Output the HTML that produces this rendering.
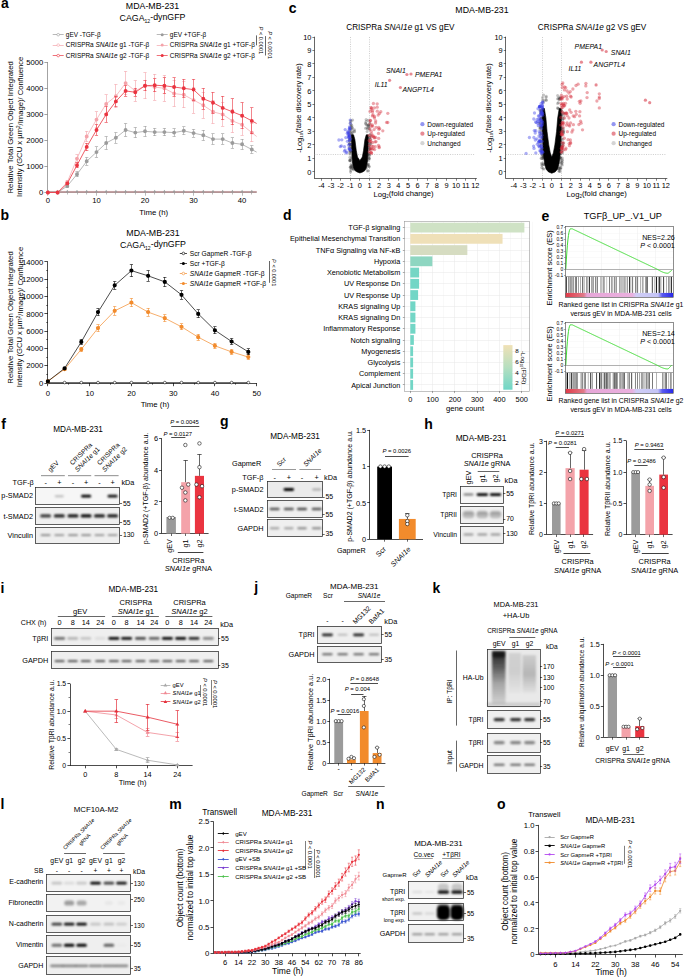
<!DOCTYPE html>
<html><head><meta charset="utf-8"><style>
html,body{margin:0;padding:0;background:#fff;}
svg{display:block;font-family:"Liberation Sans",sans-serif;}
</style></head><body>
<svg width="685" height="978" viewBox="0 0 685 978">
<defs>
<filter id="b1" x="-50%" y="-100%" width="200%" height="300%"><feGaussianBlur stdDeviation="0.8"/></filter>
<filter id="b2" x="-50%" y="-100%" width="200%" height="300%"><feGaussianBlur stdDeviation="1.1"/></filter>
<filter id="b3" x="-50%" y="-50%" width="200%" height="200%"><feGaussianBlur stdDeviation="2"/></filter>
</defs>
<rect width="685" height="978" fill="#fff"/>
<text x="0.90" y="8.40" font-size="14.00" font-weight="bold">a</text>
<text x="152.50" y="9.07" font-size="8.80" text-anchor="middle">MDA-MB-231</text>
<text x="152.50" y="21.37" font-size="8.80" text-anchor="middle">CAGA<tspan font-size="58%" dy="0.3em">12</tspan><tspan dy="-0.3em">​</tspan>-dynGFP</text>
<line x1="47.50" y1="62.00" x2="47.50" y2="192.50" stroke="#8c8c8c" stroke-width="0.80" />
<line x1="47.90" y1="192.50" x2="256.67" y2="192.50" stroke="#8c8c8c" stroke-width="0.80" />
<line x1="44.40" y1="192.50" x2="47.90" y2="192.50" stroke="#8c8c8c" stroke-width="0.80" />
<text x="43.30" y="195.27" font-size="7.70" text-anchor="end">0</text>
<line x1="44.40" y1="166.50" x2="47.90" y2="166.50" stroke="#8c8c8c" stroke-width="0.80" />
<text x="43.30" y="169.23" font-size="7.70" text-anchor="end">1000</text>
<line x1="44.40" y1="140.50" x2="47.90" y2="140.50" stroke="#8c8c8c" stroke-width="0.80" />
<text x="43.30" y="143.19" font-size="7.70" text-anchor="end">2000</text>
<line x1="44.40" y1="114.50" x2="47.90" y2="114.50" stroke="#8c8c8c" stroke-width="0.80" />
<text x="43.30" y="117.15" font-size="7.70" text-anchor="end">3000</text>
<line x1="44.40" y1="88.50" x2="47.90" y2="88.50" stroke="#8c8c8c" stroke-width="0.80" />
<text x="43.30" y="91.11" font-size="7.70" text-anchor="end">4000</text>
<line x1="44.40" y1="62.50" x2="47.90" y2="62.50" stroke="#8c8c8c" stroke-width="0.80" />
<text x="43.30" y="65.07" font-size="7.70" text-anchor="end">5000</text>
<line x1="47.50" y1="192.50" x2="47.50" y2="195.70" stroke="#8c8c8c" stroke-width="0.60" />
<line x1="57.50" y1="192.50" x2="57.50" y2="194.50" stroke="#8c8c8c" stroke-width="0.60" />
<line x1="67.50" y1="192.50" x2="67.50" y2="194.50" stroke="#8c8c8c" stroke-width="0.60" />
<line x1="77.50" y1="192.50" x2="77.50" y2="194.50" stroke="#8c8c8c" stroke-width="0.60" />
<line x1="86.50" y1="192.50" x2="86.50" y2="194.50" stroke="#8c8c8c" stroke-width="0.60" />
<line x1="96.50" y1="192.50" x2="96.50" y2="195.70" stroke="#8c8c8c" stroke-width="0.60" />
<line x1="106.50" y1="192.50" x2="106.50" y2="194.50" stroke="#8c8c8c" stroke-width="0.60" />
<line x1="115.50" y1="192.50" x2="115.50" y2="194.50" stroke="#8c8c8c" stroke-width="0.60" />
<line x1="125.50" y1="192.50" x2="125.50" y2="194.50" stroke="#8c8c8c" stroke-width="0.60" />
<line x1="135.50" y1="192.50" x2="135.50" y2="194.50" stroke="#8c8c8c" stroke-width="0.60" />
<line x1="145.50" y1="192.50" x2="145.50" y2="195.70" stroke="#8c8c8c" stroke-width="0.60" />
<line x1="154.50" y1="192.50" x2="154.50" y2="194.50" stroke="#8c8c8c" stroke-width="0.60" />
<line x1="164.50" y1="192.50" x2="164.50" y2="194.50" stroke="#8c8c8c" stroke-width="0.60" />
<line x1="174.50" y1="192.50" x2="174.50" y2="194.50" stroke="#8c8c8c" stroke-width="0.60" />
<line x1="183.50" y1="192.50" x2="183.50" y2="194.50" stroke="#8c8c8c" stroke-width="0.60" />
<line x1="193.50" y1="192.50" x2="193.50" y2="195.70" stroke="#8c8c8c" stroke-width="0.60" />
<line x1="203.50" y1="192.50" x2="203.50" y2="194.50" stroke="#8c8c8c" stroke-width="0.60" />
<line x1="212.50" y1="192.50" x2="212.50" y2="194.50" stroke="#8c8c8c" stroke-width="0.60" />
<line x1="222.50" y1="192.50" x2="222.50" y2="194.50" stroke="#8c8c8c" stroke-width="0.60" />
<line x1="232.50" y1="192.50" x2="232.50" y2="194.50" stroke="#8c8c8c" stroke-width="0.60" />
<line x1="242.50" y1="192.50" x2="242.50" y2="195.70" stroke="#8c8c8c" stroke-width="0.60" />
<line x1="251.50" y1="192.50" x2="251.50" y2="194.50" stroke="#8c8c8c" stroke-width="0.60" />
<text x="47.90" y="202.57" font-size="7.70" text-anchor="middle">0</text>
<text x="96.45" y="202.57" font-size="7.70" text-anchor="middle">10</text>
<text x="145.00" y="202.57" font-size="7.70" text-anchor="middle">20</text>
<text x="193.55" y="202.57" font-size="7.70" text-anchor="middle">30</text>
<text x="242.10" y="202.57" font-size="7.70" text-anchor="middle">40</text>
<text x="153.70" y="215.31" font-size="7.80" text-anchor="middle">Time (h)</text>
<text x="0" y="2.81" font-size="7.80" text-anchor="middle" transform="translate(9.80 127.30) rotate(-90)">Relative Total Green Object Integrated</text>
<text x="0" y="2.75" font-size="7.65" text-anchor="middle" transform="translate(18.80 126.80) rotate(-90)">Intensity (GCU x µm<tspan font-size="60%" dy="-0.4em">2</tspan><tspan dy="0.4em">​</tspan>/Image)/ Confluence</text>
<polyline points="47.90,191.46 256.67,191.46" fill="none" stroke="#f3b0b5" stroke-width="0.70" stroke-linejoin="round" />
<polyline points="47.90,191.98 256.67,191.98" fill="none" stroke="#ef6b72" stroke-width="0.60" stroke-linejoin="round" />
<polyline points="47.90,191.72 256.67,191.72" fill="none" stroke="#9b9b9b" stroke-width="0.70" stroke-linejoin="round" />
<path d="M47.9 189.8l1.6 2.7h-3.2zM57.6 189.8l1.6 2.7h-3.2zM67.3 189.8l1.6 2.7h-3.2zM77.0 189.8l1.6 2.7h-3.2zM86.7 189.8l1.6 2.7h-3.2zM96.5 189.8l1.6 2.7h-3.2zM106.2 189.8l1.6 2.7h-3.2zM115.9 189.8l1.6 2.7h-3.2zM125.6 189.8l1.6 2.7h-3.2zM135.3 189.8l1.6 2.7h-3.2zM145.0 189.8l1.6 2.7h-3.2zM154.7 189.8l1.6 2.7h-3.2zM164.4 189.8l1.6 2.7h-3.2zM174.1 189.8l1.6 2.7h-3.2zM183.8 189.8l1.6 2.7h-3.2zM193.6 189.8l1.6 2.7h-3.2zM203.3 189.8l1.6 2.7h-3.2zM213.0 189.8l1.6 2.7h-3.2zM222.7 189.8l1.6 2.7h-3.2zM232.4 189.8l1.6 2.7h-3.2zM242.1 189.8l1.6 2.7h-3.2zM251.8 189.8l1.6 2.7h-3.2z" fill="#9b9b9b"/>
<polyline points="47.90,192.50 57.61,192.50 67.32,185.99 77.03,174.27 86.74,161.25 96.45,152.14 106.16,143.02 115.87,137.82 125.58,130.00 135.29,132.61 145.00,131.31 154.71,132.09 164.42,132.09 174.13,132.61 183.84,130.79 193.55,133.13 203.26,135.21 212.97,139.12 222.68,139.12 232.39,143.02 242.10,144.33 251.81,149.53 256.67,152.14" fill="none" stroke="#9b9b9b" stroke-width="0.70" stroke-linejoin="round" />
<line x1="67.50" y1="184.69" x2="67.50" y2="187.29" stroke="#9b9b9b" stroke-width="0.60" />
<line x1="65.72" y1="184.50" x2="68.92" y2="184.50" stroke="#9b9b9b" stroke-width="0.60" />
<line x1="65.72" y1="187.50" x2="68.92" y2="187.50" stroke="#9b9b9b" stroke-width="0.60" />
<line x1="77.50" y1="171.67" x2="77.50" y2="176.88" stroke="#9b9b9b" stroke-width="0.60" />
<line x1="75.43" y1="171.50" x2="78.63" y2="171.50" stroke="#9b9b9b" stroke-width="0.60" />
<line x1="75.43" y1="176.50" x2="78.63" y2="176.50" stroke="#9b9b9b" stroke-width="0.60" />
<line x1="86.50" y1="157.35" x2="86.50" y2="165.16" stroke="#9b9b9b" stroke-width="0.60" />
<line x1="85.14" y1="157.50" x2="88.34" y2="157.50" stroke="#9b9b9b" stroke-width="0.60" />
<line x1="85.14" y1="165.50" x2="88.34" y2="165.50" stroke="#9b9b9b" stroke-width="0.60" />
<line x1="96.50" y1="146.93" x2="96.50" y2="157.35" stroke="#9b9b9b" stroke-width="0.60" />
<line x1="94.85" y1="146.50" x2="98.05" y2="146.50" stroke="#9b9b9b" stroke-width="0.60" />
<line x1="94.85" y1="157.50" x2="98.05" y2="157.50" stroke="#9b9b9b" stroke-width="0.60" />
<line x1="106.50" y1="136.51" x2="106.50" y2="149.53" stroke="#9b9b9b" stroke-width="0.60" />
<line x1="104.56" y1="136.50" x2="107.76" y2="136.50" stroke="#9b9b9b" stroke-width="0.60" />
<line x1="104.56" y1="149.50" x2="107.76" y2="149.50" stroke="#9b9b9b" stroke-width="0.60" />
<line x1="115.50" y1="132.61" x2="115.50" y2="143.02" stroke="#9b9b9b" stroke-width="0.60" />
<line x1="114.27" y1="132.50" x2="117.47" y2="132.50" stroke="#9b9b9b" stroke-width="0.60" />
<line x1="114.27" y1="143.50" x2="117.47" y2="143.50" stroke="#9b9b9b" stroke-width="0.60" />
<line x1="125.50" y1="123.49" x2="125.50" y2="136.51" stroke="#9b9b9b" stroke-width="0.60" />
<line x1="123.98" y1="123.50" x2="127.18" y2="123.50" stroke="#9b9b9b" stroke-width="0.60" />
<line x1="123.98" y1="136.50" x2="127.18" y2="136.50" stroke="#9b9b9b" stroke-width="0.60" />
<line x1="135.50" y1="127.40" x2="135.50" y2="137.82" stroke="#9b9b9b" stroke-width="0.60" />
<line x1="133.69" y1="127.50" x2="136.89" y2="127.50" stroke="#9b9b9b" stroke-width="0.60" />
<line x1="133.69" y1="137.50" x2="136.89" y2="137.50" stroke="#9b9b9b" stroke-width="0.60" />
<line x1="145.50" y1="126.10" x2="145.50" y2="136.51" stroke="#9b9b9b" stroke-width="0.60" />
<line x1="143.40" y1="126.50" x2="146.60" y2="126.50" stroke="#9b9b9b" stroke-width="0.60" />
<line x1="143.40" y1="136.50" x2="146.60" y2="136.50" stroke="#9b9b9b" stroke-width="0.60" />
<line x1="154.50" y1="128.18" x2="154.50" y2="135.99" stroke="#9b9b9b" stroke-width="0.60" />
<line x1="153.11" y1="128.50" x2="156.31" y2="128.50" stroke="#9b9b9b" stroke-width="0.60" />
<line x1="153.11" y1="135.50" x2="156.31" y2="135.50" stroke="#9b9b9b" stroke-width="0.60" />
<line x1="164.50" y1="128.18" x2="164.50" y2="135.99" stroke="#9b9b9b" stroke-width="0.60" />
<line x1="162.82" y1="128.50" x2="166.02" y2="128.50" stroke="#9b9b9b" stroke-width="0.60" />
<line x1="162.82" y1="135.50" x2="166.02" y2="135.50" stroke="#9b9b9b" stroke-width="0.60" />
<line x1="174.50" y1="128.70" x2="174.50" y2="136.51" stroke="#9b9b9b" stroke-width="0.60" />
<line x1="172.53" y1="128.50" x2="175.73" y2="128.50" stroke="#9b9b9b" stroke-width="0.60" />
<line x1="172.53" y1="136.50" x2="175.73" y2="136.50" stroke="#9b9b9b" stroke-width="0.60" />
<line x1="183.50" y1="126.88" x2="183.50" y2="134.69" stroke="#9b9b9b" stroke-width="0.60" />
<line x1="182.24" y1="126.50" x2="185.44" y2="126.50" stroke="#9b9b9b" stroke-width="0.60" />
<line x1="182.24" y1="134.50" x2="185.44" y2="134.50" stroke="#9b9b9b" stroke-width="0.60" />
<line x1="193.50" y1="129.22" x2="193.50" y2="137.03" stroke="#9b9b9b" stroke-width="0.60" />
<line x1="191.95" y1="129.50" x2="195.15" y2="129.50" stroke="#9b9b9b" stroke-width="0.60" />
<line x1="191.95" y1="137.50" x2="195.15" y2="137.50" stroke="#9b9b9b" stroke-width="0.60" />
<line x1="203.50" y1="130.00" x2="203.50" y2="140.42" stroke="#9b9b9b" stroke-width="0.60" />
<line x1="201.66" y1="130.50" x2="204.86" y2="130.50" stroke="#9b9b9b" stroke-width="0.60" />
<line x1="201.66" y1="140.50" x2="204.86" y2="140.50" stroke="#9b9b9b" stroke-width="0.60" />
<line x1="212.50" y1="133.91" x2="212.50" y2="144.33" stroke="#9b9b9b" stroke-width="0.60" />
<line x1="211.37" y1="133.50" x2="214.57" y2="133.50" stroke="#9b9b9b" stroke-width="0.60" />
<line x1="211.37" y1="144.50" x2="214.57" y2="144.50" stroke="#9b9b9b" stroke-width="0.60" />
<line x1="222.50" y1="133.91" x2="222.50" y2="144.33" stroke="#9b9b9b" stroke-width="0.60" />
<line x1="221.08" y1="133.50" x2="224.28" y2="133.50" stroke="#9b9b9b" stroke-width="0.60" />
<line x1="221.08" y1="144.50" x2="224.28" y2="144.50" stroke="#9b9b9b" stroke-width="0.60" />
<line x1="232.50" y1="137.82" x2="232.50" y2="148.23" stroke="#9b9b9b" stroke-width="0.60" />
<line x1="230.79" y1="137.50" x2="233.99" y2="137.50" stroke="#9b9b9b" stroke-width="0.60" />
<line x1="230.79" y1="148.50" x2="233.99" y2="148.50" stroke="#9b9b9b" stroke-width="0.60" />
<line x1="242.50" y1="139.12" x2="242.50" y2="149.53" stroke="#9b9b9b" stroke-width="0.60" />
<line x1="240.50" y1="139.50" x2="243.70" y2="139.50" stroke="#9b9b9b" stroke-width="0.60" />
<line x1="240.50" y1="149.50" x2="243.70" y2="149.50" stroke="#9b9b9b" stroke-width="0.60" />
<line x1="251.50" y1="145.63" x2="251.50" y2="153.44" stroke="#9b9b9b" stroke-width="0.60" />
<line x1="250.21" y1="145.50" x2="253.41" y2="145.50" stroke="#9b9b9b" stroke-width="0.60" />
<line x1="250.21" y1="153.50" x2="253.41" y2="153.50" stroke="#9b9b9b" stroke-width="0.60" />
<path d="M47.9 192.5h0M57.6 192.5h0M67.3 186.0h0M77.0 174.3h0M86.7 161.3h0M96.5 152.1h0M106.2 143.0h0M115.9 137.8h0M125.6 130.0h0M135.3 132.6h0M145.0 131.3h0M154.7 132.1h0M164.4 132.1h0M174.1 132.6h0M183.8 130.8h0M193.6 133.1h0M203.3 135.2h0M213.0 139.1h0M222.7 139.1h0M232.4 143.0h0M242.1 144.3h0M251.8 149.5h0" stroke="#9b9b9b" stroke-width="3.90" stroke-linecap="round" stroke-opacity="1.00" fill="none"/>
<polyline points="47.90,192.50 57.61,192.50 67.32,182.08 77.03,158.65 86.74,136.51 96.45,119.59 106.16,103.96 115.87,96.15 125.58,83.13 135.29,90.94 145.00,85.74 154.71,87.04 164.42,88.34 174.13,93.55 183.84,94.85 193.55,100.06 203.26,105.27 212.97,111.78 222.68,114.38 232.39,120.89 242.10,124.80 251.81,132.61 256.67,136.51" fill="none" stroke="#f4a3aa" stroke-width="0.70" stroke-linejoin="round" />
<line x1="67.50" y1="180.00" x2="67.50" y2="184.17" stroke="#f4a3aa" stroke-width="0.60" />
<line x1="65.72" y1="180.50" x2="68.92" y2="180.50" stroke="#f4a3aa" stroke-width="0.60" />
<line x1="65.72" y1="184.50" x2="68.92" y2="184.50" stroke="#f4a3aa" stroke-width="0.60" />
<line x1="77.50" y1="154.74" x2="77.50" y2="162.55" stroke="#f4a3aa" stroke-width="0.60" />
<line x1="75.43" y1="154.50" x2="78.63" y2="154.50" stroke="#f4a3aa" stroke-width="0.60" />
<line x1="75.43" y1="162.50" x2="78.63" y2="162.50" stroke="#f4a3aa" stroke-width="0.60" />
<line x1="86.50" y1="131.31" x2="86.50" y2="141.72" stroke="#f4a3aa" stroke-width="0.60" />
<line x1="85.14" y1="131.50" x2="88.34" y2="131.50" stroke="#f4a3aa" stroke-width="0.60" />
<line x1="85.14" y1="141.50" x2="88.34" y2="141.50" stroke="#f4a3aa" stroke-width="0.60" />
<line x1="96.50" y1="111.78" x2="96.50" y2="127.40" stroke="#f4a3aa" stroke-width="0.60" />
<line x1="94.85" y1="111.50" x2="98.05" y2="111.50" stroke="#f4a3aa" stroke-width="0.60" />
<line x1="94.85" y1="127.50" x2="98.05" y2="127.50" stroke="#f4a3aa" stroke-width="0.60" />
<line x1="106.50" y1="94.85" x2="106.50" y2="113.08" stroke="#f4a3aa" stroke-width="0.60" />
<line x1="104.56" y1="94.50" x2="107.76" y2="94.50" stroke="#f4a3aa" stroke-width="0.60" />
<line x1="104.56" y1="113.50" x2="107.76" y2="113.50" stroke="#f4a3aa" stroke-width="0.60" />
<line x1="115.50" y1="84.43" x2="115.50" y2="107.87" stroke="#f4a3aa" stroke-width="0.60" />
<line x1="114.27" y1="84.50" x2="117.47" y2="84.50" stroke="#f4a3aa" stroke-width="0.60" />
<line x1="114.27" y1="107.50" x2="117.47" y2="107.50" stroke="#f4a3aa" stroke-width="0.60" />
<line x1="125.50" y1="71.41" x2="125.50" y2="94.85" stroke="#f4a3aa" stroke-width="0.60" />
<line x1="123.98" y1="71.50" x2="127.18" y2="71.50" stroke="#f4a3aa" stroke-width="0.60" />
<line x1="123.98" y1="94.50" x2="127.18" y2="94.50" stroke="#f4a3aa" stroke-width="0.60" />
<line x1="135.50" y1="80.53" x2="135.50" y2="101.36" stroke="#f4a3aa" stroke-width="0.60" />
<line x1="133.69" y1="80.50" x2="136.89" y2="80.50" stroke="#f4a3aa" stroke-width="0.60" />
<line x1="133.69" y1="101.50" x2="136.89" y2="101.50" stroke="#f4a3aa" stroke-width="0.60" />
<line x1="145.50" y1="72.72" x2="145.50" y2="98.76" stroke="#f4a3aa" stroke-width="0.60" />
<line x1="143.40" y1="72.50" x2="146.60" y2="72.50" stroke="#f4a3aa" stroke-width="0.60" />
<line x1="143.40" y1="98.50" x2="146.60" y2="98.50" stroke="#f4a3aa" stroke-width="0.60" />
<line x1="154.50" y1="74.02" x2="154.50" y2="100.06" stroke="#f4a3aa" stroke-width="0.60" />
<line x1="153.11" y1="74.50" x2="156.31" y2="74.50" stroke="#f4a3aa" stroke-width="0.60" />
<line x1="153.11" y1="100.50" x2="156.31" y2="100.50" stroke="#f4a3aa" stroke-width="0.60" />
<line x1="164.50" y1="75.32" x2="164.50" y2="101.36" stroke="#f4a3aa" stroke-width="0.60" />
<line x1="162.82" y1="75.50" x2="166.02" y2="75.50" stroke="#f4a3aa" stroke-width="0.60" />
<line x1="162.82" y1="101.50" x2="166.02" y2="101.50" stroke="#f4a3aa" stroke-width="0.60" />
<line x1="174.50" y1="80.53" x2="174.50" y2="106.57" stroke="#f4a3aa" stroke-width="0.60" />
<line x1="172.53" y1="80.50" x2="175.73" y2="80.50" stroke="#f4a3aa" stroke-width="0.60" />
<line x1="172.53" y1="106.50" x2="175.73" y2="106.50" stroke="#f4a3aa" stroke-width="0.60" />
<line x1="183.50" y1="81.83" x2="183.50" y2="107.87" stroke="#f4a3aa" stroke-width="0.60" />
<line x1="182.24" y1="81.50" x2="185.44" y2="81.50" stroke="#f4a3aa" stroke-width="0.60" />
<line x1="182.24" y1="107.50" x2="185.44" y2="107.50" stroke="#f4a3aa" stroke-width="0.60" />
<line x1="193.50" y1="87.04" x2="193.50" y2="113.08" stroke="#f4a3aa" stroke-width="0.60" />
<line x1="191.95" y1="87.50" x2="195.15" y2="87.50" stroke="#f4a3aa" stroke-width="0.60" />
<line x1="191.95" y1="113.50" x2="195.15" y2="113.50" stroke="#f4a3aa" stroke-width="0.60" />
<line x1="203.50" y1="92.25" x2="203.50" y2="118.29" stroke="#f4a3aa" stroke-width="0.60" />
<line x1="201.66" y1="92.50" x2="204.86" y2="92.50" stroke="#f4a3aa" stroke-width="0.60" />
<line x1="201.66" y1="118.50" x2="204.86" y2="118.50" stroke="#f4a3aa" stroke-width="0.60" />
<line x1="212.50" y1="100.06" x2="212.50" y2="123.49" stroke="#f4a3aa" stroke-width="0.60" />
<line x1="211.37" y1="100.50" x2="214.57" y2="100.50" stroke="#f4a3aa" stroke-width="0.60" />
<line x1="211.37" y1="123.50" x2="214.57" y2="123.50" stroke="#f4a3aa" stroke-width="0.60" />
<line x1="222.50" y1="102.66" x2="222.50" y2="126.10" stroke="#f4a3aa" stroke-width="0.60" />
<line x1="221.08" y1="102.50" x2="224.28" y2="102.50" stroke="#f4a3aa" stroke-width="0.60" />
<line x1="221.08" y1="126.50" x2="224.28" y2="126.50" stroke="#f4a3aa" stroke-width="0.60" />
<line x1="232.50" y1="109.17" x2="232.50" y2="132.61" stroke="#f4a3aa" stroke-width="0.60" />
<line x1="230.79" y1="109.50" x2="233.99" y2="109.50" stroke="#f4a3aa" stroke-width="0.60" />
<line x1="230.79" y1="132.50" x2="233.99" y2="132.50" stroke="#f4a3aa" stroke-width="0.60" />
<line x1="242.50" y1="114.38" x2="242.50" y2="135.21" stroke="#f4a3aa" stroke-width="0.60" />
<line x1="240.50" y1="114.50" x2="243.70" y2="114.50" stroke="#f4a3aa" stroke-width="0.60" />
<line x1="240.50" y1="135.50" x2="243.70" y2="135.50" stroke="#f4a3aa" stroke-width="0.60" />
<line x1="251.50" y1="123.49" x2="251.50" y2="141.72" stroke="#f4a3aa" stroke-width="0.60" />
<line x1="250.21" y1="123.50" x2="253.41" y2="123.50" stroke="#f4a3aa" stroke-width="0.60" />
<line x1="250.21" y1="141.50" x2="253.41" y2="141.50" stroke="#f4a3aa" stroke-width="0.60" />
<path d="M47.9 192.5h0M57.6 192.5h0M67.3 182.1h0M77.0 158.6h0M86.7 136.5h0M96.5 119.6h0M106.2 104.0h0M115.9 96.2h0M125.6 83.1h0M135.3 90.9h0M145.0 85.7h0M154.7 87.0h0M164.4 88.3h0M174.1 93.5h0M183.8 94.8h0M193.6 100.1h0M203.3 105.3h0M213.0 111.8h0M222.7 114.4h0M232.4 120.9h0M242.1 124.8h0M251.8 132.6h0" stroke="#f4a3aa" stroke-width="3.90" stroke-linecap="round" stroke-opacity="1.00" fill="none"/>
<polyline points="47.90,192.50 57.61,192.50 67.32,183.39 77.03,165.16 86.74,146.93 96.45,130.00 106.16,114.38 115.87,101.36 125.58,90.94 135.29,92.25 145.00,85.74 154.71,85.22 164.42,85.74 174.13,87.04 183.84,88.34 193.55,89.64 203.26,98.76 212.97,102.66 222.68,107.87 232.39,111.78 242.10,115.68 251.81,120.89 256.67,123.49" fill="none" stroke="#ea3440" stroke-width="0.80" stroke-linejoin="round" />
<line x1="67.50" y1="182.08" x2="67.50" y2="184.69" stroke="#ea3440" stroke-width="0.60" />
<line x1="65.72" y1="182.50" x2="68.92" y2="182.50" stroke="#ea3440" stroke-width="0.60" />
<line x1="65.72" y1="184.50" x2="68.92" y2="184.50" stroke="#ea3440" stroke-width="0.60" />
<line x1="77.50" y1="162.55" x2="77.50" y2="167.76" stroke="#ea3440" stroke-width="0.60" />
<line x1="75.43" y1="162.50" x2="78.63" y2="162.50" stroke="#ea3440" stroke-width="0.60" />
<line x1="75.43" y1="167.50" x2="78.63" y2="167.50" stroke="#ea3440" stroke-width="0.60" />
<line x1="86.50" y1="143.02" x2="86.50" y2="150.84" stroke="#ea3440" stroke-width="0.60" />
<line x1="85.14" y1="143.50" x2="88.34" y2="143.50" stroke="#ea3440" stroke-width="0.60" />
<line x1="85.14" y1="150.50" x2="88.34" y2="150.50" stroke="#ea3440" stroke-width="0.60" />
<line x1="96.50" y1="124.80" x2="96.50" y2="135.21" stroke="#ea3440" stroke-width="0.60" />
<line x1="94.85" y1="124.50" x2="98.05" y2="124.50" stroke="#ea3440" stroke-width="0.60" />
<line x1="94.85" y1="135.50" x2="98.05" y2="135.50" stroke="#ea3440" stroke-width="0.60" />
<line x1="106.50" y1="106.57" x2="106.50" y2="122.19" stroke="#ea3440" stroke-width="0.60" />
<line x1="104.56" y1="106.50" x2="107.76" y2="106.50" stroke="#ea3440" stroke-width="0.60" />
<line x1="104.56" y1="122.50" x2="107.76" y2="122.50" stroke="#ea3440" stroke-width="0.60" />
<line x1="115.50" y1="96.15" x2="115.50" y2="106.57" stroke="#ea3440" stroke-width="0.60" />
<line x1="114.27" y1="96.50" x2="117.47" y2="96.50" stroke="#ea3440" stroke-width="0.60" />
<line x1="114.27" y1="106.50" x2="117.47" y2="106.50" stroke="#ea3440" stroke-width="0.60" />
<line x1="125.50" y1="85.74" x2="125.50" y2="96.15" stroke="#ea3440" stroke-width="0.60" />
<line x1="123.98" y1="85.50" x2="127.18" y2="85.50" stroke="#ea3440" stroke-width="0.60" />
<line x1="123.98" y1="96.50" x2="127.18" y2="96.50" stroke="#ea3440" stroke-width="0.60" />
<line x1="135.50" y1="88.34" x2="135.50" y2="96.15" stroke="#ea3440" stroke-width="0.60" />
<line x1="133.69" y1="88.50" x2="136.89" y2="88.50" stroke="#ea3440" stroke-width="0.60" />
<line x1="133.69" y1="96.50" x2="136.89" y2="96.50" stroke="#ea3440" stroke-width="0.60" />
<line x1="145.50" y1="80.53" x2="145.50" y2="90.94" stroke="#ea3440" stroke-width="0.60" />
<line x1="143.40" y1="80.50" x2="146.60" y2="80.50" stroke="#ea3440" stroke-width="0.60" />
<line x1="143.40" y1="90.50" x2="146.60" y2="90.50" stroke="#ea3440" stroke-width="0.60" />
<line x1="154.50" y1="78.71" x2="154.50" y2="91.73" stroke="#ea3440" stroke-width="0.60" />
<line x1="153.11" y1="78.50" x2="156.31" y2="78.50" stroke="#ea3440" stroke-width="0.60" />
<line x1="153.11" y1="91.50" x2="156.31" y2="91.50" stroke="#ea3440" stroke-width="0.60" />
<line x1="164.50" y1="77.92" x2="164.50" y2="93.55" stroke="#ea3440" stroke-width="0.60" />
<line x1="162.82" y1="77.50" x2="166.02" y2="77.50" stroke="#ea3440" stroke-width="0.60" />
<line x1="162.82" y1="93.50" x2="166.02" y2="93.50" stroke="#ea3440" stroke-width="0.60" />
<line x1="174.50" y1="77.92" x2="174.50" y2="96.15" stroke="#ea3440" stroke-width="0.60" />
<line x1="172.53" y1="77.50" x2="175.73" y2="77.50" stroke="#ea3440" stroke-width="0.60" />
<line x1="172.53" y1="96.50" x2="175.73" y2="96.50" stroke="#ea3440" stroke-width="0.60" />
<line x1="183.50" y1="79.23" x2="183.50" y2="97.45" stroke="#ea3440" stroke-width="0.60" />
<line x1="182.24" y1="79.50" x2="185.44" y2="79.50" stroke="#ea3440" stroke-width="0.60" />
<line x1="182.24" y1="97.50" x2="185.44" y2="97.50" stroke="#ea3440" stroke-width="0.60" />
<line x1="193.50" y1="79.23" x2="193.50" y2="100.06" stroke="#ea3440" stroke-width="0.60" />
<line x1="191.95" y1="79.50" x2="195.15" y2="79.50" stroke="#ea3440" stroke-width="0.60" />
<line x1="191.95" y1="100.50" x2="195.15" y2="100.50" stroke="#ea3440" stroke-width="0.60" />
<line x1="203.50" y1="88.34" x2="203.50" y2="109.17" stroke="#ea3440" stroke-width="0.60" />
<line x1="201.66" y1="88.50" x2="204.86" y2="88.50" stroke="#ea3440" stroke-width="0.60" />
<line x1="201.66" y1="109.50" x2="204.86" y2="109.50" stroke="#ea3440" stroke-width="0.60" />
<line x1="212.50" y1="92.25" x2="212.50" y2="113.08" stroke="#ea3440" stroke-width="0.60" />
<line x1="211.37" y1="92.50" x2="214.57" y2="92.50" stroke="#ea3440" stroke-width="0.60" />
<line x1="211.37" y1="113.50" x2="214.57" y2="113.50" stroke="#ea3440" stroke-width="0.60" />
<line x1="222.50" y1="96.15" x2="222.50" y2="119.59" stroke="#ea3440" stroke-width="0.60" />
<line x1="221.08" y1="96.50" x2="224.28" y2="96.50" stroke="#ea3440" stroke-width="0.60" />
<line x1="221.08" y1="119.50" x2="224.28" y2="119.50" stroke="#ea3440" stroke-width="0.60" />
<line x1="232.50" y1="98.76" x2="232.50" y2="124.80" stroke="#ea3440" stroke-width="0.60" />
<line x1="230.79" y1="98.50" x2="233.99" y2="98.50" stroke="#ea3440" stroke-width="0.60" />
<line x1="230.79" y1="124.50" x2="233.99" y2="124.50" stroke="#ea3440" stroke-width="0.60" />
<line x1="242.50" y1="102.66" x2="242.50" y2="128.70" stroke="#ea3440" stroke-width="0.60" />
<line x1="240.50" y1="102.50" x2="243.70" y2="102.50" stroke="#ea3440" stroke-width="0.60" />
<line x1="240.50" y1="128.50" x2="243.70" y2="128.50" stroke="#ea3440" stroke-width="0.60" />
<line x1="251.50" y1="107.87" x2="251.50" y2="133.91" stroke="#ea3440" stroke-width="0.60" />
<line x1="250.21" y1="107.50" x2="253.41" y2="107.50" stroke="#ea3440" stroke-width="0.60" />
<line x1="250.21" y1="133.50" x2="253.41" y2="133.50" stroke="#ea3440" stroke-width="0.60" />
<path d="M47.9 192.5h0M57.6 192.5h0M67.3 183.4h0M77.0 165.2h0M86.7 146.9h0M96.5 130.0h0M106.2 114.4h0M115.9 101.4h0M125.6 90.9h0M135.3 92.2h0M145.0 85.7h0M154.7 85.2h0M164.4 85.7h0M174.1 87.0h0M183.8 88.3h0M193.6 89.6h0M203.3 98.8h0M213.0 102.7h0M222.7 107.9h0M232.4 111.8h0M242.1 115.7h0M251.8 120.9h0" stroke="#ea3440" stroke-width="3.90" stroke-linecap="round" stroke-opacity="1.00" fill="none"/>
<line x1="52.70" y1="34.50" x2="63.70" y2="34.50" stroke="#9b9b9b" stroke-width="0.70" />
<circle cx="58.20" cy="34.70" r="1.30" fill="#fff" stroke="#9b9b9b" stroke-width="0.60" />
<text x="65.80" y="37.02" font-size="6.45">gEV -TGF-β</text>
<line x1="52.70" y1="45.50" x2="63.70" y2="45.50" stroke="#f4a3aa" stroke-width="0.70" />
<circle cx="58.20" cy="45.10" r="1.30" fill="#fff" stroke="#f4a3aa" stroke-width="0.60" />
<text x="65.80" y="47.42" font-size="6.45">CRISPRa <tspan font-style="italic">SNAI1e</tspan> g1 -TGF-β</text>
<line x1="52.70" y1="55.50" x2="63.70" y2="55.50" stroke="#ea3440" stroke-width="0.70" />
<circle cx="58.20" cy="55.60" r="1.30" fill="#fff" stroke="#ea3440" stroke-width="0.60" />
<text x="65.80" y="57.92" font-size="6.45">CRISPRa <tspan font-style="italic">SNAI1e</tspan> g2 -TGF-β</text>
<line x1="156.70" y1="34.50" x2="167.70" y2="34.50" stroke="#9b9b9b" stroke-width="0.70" />
<circle cx="162.20" cy="34.70" r="1.50" fill="#9b9b9b" />
<text x="169.80" y="37.02" font-size="6.45">gEV +TGF-β</text>
<line x1="156.70" y1="45.50" x2="167.70" y2="45.50" stroke="#f4a3aa" stroke-width="0.70" />
<circle cx="162.20" cy="45.10" r="1.50" fill="#f4a3aa" />
<text x="169.80" y="47.42" font-size="6.45">CRISPRa <tspan font-style="italic">SNAI1e</tspan> g1 +TGF-β</text>
<line x1="156.70" y1="55.50" x2="167.70" y2="55.50" stroke="#ea3440" stroke-width="0.70" />
<circle cx="162.20" cy="55.60" r="1.50" fill="#ea3440" />
<text x="169.80" y="57.92" font-size="6.45">CRISPRa <tspan font-style="italic">SNAI1e</tspan> g2 +TGF-β</text>
<line x1="256.50" y1="35.40" x2="256.50" y2="45.30" stroke="#000" stroke-width="0.60" />
<text x="0" y="2.05" font-size="5.70" text-anchor="middle" transform="translate(260.70 40.40) rotate(90)"><tspan font-style="italic">P</tspan> &lt; 0.0001</text>
<line x1="265.50" y1="36.10" x2="265.50" y2="55.50" stroke="#000" stroke-width="0.60" />
<text x="0" y="2.05" font-size="5.70" text-anchor="middle" transform="translate(269.90 45.00) rotate(90)"><tspan font-style="italic">P</tspan> &lt; 0.0001</text>
<text x="0.60" y="220.40" font-size="14.00" font-weight="bold">b</text>
<text x="153.00" y="235.67" font-size="8.80" text-anchor="middle">MDA-MB-231</text>
<text x="153.00" y="247.97" font-size="8.80" text-anchor="middle">CAGA<tspan font-size="58%" dy="0.3em">12</tspan><tspan dy="-0.3em">​</tspan>-dynGFP</text>
<line x1="47.50" y1="261.70" x2="47.50" y2="383.00" stroke="#000" stroke-width="0.70" />
<line x1="47.90" y1="383.50" x2="256.70" y2="383.50" stroke="#000" stroke-width="0.70" />
<line x1="44.40" y1="383.50" x2="47.90" y2="383.50" stroke="#000" stroke-width="0.70" />
<text x="43.30" y="385.77" font-size="7.70" text-anchor="end">0</text>
<line x1="44.40" y1="365.50" x2="47.90" y2="365.50" stroke="#000" stroke-width="0.70" />
<text x="43.30" y="368.49" font-size="7.70" text-anchor="end">2000</text>
<line x1="44.40" y1="348.50" x2="47.90" y2="348.50" stroke="#000" stroke-width="0.70" />
<text x="43.30" y="351.20" font-size="7.70" text-anchor="end">4000</text>
<line x1="44.40" y1="331.50" x2="47.90" y2="331.50" stroke="#000" stroke-width="0.70" />
<text x="43.30" y="333.91" font-size="7.70" text-anchor="end">6000</text>
<line x1="44.40" y1="313.50" x2="47.90" y2="313.50" stroke="#000" stroke-width="0.70" />
<text x="43.30" y="316.63" font-size="7.70" text-anchor="end">8000</text>
<line x1="44.40" y1="296.50" x2="47.90" y2="296.50" stroke="#000" stroke-width="0.70" />
<text x="43.30" y="299.34" font-size="7.70" text-anchor="end">10000</text>
<line x1="44.40" y1="279.50" x2="47.90" y2="279.50" stroke="#000" stroke-width="0.70" />
<text x="43.30" y="282.06" font-size="7.70" text-anchor="end">12000</text>
<line x1="44.40" y1="261.50" x2="47.90" y2="261.50" stroke="#000" stroke-width="0.70" />
<text x="43.30" y="264.77" font-size="7.70" text-anchor="end">14000</text>
<line x1="46.10" y1="374.50" x2="47.90" y2="374.50" stroke="#000" stroke-width="0.50" />
<line x1="46.10" y1="357.50" x2="47.90" y2="357.50" stroke="#000" stroke-width="0.50" />
<line x1="46.10" y1="339.50" x2="47.90" y2="339.50" stroke="#000" stroke-width="0.50" />
<line x1="46.10" y1="322.50" x2="47.90" y2="322.50" stroke="#000" stroke-width="0.50" />
<line x1="46.10" y1="305.50" x2="47.90" y2="305.50" stroke="#000" stroke-width="0.50" />
<line x1="46.10" y1="287.50" x2="47.90" y2="287.50" stroke="#000" stroke-width="0.50" />
<line x1="46.10" y1="270.50" x2="47.90" y2="270.50" stroke="#000" stroke-width="0.50" />
<line x1="47.50" y1="383.00" x2="47.50" y2="386.20" stroke="#000" stroke-width="0.70" />
<text x="47.90" y="396.27" font-size="7.70" text-anchor="middle">0</text>
<line x1="89.50" y1="383.00" x2="89.50" y2="386.20" stroke="#000" stroke-width="0.70" />
<text x="89.66" y="396.27" font-size="7.70" text-anchor="middle">10</text>
<line x1="131.50" y1="383.00" x2="131.50" y2="386.20" stroke="#000" stroke-width="0.70" />
<text x="131.42" y="396.27" font-size="7.70" text-anchor="middle">20</text>
<line x1="173.50" y1="383.00" x2="173.50" y2="386.20" stroke="#000" stroke-width="0.70" />
<text x="173.18" y="396.27" font-size="7.70" text-anchor="middle">30</text>
<line x1="214.50" y1="383.00" x2="214.50" y2="386.20" stroke="#000" stroke-width="0.70" />
<text x="214.94" y="396.27" font-size="7.70" text-anchor="middle">40</text>
<line x1="256.50" y1="383.00" x2="256.50" y2="386.20" stroke="#000" stroke-width="0.70" />
<text x="256.70" y="396.27" font-size="7.70" text-anchor="middle">50</text>
<line x1="68.50" y1="383.00" x2="68.50" y2="384.80" stroke="#000" stroke-width="0.50" />
<line x1="110.50" y1="383.00" x2="110.50" y2="384.80" stroke="#000" stroke-width="0.50" />
<line x1="152.50" y1="383.00" x2="152.50" y2="384.80" stroke="#000" stroke-width="0.50" />
<line x1="194.50" y1="383.00" x2="194.50" y2="384.80" stroke="#000" stroke-width="0.50" />
<line x1="235.50" y1="383.00" x2="235.50" y2="384.80" stroke="#000" stroke-width="0.50" />
<text x="155.00" y="406.61" font-size="7.80" text-anchor="middle">Time (h)</text>
<text x="0" y="2.81" font-size="7.80" text-anchor="middle" transform="translate(9.80 317.50) rotate(-90)">Relative Total Green Object Integrated</text>
<text x="0" y="2.75" font-size="7.65" text-anchor="middle" transform="translate(18.80 317.00) rotate(-90)">Intensity (GCU x µm<tspan font-size="60%" dy="-0.4em">2</tspan><tspan dy="0.4em">​</tspan>/Image)/ Confluence</text>
<polyline points="47.90,382.57 248.35,382.57" fill="none" stroke="#000" stroke-width="0.60" stroke-linejoin="round" />
<circle cx="47.90" cy="382.57" r="1.35" fill="#fff" stroke="#000" stroke-width="0.55" />
<circle cx="64.60" cy="382.57" r="1.35" fill="#fff" stroke="#000" stroke-width="0.55" />
<circle cx="81.31" cy="382.57" r="1.35" fill="#fff" stroke="#000" stroke-width="0.55" />
<circle cx="98.01" cy="382.57" r="1.35" fill="#fff" stroke="#000" stroke-width="0.55" />
<circle cx="114.72" cy="382.57" r="1.35" fill="#fff" stroke="#000" stroke-width="0.55" />
<circle cx="131.42" cy="382.57" r="1.35" fill="#fff" stroke="#000" stroke-width="0.55" />
<circle cx="148.12" cy="382.57" r="1.35" fill="#fff" stroke="#000" stroke-width="0.55" />
<circle cx="164.83" cy="382.57" r="1.35" fill="#fff" stroke="#000" stroke-width="0.55" />
<circle cx="181.53" cy="382.57" r="1.35" fill="#fff" stroke="#000" stroke-width="0.55" />
<circle cx="198.24" cy="382.57" r="1.35" fill="#fff" stroke="#000" stroke-width="0.55" />
<circle cx="214.94" cy="382.57" r="1.35" fill="#fff" stroke="#000" stroke-width="0.55" />
<circle cx="231.64" cy="382.57" r="1.35" fill="#fff" stroke="#000" stroke-width="0.55" />
<circle cx="248.35" cy="382.57" r="1.35" fill="#fff" stroke="#000" stroke-width="0.55" />
<polyline points="47.90,381.27 64.60,369.17 81.31,349.29 98.01,328.12 114.72,310.83 131.42,302.62 148.12,312.13 164.83,318.18 181.53,326.82 198.24,337.19 214.94,345.84 231.64,351.89 248.35,357.07" fill="none" stroke="#f28b2c" stroke-width="0.70" stroke-linejoin="round" />
<line x1="47.50" y1="380.41" x2="47.50" y2="382.14" stroke="#f28b2c" stroke-width="0.60" />
<line x1="46.30" y1="380.50" x2="49.50" y2="380.50" stroke="#f28b2c" stroke-width="0.60" />
<line x1="46.30" y1="382.50" x2="49.50" y2="382.50" stroke="#f28b2c" stroke-width="0.60" />
<line x1="64.50" y1="368.31" x2="64.50" y2="370.04" stroke="#f28b2c" stroke-width="0.60" />
<line x1="63.00" y1="368.50" x2="66.20" y2="368.50" stroke="#f28b2c" stroke-width="0.60" />
<line x1="63.00" y1="370.50" x2="66.20" y2="370.50" stroke="#f28b2c" stroke-width="0.60" />
<line x1="81.50" y1="347.13" x2="81.50" y2="351.45" stroke="#f28b2c" stroke-width="0.60" />
<line x1="79.71" y1="347.50" x2="82.91" y2="347.50" stroke="#f28b2c" stroke-width="0.60" />
<line x1="79.71" y1="351.50" x2="82.91" y2="351.50" stroke="#f28b2c" stroke-width="0.60" />
<line x1="98.50" y1="324.66" x2="98.50" y2="331.57" stroke="#f28b2c" stroke-width="0.60" />
<line x1="96.41" y1="324.50" x2="99.61" y2="324.50" stroke="#f28b2c" stroke-width="0.60" />
<line x1="96.41" y1="331.50" x2="99.61" y2="331.50" stroke="#f28b2c" stroke-width="0.60" />
<line x1="114.50" y1="306.51" x2="114.50" y2="315.15" stroke="#f28b2c" stroke-width="0.60" />
<line x1="113.12" y1="306.50" x2="116.32" y2="306.50" stroke="#f28b2c" stroke-width="0.60" />
<line x1="113.12" y1="315.50" x2="116.32" y2="315.50" stroke="#f28b2c" stroke-width="0.60" />
<line x1="131.50" y1="298.30" x2="131.50" y2="306.94" stroke="#f28b2c" stroke-width="0.60" />
<line x1="129.82" y1="298.50" x2="133.02" y2="298.50" stroke="#f28b2c" stroke-width="0.60" />
<line x1="129.82" y1="306.50" x2="133.02" y2="306.50" stroke="#f28b2c" stroke-width="0.60" />
<line x1="148.50" y1="308.24" x2="148.50" y2="316.02" stroke="#f28b2c" stroke-width="0.60" />
<line x1="146.52" y1="308.50" x2="149.72" y2="308.50" stroke="#f28b2c" stroke-width="0.60" />
<line x1="146.52" y1="316.50" x2="149.72" y2="316.50" stroke="#f28b2c" stroke-width="0.60" />
<line x1="164.50" y1="314.72" x2="164.50" y2="321.63" stroke="#f28b2c" stroke-width="0.60" />
<line x1="163.23" y1="314.50" x2="166.43" y2="314.50" stroke="#f28b2c" stroke-width="0.60" />
<line x1="163.23" y1="321.50" x2="166.43" y2="321.50" stroke="#f28b2c" stroke-width="0.60" />
<line x1="181.50" y1="323.80" x2="181.50" y2="329.85" stroke="#f28b2c" stroke-width="0.60" />
<line x1="179.93" y1="323.50" x2="183.13" y2="323.50" stroke="#f28b2c" stroke-width="0.60" />
<line x1="179.93" y1="329.50" x2="183.13" y2="329.50" stroke="#f28b2c" stroke-width="0.60" />
<line x1="198.50" y1="334.17" x2="198.50" y2="340.22" stroke="#f28b2c" stroke-width="0.60" />
<line x1="196.64" y1="334.50" x2="199.84" y2="334.50" stroke="#f28b2c" stroke-width="0.60" />
<line x1="196.64" y1="340.50" x2="199.84" y2="340.50" stroke="#f28b2c" stroke-width="0.60" />
<line x1="214.50" y1="343.24" x2="214.50" y2="348.43" stroke="#f28b2c" stroke-width="0.60" />
<line x1="213.34" y1="343.50" x2="216.54" y2="343.50" stroke="#f28b2c" stroke-width="0.60" />
<line x1="213.34" y1="348.50" x2="216.54" y2="348.50" stroke="#f28b2c" stroke-width="0.60" />
<line x1="231.50" y1="349.29" x2="231.50" y2="354.48" stroke="#f28b2c" stroke-width="0.60" />
<line x1="230.04" y1="349.50" x2="233.24" y2="349.50" stroke="#f28b2c" stroke-width="0.60" />
<line x1="230.04" y1="354.50" x2="233.24" y2="354.50" stroke="#f28b2c" stroke-width="0.60" />
<line x1="248.50" y1="354.91" x2="248.50" y2="359.23" stroke="#f28b2c" stroke-width="0.60" />
<line x1="246.75" y1="354.50" x2="249.95" y2="354.50" stroke="#f28b2c" stroke-width="0.60" />
<line x1="246.75" y1="359.50" x2="249.95" y2="359.50" stroke="#f28b2c" stroke-width="0.60" />
<path d="M47.9 381.3h0M64.6 369.2h0M81.3 349.3h0M98.0 328.1h0M114.7 310.8h0M131.4 302.6h0M148.1 312.1h0M164.8 318.2h0M181.5 326.8h0M198.2 337.2h0M214.9 345.8h0M231.6 351.9h0M248.3 357.1h0" stroke="#f28b2c" stroke-width="4.20" stroke-linecap="round" stroke-opacity="1.00" fill="none"/>
<polyline points="47.90,381.27 64.60,368.31 81.31,341.95 98.01,312.13 114.72,285.33 131.42,270.64 148.12,275.83 164.83,281.88 181.53,294.84 198.24,313.86 214.94,330.28 231.64,341.51 248.35,351.89" fill="none" stroke="#000" stroke-width="0.70" stroke-linejoin="round" />
<line x1="47.50" y1="380.41" x2="47.50" y2="382.14" stroke="#000" stroke-width="0.60" />
<line x1="46.30" y1="380.50" x2="49.50" y2="380.50" stroke="#000" stroke-width="0.60" />
<line x1="46.30" y1="382.50" x2="49.50" y2="382.50" stroke="#000" stroke-width="0.60" />
<line x1="64.50" y1="367.44" x2="64.50" y2="369.17" stroke="#000" stroke-width="0.60" />
<line x1="63.00" y1="367.50" x2="66.20" y2="367.50" stroke="#000" stroke-width="0.60" />
<line x1="63.00" y1="369.50" x2="66.20" y2="369.50" stroke="#000" stroke-width="0.60" />
<line x1="81.50" y1="339.35" x2="81.50" y2="344.54" stroke="#000" stroke-width="0.60" />
<line x1="79.71" y1="339.50" x2="82.91" y2="339.50" stroke="#000" stroke-width="0.60" />
<line x1="79.71" y1="344.50" x2="82.91" y2="344.50" stroke="#000" stroke-width="0.60" />
<line x1="98.50" y1="308.67" x2="98.50" y2="315.58" stroke="#000" stroke-width="0.60" />
<line x1="96.41" y1="308.50" x2="99.61" y2="308.50" stroke="#000" stroke-width="0.60" />
<line x1="96.41" y1="315.50" x2="99.61" y2="315.50" stroke="#000" stroke-width="0.60" />
<line x1="114.50" y1="281.44" x2="114.50" y2="289.22" stroke="#000" stroke-width="0.60" />
<line x1="113.12" y1="281.50" x2="116.32" y2="281.50" stroke="#000" stroke-width="0.60" />
<line x1="113.12" y1="289.50" x2="116.32" y2="289.50" stroke="#000" stroke-width="0.60" />
<line x1="131.50" y1="264.59" x2="131.50" y2="276.69" stroke="#000" stroke-width="0.60" />
<line x1="129.82" y1="264.50" x2="133.02" y2="264.50" stroke="#000" stroke-width="0.60" />
<line x1="129.82" y1="276.50" x2="133.02" y2="276.50" stroke="#000" stroke-width="0.60" />
<line x1="148.50" y1="270.64" x2="148.50" y2="281.01" stroke="#000" stroke-width="0.60" />
<line x1="146.52" y1="270.50" x2="149.72" y2="270.50" stroke="#000" stroke-width="0.60" />
<line x1="146.52" y1="281.50" x2="149.72" y2="281.50" stroke="#000" stroke-width="0.60" />
<line x1="164.50" y1="277.12" x2="164.50" y2="286.63" stroke="#000" stroke-width="0.60" />
<line x1="163.23" y1="277.50" x2="166.43" y2="277.50" stroke="#000" stroke-width="0.60" />
<line x1="163.23" y1="286.50" x2="166.43" y2="286.50" stroke="#000" stroke-width="0.60" />
<line x1="181.50" y1="290.52" x2="181.50" y2="299.16" stroke="#000" stroke-width="0.60" />
<line x1="179.93" y1="290.50" x2="183.13" y2="290.50" stroke="#000" stroke-width="0.60" />
<line x1="179.93" y1="299.50" x2="183.13" y2="299.50" stroke="#000" stroke-width="0.60" />
<line x1="198.50" y1="309.97" x2="198.50" y2="317.75" stroke="#000" stroke-width="0.60" />
<line x1="196.64" y1="309.50" x2="199.84" y2="309.50" stroke="#000" stroke-width="0.60" />
<line x1="196.64" y1="317.50" x2="199.84" y2="317.50" stroke="#000" stroke-width="0.60" />
<line x1="214.50" y1="326.82" x2="214.50" y2="333.73" stroke="#000" stroke-width="0.60" />
<line x1="213.34" y1="326.50" x2="216.54" y2="326.50" stroke="#000" stroke-width="0.60" />
<line x1="213.34" y1="333.50" x2="216.54" y2="333.50" stroke="#000" stroke-width="0.60" />
<line x1="231.50" y1="338.49" x2="231.50" y2="344.54" stroke="#000" stroke-width="0.60" />
<line x1="230.04" y1="338.50" x2="233.24" y2="338.50" stroke="#000" stroke-width="0.60" />
<line x1="230.04" y1="344.50" x2="233.24" y2="344.50" stroke="#000" stroke-width="0.60" />
<line x1="248.50" y1="348.86" x2="248.50" y2="354.91" stroke="#000" stroke-width="0.60" />
<line x1="246.75" y1="348.50" x2="249.95" y2="348.50" stroke="#000" stroke-width="0.60" />
<line x1="246.75" y1="354.50" x2="249.95" y2="354.50" stroke="#000" stroke-width="0.60" />
<path d="M47.9 381.3h0M64.6 368.3h0M81.3 341.9h0M98.0 312.1h0M114.7 285.3h0M131.4 270.6h0M148.1 275.8h0M164.8 281.9h0M181.5 294.8h0M198.2 313.9h0M214.9 330.3h0M231.6 341.5h0M248.3 351.9h0" stroke="#000" stroke-width="4.20" stroke-linecap="round" stroke-opacity="1.00" fill="none"/>
<line x1="179.80" y1="253.50" x2="187.00" y2="253.50" stroke="#000" stroke-width="0.70" />
<circle cx="183.40" cy="253.40" r="1.30" fill="#fff" stroke="#000" stroke-width="0.60" />
<text x="189.80" y="255.79" font-size="6.65">Scr GapmeR -TGF-β</text>
<line x1="179.80" y1="263.50" x2="187.00" y2="263.50" stroke="#000" stroke-width="0.70" />
<circle cx="183.40" cy="263.50" r="1.50" fill="#000" />
<text x="189.80" y="265.89" font-size="6.65">Scr +TGF-β</text>
<line x1="179.80" y1="273.50" x2="187.00" y2="273.50" stroke="#f28b2c" stroke-width="0.70" />
<circle cx="183.40" cy="273.50" r="1.30" fill="#fff" stroke="#f28b2c" stroke-width="0.60" />
<text x="189.80" y="275.89" font-size="6.65"><tspan font-style="italic">SNAI1e</tspan> GapmeR -TGF-β</text>
<line x1="179.80" y1="283.50" x2="187.00" y2="283.50" stroke="#f28b2c" stroke-width="0.70" />
<circle cx="183.40" cy="283.60" r="1.50" fill="#f28b2c" />
<text x="189.80" y="285.99" font-size="6.65"><tspan font-style="italic">SNAI1e</tspan> GapmeR +TGF-β</text>
<line x1="269.50" y1="261.00" x2="269.50" y2="282.80" stroke="#000" stroke-width="0.60" />
<text x="0" y="2.02" font-size="5.60" text-anchor="middle" transform="translate(273.60 272.70) rotate(90)"><tspan font-style="italic">P</tspan> &lt; 0.0001</text>
<text x="288.80" y="13.30" font-size="14.00" font-weight="bold">c</text>
<text x="482.00" y="13.17" font-size="8.80" text-anchor="middle">MDA-MB-231</text>
<text x="400.40" y="29.95" font-size="8.20" text-anchor="middle">CRISPRa <tspan font-style="italic">SNAI1e</tspan> g1 VS gEV</text>
<line x1="314.50" y1="36.70" x2="314.50" y2="178.70" stroke="#000" stroke-width="0.60" />
<line x1="314.40" y1="178.50" x2="476.84" y2="178.50" stroke="#000" stroke-width="0.60" />
<line x1="312.40" y1="171.50" x2="314.40" y2="171.50" stroke="#000" stroke-width="0.50" />
<text x="311.40" y="174.56" font-size="7.40" text-anchor="end">0</text>
<line x1="312.40" y1="158.50" x2="314.40" y2="158.50" stroke="#000" stroke-width="0.50" />
<text x="311.40" y="161.07" font-size="7.40" text-anchor="end">1</text>
<line x1="312.40" y1="144.50" x2="314.40" y2="144.50" stroke="#000" stroke-width="0.50" />
<text x="311.40" y="147.58" font-size="7.40" text-anchor="end">2</text>
<line x1="312.40" y1="131.50" x2="314.40" y2="131.50" stroke="#000" stroke-width="0.50" />
<text x="311.40" y="134.09" font-size="7.40" text-anchor="end">3</text>
<line x1="312.40" y1="117.50" x2="314.40" y2="117.50" stroke="#000" stroke-width="0.50" />
<text x="311.40" y="120.60" font-size="7.40" text-anchor="end">4</text>
<line x1="312.40" y1="104.50" x2="314.40" y2="104.50" stroke="#000" stroke-width="0.50" />
<text x="311.40" y="107.11" font-size="7.40" text-anchor="end">5</text>
<line x1="312.40" y1="90.50" x2="314.40" y2="90.50" stroke="#000" stroke-width="0.50" />
<text x="311.40" y="93.62" font-size="7.40" text-anchor="end">6</text>
<line x1="312.40" y1="77.50" x2="314.40" y2="77.50" stroke="#000" stroke-width="0.50" />
<text x="311.40" y="80.13" font-size="7.40" text-anchor="end">7</text>
<line x1="312.40" y1="63.50" x2="314.40" y2="63.50" stroke="#000" stroke-width="0.50" />
<text x="311.40" y="66.64" font-size="7.40" text-anchor="end">8</text>
<line x1="312.40" y1="50.50" x2="314.40" y2="50.50" stroke="#000" stroke-width="0.50" />
<text x="311.40" y="53.15" font-size="7.40" text-anchor="end">9</text>
<line x1="312.40" y1="37.50" x2="314.40" y2="37.50" stroke="#000" stroke-width="0.50" />
<text x="311.40" y="39.66" font-size="7.40" text-anchor="end">10</text>
<line x1="321.50" y1="178.70" x2="321.50" y2="180.70" stroke="#000" stroke-width="0.50" />
<text x="321.42" y="188.16" font-size="7.40" text-anchor="middle">-4</text>
<line x1="331.50" y1="178.70" x2="331.50" y2="180.70" stroke="#000" stroke-width="0.50" />
<text x="331.04" y="188.16" font-size="7.40" text-anchor="middle">-3</text>
<line x1="340.50" y1="178.70" x2="340.50" y2="180.70" stroke="#000" stroke-width="0.50" />
<text x="340.66" y="188.16" font-size="7.40" text-anchor="middle">-2</text>
<line x1="350.50" y1="178.70" x2="350.50" y2="180.70" stroke="#000" stroke-width="0.50" />
<text x="350.28" y="188.16" font-size="7.40" text-anchor="middle">-1</text>
<line x1="359.50" y1="178.70" x2="359.50" y2="180.70" stroke="#000" stroke-width="0.50" />
<text x="359.90" y="188.16" font-size="7.40" text-anchor="middle">0</text>
<line x1="369.50" y1="178.70" x2="369.50" y2="180.70" stroke="#000" stroke-width="0.50" />
<text x="369.52" y="188.16" font-size="7.40" text-anchor="middle">1</text>
<line x1="379.50" y1="178.70" x2="379.50" y2="180.70" stroke="#000" stroke-width="0.50" />
<text x="379.14" y="188.16" font-size="7.40" text-anchor="middle">2</text>
<line x1="388.50" y1="178.70" x2="388.50" y2="180.70" stroke="#000" stroke-width="0.50" />
<text x="388.76" y="188.16" font-size="7.40" text-anchor="middle">3</text>
<line x1="398.50" y1="178.70" x2="398.50" y2="180.70" stroke="#000" stroke-width="0.50" />
<text x="398.38" y="188.16" font-size="7.40" text-anchor="middle">4</text>
<line x1="408.50" y1="178.70" x2="408.50" y2="180.70" stroke="#000" stroke-width="0.50" />
<text x="408.00" y="188.16" font-size="7.40" text-anchor="middle">5</text>
<line x1="417.50" y1="178.70" x2="417.50" y2="180.70" stroke="#000" stroke-width="0.50" />
<text x="417.62" y="188.16" font-size="7.40" text-anchor="middle">6</text>
<line x1="427.50" y1="178.70" x2="427.50" y2="180.70" stroke="#000" stroke-width="0.50" />
<text x="427.24" y="188.16" font-size="7.40" text-anchor="middle">7</text>
<line x1="436.50" y1="178.70" x2="436.50" y2="180.70" stroke="#000" stroke-width="0.50" />
<text x="436.86" y="188.16" font-size="7.40" text-anchor="middle">8</text>
<line x1="446.50" y1="178.70" x2="446.50" y2="180.70" stroke="#000" stroke-width="0.50" />
<text x="446.48" y="188.16" font-size="7.40" text-anchor="middle">9</text>
<line x1="456.50" y1="178.70" x2="456.50" y2="180.70" stroke="#000" stroke-width="0.50" />
<text x="456.10" y="188.16" font-size="7.40" text-anchor="middle">10</text>
<line x1="465.50" y1="178.70" x2="465.50" y2="180.70" stroke="#000" stroke-width="0.50" />
<text x="465.72" y="188.16" font-size="7.40" text-anchor="middle">11</text>
<line x1="475.50" y1="178.70" x2="475.50" y2="180.70" stroke="#000" stroke-width="0.50" />
<text x="475.34" y="188.16" font-size="7.40" text-anchor="middle">12</text>
<line x1="350.50" y1="37.00" x2="350.50" y2="178.70" stroke="#9a9a9a" stroke-width="0.50" stroke-dasharray="1,1.3"/>
<line x1="369.50" y1="37.00" x2="369.50" y2="178.70" stroke="#9a9a9a" stroke-width="0.50" stroke-dasharray="1,1.3"/>
<line x1="314.40" y1="154.50" x2="475.34" y2="154.50" stroke="#9a9a9a" stroke-width="0.50" stroke-dasharray="1,1.3"/>
<circle cx="368.9" cy="126.4" r="1.50" fill="#3a3a3a" fill-opacity="0.30"/>
<circle cx="369.0" cy="145.2" r="1.50" fill="#3a3a3a" fill-opacity="0.30"/>
<circle cx="351.7" cy="129.6" r="1.50" fill="#3a3a3a" fill-opacity="0.30"/>
<circle cx="352.7" cy="166.9" r="1.50" fill="#3a3a3a" fill-opacity="0.30"/>
<circle cx="349.5" cy="143.6" r="1.50" fill="#3a3a3a" fill-opacity="0.30"/>
<circle cx="351.4" cy="140.6" r="1.50" fill="#3a3a3a" fill-opacity="0.30"/>
<circle cx="369.4" cy="137.5" r="1.50" fill="#3a3a3a" fill-opacity="0.30"/>
<circle cx="349.6" cy="139.1" r="1.50" fill="#3a3a3a" fill-opacity="0.30"/>
<circle cx="353.2" cy="168.8" r="1.50" fill="#3a3a3a" fill-opacity="0.30"/>
<circle cx="349.9" cy="140.4" r="1.50" fill="#3a3a3a" fill-opacity="0.30"/>
<circle cx="369.9" cy="148.7" r="1.50" fill="#3a3a3a" fill-opacity="0.30"/>
<circle cx="350.9" cy="138.2" r="1.50" fill="#3a3a3a" fill-opacity="0.30"/>
<circle cx="352.1" cy="147.8" r="1.50" fill="#3a3a3a" fill-opacity="0.30"/>
<circle cx="351.7" cy="134.7" r="1.50" fill="#3a3a3a" fill-opacity="0.30"/>
<circle cx="353.0" cy="144.9" r="1.50" fill="#3a3a3a" fill-opacity="0.30"/>
<circle cx="350.0" cy="150.8" r="1.50" fill="#3a3a3a" fill-opacity="0.30"/>
<circle cx="365.9" cy="168.4" r="1.50" fill="#3a3a3a" fill-opacity="0.30"/>
<circle cx="350.0" cy="160.7" r="1.50" fill="#3a3a3a" fill-opacity="0.30"/>
<circle cx="349.3" cy="147.2" r="1.50" fill="#3a3a3a" fill-opacity="0.30"/>
<circle cx="368.7" cy="149.8" r="1.50" fill="#3a3a3a" fill-opacity="0.30"/>
<circle cx="354.2" cy="130.9" r="1.50" fill="#3a3a3a" fill-opacity="0.30"/>
<circle cx="367.4" cy="171.1" r="1.50" fill="#3a3a3a" fill-opacity="0.30"/>
<circle cx="351.0" cy="164.8" r="1.50" fill="#3a3a3a" fill-opacity="0.30"/>
<circle cx="350.8" cy="168.7" r="1.50" fill="#3a3a3a" fill-opacity="0.30"/>
<circle cx="352.2" cy="136.0" r="1.50" fill="#3a3a3a" fill-opacity="0.30"/>
<circle cx="352.6" cy="120.1" r="1.50" fill="#3a3a3a" fill-opacity="0.30"/>
<circle cx="367.6" cy="165.8" r="1.50" fill="#3a3a3a" fill-opacity="0.30"/>
<circle cx="350.6" cy="171.9" r="1.50" fill="#3a3a3a" fill-opacity="0.30"/>
<circle cx="366.1" cy="119.4" r="1.50" fill="#3a3a3a" fill-opacity="0.30"/>
<circle cx="353.5" cy="169.7" r="1.50" fill="#3a3a3a" fill-opacity="0.30"/>
<circle cx="369.3" cy="158.3" r="1.50" fill="#3a3a3a" fill-opacity="0.30"/>
<circle cx="365.5" cy="128.2" r="1.50" fill="#3a3a3a" fill-opacity="0.30"/>
<circle cx="352.1" cy="141.2" r="1.50" fill="#3a3a3a" fill-opacity="0.30"/>
<circle cx="368.2" cy="152.3" r="1.50" fill="#3a3a3a" fill-opacity="0.30"/>
<circle cx="367.0" cy="128.1" r="1.50" fill="#3a3a3a" fill-opacity="0.30"/>
<circle cx="352.6" cy="155.5" r="1.50" fill="#3a3a3a" fill-opacity="0.30"/>
<circle cx="351.6" cy="133.7" r="1.50" fill="#3a3a3a" fill-opacity="0.30"/>
<circle cx="351.4" cy="135.8" r="1.50" fill="#3a3a3a" fill-opacity="0.30"/>
<circle cx="368.5" cy="140.1" r="1.50" fill="#3a3a3a" fill-opacity="0.30"/>
<circle cx="351.9" cy="166.2" r="1.50" fill="#3a3a3a" fill-opacity="0.30"/>
<circle cx="369.0" cy="159.4" r="1.50" fill="#3a3a3a" fill-opacity="0.30"/>
<circle cx="370.1" cy="149.8" r="1.50" fill="#3a3a3a" fill-opacity="0.30"/>
<circle cx="366.9" cy="156.5" r="1.50" fill="#3a3a3a" fill-opacity="0.30"/>
<circle cx="352.0" cy="165.2" r="1.50" fill="#3a3a3a" fill-opacity="0.30"/>
<circle cx="349.9" cy="157.2" r="1.50" fill="#3a3a3a" fill-opacity="0.30"/>
<circle cx="352.6" cy="132.5" r="1.50" fill="#3a3a3a" fill-opacity="0.30"/>
<circle cx="353.3" cy="168.7" r="1.50" fill="#3a3a3a" fill-opacity="0.30"/>
<circle cx="370.6" cy="144.0" r="1.50" fill="#3a3a3a" fill-opacity="0.30"/>
<circle cx="349.8" cy="152.8" r="1.50" fill="#3a3a3a" fill-opacity="0.30"/>
<circle cx="369.7" cy="137.3" r="1.50" fill="#3a3a3a" fill-opacity="0.30"/>
<circle cx="349.3" cy="140.9" r="1.50" fill="#3a3a3a" fill-opacity="0.30"/>
<circle cx="369.8" cy="124.0" r="1.50" fill="#3a3a3a" fill-opacity="0.30"/>
<circle cx="352.7" cy="140.4" r="1.50" fill="#3a3a3a" fill-opacity="0.30"/>
<circle cx="349.8" cy="133.5" r="1.50" fill="#3a3a3a" fill-opacity="0.30"/>
<circle cx="351.8" cy="148.1" r="1.50" fill="#3a3a3a" fill-opacity="0.30"/>
<circle cx="351.2" cy="124.5" r="1.50" fill="#3a3a3a" fill-opacity="0.30"/>
<circle cx="369.1" cy="153.4" r="1.50" fill="#3a3a3a" fill-opacity="0.30"/>
<circle cx="350.8" cy="126.1" r="1.50" fill="#3a3a3a" fill-opacity="0.30"/>
<circle cx="369.3" cy="141.8" r="1.50" fill="#3a3a3a" fill-opacity="0.30"/>
<circle cx="366.4" cy="152.0" r="1.50" fill="#3a3a3a" fill-opacity="0.30"/>
<circle cx="351.4" cy="167.7" r="1.50" fill="#3a3a3a" fill-opacity="0.30"/>
<circle cx="367.1" cy="125.6" r="1.50" fill="#3a3a3a" fill-opacity="0.30"/>
<circle cx="369.9" cy="148.7" r="1.50" fill="#3a3a3a" fill-opacity="0.30"/>
<circle cx="351.1" cy="144.6" r="1.50" fill="#3a3a3a" fill-opacity="0.30"/>
<circle cx="368.7" cy="140.3" r="1.50" fill="#3a3a3a" fill-opacity="0.30"/>
<circle cx="350.9" cy="121.5" r="1.50" fill="#3a3a3a" fill-opacity="0.30"/>
<circle cx="366.2" cy="158.4" r="1.50" fill="#3a3a3a" fill-opacity="0.30"/>
<circle cx="368.4" cy="164.4" r="1.50" fill="#3a3a3a" fill-opacity="0.30"/>
<circle cx="350.1" cy="132.2" r="1.50" fill="#3a3a3a" fill-opacity="0.30"/>
<circle cx="368.4" cy="125.0" r="1.50" fill="#3a3a3a" fill-opacity="0.30"/>
<circle cx="349.7" cy="138.5" r="1.50" fill="#3a3a3a" fill-opacity="0.30"/>
<circle cx="351.8" cy="125.6" r="1.50" fill="#3a3a3a" fill-opacity="0.30"/>
<circle cx="366.6" cy="160.9" r="1.50" fill="#3a3a3a" fill-opacity="0.30"/>
<circle cx="368.6" cy="127.9" r="1.50" fill="#3a3a3a" fill-opacity="0.30"/>
<circle cx="367.5" cy="128.7" r="1.50" fill="#3a3a3a" fill-opacity="0.30"/>
<circle cx="352.1" cy="128.2" r="1.50" fill="#3a3a3a" fill-opacity="0.30"/>
<circle cx="370.3" cy="134.2" r="1.50" fill="#3a3a3a" fill-opacity="0.30"/>
<circle cx="369.6" cy="155.0" r="1.50" fill="#3a3a3a" fill-opacity="0.30"/>
<circle cx="368.6" cy="126.0" r="1.50" fill="#3a3a3a" fill-opacity="0.30"/>
<circle cx="369.4" cy="155.6" r="1.50" fill="#3a3a3a" fill-opacity="0.30"/>
<circle cx="351.3" cy="138.2" r="1.50" fill="#3a3a3a" fill-opacity="0.30"/>
<circle cx="350.7" cy="170.6" r="1.50" fill="#3a3a3a" fill-opacity="0.30"/>
<circle cx="349.9" cy="130.9" r="1.50" fill="#3a3a3a" fill-opacity="0.30"/>
<circle cx="350.7" cy="148.4" r="1.50" fill="#3a3a3a" fill-opacity="0.30"/>
<circle cx="366.1" cy="121.5" r="1.50" fill="#3a3a3a" fill-opacity="0.30"/>
<circle cx="369.0" cy="158.4" r="1.50" fill="#3a3a3a" fill-opacity="0.30"/>
<circle cx="366.8" cy="143.8" r="1.50" fill="#3a3a3a" fill-opacity="0.30"/>
<circle cx="352.2" cy="157.6" r="1.50" fill="#3a3a3a" fill-opacity="0.30"/>
<circle cx="350.2" cy="151.2" r="1.50" fill="#3a3a3a" fill-opacity="0.30"/>
<circle cx="350.2" cy="167.3" r="1.50" fill="#3a3a3a" fill-opacity="0.30"/>
<circle cx="367.7" cy="165.1" r="1.50" fill="#3a3a3a" fill-opacity="0.30"/>
<circle cx="351.1" cy="152.1" r="1.50" fill="#3a3a3a" fill-opacity="0.30"/>
<circle cx="369.2" cy="147.5" r="1.50" fill="#3a3a3a" fill-opacity="0.30"/>
<circle cx="350.4" cy="166.7" r="1.50" fill="#3a3a3a" fill-opacity="0.30"/>
<circle cx="350.1" cy="160.7" r="1.50" fill="#3a3a3a" fill-opacity="0.30"/>
<circle cx="350.8" cy="120.5" r="1.50" fill="#3a3a3a" fill-opacity="0.30"/>
<circle cx="369.1" cy="158.1" r="1.50" fill="#3a3a3a" fill-opacity="0.30"/>
<circle cx="353.1" cy="153.6" r="1.50" fill="#3a3a3a" fill-opacity="0.30"/>
<circle cx="368.0" cy="153.9" r="1.50" fill="#3a3a3a" fill-opacity="0.30"/>
<circle cx="366.7" cy="146.3" r="1.50" fill="#3a3a3a" fill-opacity="0.30"/>
<circle cx="353.2" cy="149.3" r="1.50" fill="#3a3a3a" fill-opacity="0.30"/>
<circle cx="370.6" cy="135.8" r="1.50" fill="#3a3a3a" fill-opacity="0.30"/>
<circle cx="368.0" cy="164.1" r="1.50" fill="#3a3a3a" fill-opacity="0.30"/>
<circle cx="369.8" cy="122.1" r="1.50" fill="#3a3a3a" fill-opacity="0.30"/>
<circle cx="351.9" cy="132.0" r="1.50" fill="#3a3a3a" fill-opacity="0.30"/>
<circle cx="349.7" cy="144.4" r="1.50" fill="#3a3a3a" fill-opacity="0.30"/>
<circle cx="367.8" cy="155.5" r="1.50" fill="#3a3a3a" fill-opacity="0.30"/>
<circle cx="353.0" cy="155.9" r="1.50" fill="#3a3a3a" fill-opacity="0.30"/>
<circle cx="367.6" cy="141.8" r="1.50" fill="#3a3a3a" fill-opacity="0.30"/>
<circle cx="350.7" cy="145.4" r="1.50" fill="#3a3a3a" fill-opacity="0.30"/>
<circle cx="352.9" cy="143.6" r="1.50" fill="#3a3a3a" fill-opacity="0.30"/>
<circle cx="370.7" cy="143.3" r="1.50" fill="#3a3a3a" fill-opacity="0.30"/>
<circle cx="350.4" cy="146.1" r="1.50" fill="#3a3a3a" fill-opacity="0.30"/>
<circle cx="350.2" cy="122.9" r="1.50" fill="#3a3a3a" fill-opacity="0.30"/>
<circle cx="368.1" cy="157.7" r="1.50" fill="#3a3a3a" fill-opacity="0.30"/>
<circle cx="349.9" cy="154.0" r="1.50" fill="#3a3a3a" fill-opacity="0.30"/>
<circle cx="367.1" cy="144.3" r="1.50" fill="#3a3a3a" fill-opacity="0.30"/>
<circle cx="370.6" cy="139.4" r="1.50" fill="#3a3a3a" fill-opacity="0.30"/>
<circle cx="349.0" cy="135.0" r="1.50" fill="#3a3a3a" fill-opacity="0.30"/>
<circle cx="352.8" cy="161.7" r="1.50" fill="#3a3a3a" fill-opacity="0.30"/>
<circle cx="367.7" cy="155.0" r="1.50" fill="#3a3a3a" fill-opacity="0.30"/>
<circle cx="368.8" cy="166.4" r="1.50" fill="#3a3a3a" fill-opacity="0.30"/>
<circle cx="351.2" cy="127.1" r="1.50" fill="#3a3a3a" fill-opacity="0.30"/>
<circle cx="368.3" cy="170.7" r="1.50" fill="#3a3a3a" fill-opacity="0.30"/>
<circle cx="349.6" cy="143.6" r="1.50" fill="#3a3a3a" fill-opacity="0.30"/>
<circle cx="349.7" cy="144.0" r="1.50" fill="#3a3a3a" fill-opacity="0.30"/>
<circle cx="350.7" cy="159.7" r="1.50" fill="#3a3a3a" fill-opacity="0.30"/>
<circle cx="366.7" cy="124.4" r="1.50" fill="#3a3a3a" fill-opacity="0.30"/>
<circle cx="349.7" cy="160.4" r="1.50" fill="#3a3a3a" fill-opacity="0.30"/>
<circle cx="352.9" cy="164.9" r="1.50" fill="#3a3a3a" fill-opacity="0.30"/>
<circle cx="353.2" cy="158.2" r="1.50" fill="#3a3a3a" fill-opacity="0.30"/>
<circle cx="369.5" cy="143.3" r="1.50" fill="#3a3a3a" fill-opacity="0.30"/>
<circle cx="350.6" cy="150.7" r="1.50" fill="#3a3a3a" fill-opacity="0.30"/>
<circle cx="351.6" cy="166.8" r="1.50" fill="#3a3a3a" fill-opacity="0.30"/>
<circle cx="365.7" cy="124.0" r="1.50" fill="#3a3a3a" fill-opacity="0.30"/>
<circle cx="369.4" cy="145.4" r="1.50" fill="#3a3a3a" fill-opacity="0.30"/>
<circle cx="354.5" cy="129.7" r="1.50" fill="#3a3a3a" fill-opacity="0.30"/>
<circle cx="366.7" cy="164.2" r="1.50" fill="#3a3a3a" fill-opacity="0.30"/>
<circle cx="353.2" cy="162.8" r="1.50" fill="#3a3a3a" fill-opacity="0.30"/>
<circle cx="365.5" cy="123.1" r="1.50" fill="#3a3a3a" fill-opacity="0.30"/>
<circle cx="366.2" cy="167.8" r="1.50" fill="#3a3a3a" fill-opacity="0.30"/>
<circle cx="368.6" cy="147.3" r="1.50" fill="#3a3a3a" fill-opacity="0.30"/>
<circle cx="367.6" cy="160.8" r="1.50" fill="#3a3a3a" fill-opacity="0.30"/>
<circle cx="352.4" cy="127.5" r="1.50" fill="#3a3a3a" fill-opacity="0.30"/>
<circle cx="367.2" cy="150.6" r="1.50" fill="#3a3a3a" fill-opacity="0.30"/>
<circle cx="350.7" cy="166.9" r="1.50" fill="#3a3a3a" fill-opacity="0.30"/>
<circle cx="368.6" cy="124.9" r="1.50" fill="#3a3a3a" fill-opacity="0.30"/>
<circle cx="367.5" cy="141.9" r="1.50" fill="#3a3a3a" fill-opacity="0.30"/>
<circle cx="369.6" cy="129.6" r="1.50" fill="#3a3a3a" fill-opacity="0.30"/>
<circle cx="350.3" cy="129.0" r="1.50" fill="#3a3a3a" fill-opacity="0.30"/>
<circle cx="367.1" cy="131.5" r="1.50" fill="#3a3a3a" fill-opacity="0.30"/>
<circle cx="352.6" cy="168.2" r="1.50" fill="#3a3a3a" fill-opacity="0.30"/>
<circle cx="369.4" cy="166.6" r="1.50" fill="#3a3a3a" fill-opacity="0.30"/>
<circle cx="349.9" cy="159.7" r="1.50" fill="#3a3a3a" fill-opacity="0.30"/>
<circle cx="369.0" cy="154.1" r="1.50" fill="#3a3a3a" fill-opacity="0.30"/>
<circle cx="351.6" cy="143.9" r="1.50" fill="#3a3a3a" fill-opacity="0.30"/>
<circle cx="369.7" cy="138.1" r="1.50" fill="#3a3a3a" fill-opacity="0.30"/>
<circle cx="368.2" cy="120.3" r="1.50" fill="#3a3a3a" fill-opacity="0.30"/>
<circle cx="352.0" cy="158.4" r="1.50" fill="#3a3a3a" fill-opacity="0.30"/>
<circle cx="354.6" cy="131.8" r="1.50" fill="#3a3a3a" fill-opacity="0.30"/>
<path d="M359.90 160.43 L357.50 157.06 L356.24 150.32 L354.90 139.52 L353.55 134.80 L351.53 134.80 L351.63 142.22 L351.82 151.67 L352.40 161.11 L353.36 167.18 L354.90 170.55 L357.01 171.90 L359.90 172.98 L359.90 172.98 L362.79 171.90 L364.90 170.55 L366.44 167.18 L367.40 161.11 L367.98 151.67 L368.17 142.22 L368.27 134.80 L366.25 134.80 L364.90 139.52 L363.56 150.32 L362.30 157.06 L359.90 160.43Z" fill="#000" stroke="#000" stroke-width="0.6" stroke-linejoin="round"/>
<circle cx="349.8" cy="144.3" r="1.65" fill="#3a3ee6" fill-opacity="0.42"/>
<circle cx="349.4" cy="135.6" r="1.65" fill="#3a3ee6" fill-opacity="0.42"/>
<circle cx="349.0" cy="136.6" r="1.65" fill="#3a3ee6" fill-opacity="0.42"/>
<circle cx="344.5" cy="151.2" r="1.65" fill="#3a3ee6" fill-opacity="0.42"/>
<circle cx="348.8" cy="132.7" r="1.65" fill="#3a3ee6" fill-opacity="0.42"/>
<circle cx="348.1" cy="132.7" r="1.65" fill="#3a3ee6" fill-opacity="0.42"/>
<circle cx="340.3" cy="146.6" r="1.65" fill="#3a3ee6" fill-opacity="0.42"/>
<circle cx="341.4" cy="145.9" r="1.65" fill="#3a3ee6" fill-opacity="0.42"/>
<circle cx="338.9" cy="140.0" r="1.65" fill="#3a3ee6" fill-opacity="0.42"/>
<circle cx="348.1" cy="134.9" r="1.65" fill="#3a3ee6" fill-opacity="0.42"/>
<circle cx="348.9" cy="137.5" r="1.65" fill="#3a3ee6" fill-opacity="0.42"/>
<circle cx="349.6" cy="140.1" r="1.65" fill="#3a3ee6" fill-opacity="0.42"/>
<circle cx="349.5" cy="135.8" r="1.65" fill="#3a3ee6" fill-opacity="0.42"/>
<circle cx="348.5" cy="145.0" r="1.65" fill="#3a3ee6" fill-opacity="0.42"/>
<circle cx="341.8" cy="139.8" r="1.65" fill="#3a3ee6" fill-opacity="0.42"/>
<circle cx="346.1" cy="152.9" r="1.65" fill="#3a3ee6" fill-opacity="0.42"/>
<circle cx="345.8" cy="137.6" r="1.65" fill="#3a3ee6" fill-opacity="0.42"/>
<circle cx="347.4" cy="141.3" r="1.65" fill="#3a3ee6" fill-opacity="0.42"/>
<circle cx="346.9" cy="152.1" r="1.65" fill="#3a3ee6" fill-opacity="0.42"/>
<circle cx="349.5" cy="140.3" r="1.65" fill="#3a3ee6" fill-opacity="0.42"/>
<circle cx="347.8" cy="131.3" r="1.65" fill="#3a3ee6" fill-opacity="0.42"/>
<circle cx="349.5" cy="126.8" r="1.65" fill="#3a3ee6" fill-opacity="0.42"/>
<circle cx="349.9" cy="128.9" r="1.65" fill="#3a3ee6" fill-opacity="0.42"/>
<circle cx="349.8" cy="127.8" r="1.65" fill="#3a3ee6" fill-opacity="0.42"/>
<circle cx="350.6" cy="150.2" r="1.65" fill="#3a3ee6" fill-opacity="0.42"/>
<circle cx="345.2" cy="129.6" r="1.65" fill="#3a3ee6" fill-opacity="0.42"/>
<circle cx="350.2" cy="120.1" r="1.65" fill="#3a3ee6" fill-opacity="0.42"/>
<circle cx="349.8" cy="129.5" r="1.65" fill="#3a3ee6" fill-opacity="0.42"/>
<circle cx="350.6" cy="138.8" r="1.65" fill="#3a3ee6" fill-opacity="0.42"/>
<circle cx="350.3" cy="123.4" r="1.65" fill="#3a3ee6" fill-opacity="0.42"/>
<circle cx="349.3" cy="148.5" r="1.65" fill="#3a3ee6" fill-opacity="0.42"/>
<circle cx="349.2" cy="149.0" r="1.65" fill="#3a3ee6" fill-opacity="0.42"/>
<circle cx="348.9" cy="134.0" r="1.65" fill="#3a3ee6" fill-opacity="0.42"/>
<circle cx="347.3" cy="133.2" r="1.65" fill="#3a3ee6" fill-opacity="0.42"/>
<circle cx="349.2" cy="128.9" r="1.65" fill="#3a3ee6" fill-opacity="0.42"/>
<circle cx="345.1" cy="150.1" r="1.65" fill="#3a3ee6" fill-opacity="0.42"/>
<circle cx="349.6" cy="149.3" r="1.65" fill="#3a3ee6" fill-opacity="0.42"/>
<circle cx="348.6" cy="137.5" r="1.65" fill="#3a3ee6" fill-opacity="0.42"/>
<circle cx="349.5" cy="136.5" r="1.65" fill="#3a3ee6" fill-opacity="0.42"/>
<circle cx="344.4" cy="146.7" r="1.65" fill="#3a3ee6" fill-opacity="0.42"/>
<circle cx="374.5" cy="116.5" r="1.65" fill="#d42a3a" fill-opacity="0.42"/>
<circle cx="376.0" cy="141.6" r="1.65" fill="#d42a3a" fill-opacity="0.42"/>
<circle cx="370.9" cy="141.6" r="1.65" fill="#d42a3a" fill-opacity="0.42"/>
<circle cx="386.6" cy="122.4" r="1.65" fill="#d42a3a" fill-opacity="0.42"/>
<circle cx="375.1" cy="141.9" r="1.65" fill="#d42a3a" fill-opacity="0.42"/>
<circle cx="375.7" cy="120.9" r="1.65" fill="#d42a3a" fill-opacity="0.42"/>
<circle cx="369.1" cy="140.6" r="1.65" fill="#d42a3a" fill-opacity="0.42"/>
<circle cx="369.2" cy="151.8" r="1.65" fill="#d42a3a" fill-opacity="0.42"/>
<circle cx="370.5" cy="139.6" r="1.65" fill="#d42a3a" fill-opacity="0.42"/>
<circle cx="377.2" cy="107.2" r="1.65" fill="#d42a3a" fill-opacity="0.42"/>
<circle cx="370.1" cy="141.8" r="1.65" fill="#d42a3a" fill-opacity="0.42"/>
<circle cx="387.8" cy="122.5" r="1.65" fill="#d42a3a" fill-opacity="0.42"/>
<circle cx="371.6" cy="136.6" r="1.65" fill="#d42a3a" fill-opacity="0.42"/>
<circle cx="373.0" cy="146.5" r="1.65" fill="#d42a3a" fill-opacity="0.42"/>
<circle cx="380.8" cy="111.7" r="1.65" fill="#d42a3a" fill-opacity="0.42"/>
<circle cx="372.5" cy="112.1" r="1.65" fill="#d42a3a" fill-opacity="0.42"/>
<circle cx="379.5" cy="113.4" r="1.65" fill="#d42a3a" fill-opacity="0.42"/>
<circle cx="372.4" cy="115.9" r="1.65" fill="#d42a3a" fill-opacity="0.42"/>
<circle cx="371.9" cy="146.1" r="1.65" fill="#d42a3a" fill-opacity="0.42"/>
<circle cx="370.0" cy="111.4" r="1.65" fill="#d42a3a" fill-opacity="0.42"/>
<circle cx="374.3" cy="137.9" r="1.65" fill="#d42a3a" fill-opacity="0.42"/>
<circle cx="377.3" cy="111.2" r="1.65" fill="#d42a3a" fill-opacity="0.42"/>
<circle cx="370.2" cy="120.6" r="1.65" fill="#d42a3a" fill-opacity="0.42"/>
<circle cx="374.1" cy="129.6" r="1.65" fill="#d42a3a" fill-opacity="0.42"/>
<circle cx="371.3" cy="126.2" r="1.65" fill="#d42a3a" fill-opacity="0.42"/>
<circle cx="372.3" cy="125.0" r="1.65" fill="#d42a3a" fill-opacity="0.42"/>
<circle cx="378.8" cy="127.4" r="1.65" fill="#d42a3a" fill-opacity="0.42"/>
<circle cx="379.1" cy="147.7" r="1.65" fill="#d42a3a" fill-opacity="0.42"/>
<circle cx="371.2" cy="107.6" r="1.65" fill="#d42a3a" fill-opacity="0.42"/>
<circle cx="374.4" cy="118.0" r="1.65" fill="#d42a3a" fill-opacity="0.42"/>
<circle cx="373.0" cy="114.9" r="1.65" fill="#d42a3a" fill-opacity="0.42"/>
<circle cx="371.3" cy="109.1" r="1.65" fill="#d42a3a" fill-opacity="0.42"/>
<circle cx="370.5" cy="120.4" r="1.65" fill="#d42a3a" fill-opacity="0.42"/>
<circle cx="371.3" cy="107.8" r="1.65" fill="#d42a3a" fill-opacity="0.42"/>
<circle cx="371.3" cy="131.4" r="1.65" fill="#d42a3a" fill-opacity="0.42"/>
<circle cx="374.3" cy="107.9" r="1.65" fill="#d42a3a" fill-opacity="0.42"/>
<circle cx="375.7" cy="137.5" r="1.65" fill="#d42a3a" fill-opacity="0.42"/>
<circle cx="373.4" cy="103.5" r="1.65" fill="#d42a3a" fill-opacity="0.42"/>
<circle cx="372.6" cy="142.4" r="1.65" fill="#d42a3a" fill-opacity="0.42"/>
<circle cx="387.8" cy="113.3" r="1.65" fill="#d42a3a" fill-opacity="0.42"/>
<circle cx="373.2" cy="148.8" r="1.65" fill="#d42a3a" fill-opacity="0.42"/>
<circle cx="379.2" cy="146.9" r="1.65" fill="#d42a3a" fill-opacity="0.42"/>
<circle cx="375.6" cy="123.0" r="1.65" fill="#d42a3a" fill-opacity="0.42"/>
<circle cx="378.2" cy="115.0" r="1.65" fill="#d42a3a" fill-opacity="0.42"/>
<circle cx="371.7" cy="133.9" r="1.65" fill="#d42a3a" fill-opacity="0.42"/>
<circle cx="370.0" cy="123.8" r="1.65" fill="#d42a3a" fill-opacity="0.42"/>
<circle cx="370.2" cy="149.1" r="1.65" fill="#d42a3a" fill-opacity="0.42"/>
<circle cx="372.5" cy="110.4" r="1.65" fill="#d42a3a" fill-opacity="0.42"/>
<circle cx="378.7" cy="138.4" r="1.65" fill="#d42a3a" fill-opacity="0.42"/>
<circle cx="369.4" cy="145.7" r="1.65" fill="#d42a3a" fill-opacity="0.42"/>
<circle cx="371.1" cy="152.6" r="1.65" fill="#d42a3a" fill-opacity="0.42"/>
<circle cx="379.7" cy="128.8" r="1.65" fill="#d42a3a" fill-opacity="0.42"/>
<circle cx="374.1" cy="137.3" r="1.65" fill="#d42a3a" fill-opacity="0.42"/>
<circle cx="373.6" cy="136.1" r="1.65" fill="#d42a3a" fill-opacity="0.42"/>
<circle cx="370.9" cy="148.4" r="1.65" fill="#d42a3a" fill-opacity="0.42"/>
<circle cx="371.2" cy="152.4" r="1.65" fill="#d42a3a" fill-opacity="0.42"/>
<circle cx="375.2" cy="146.7" r="1.65" fill="#d42a3a" fill-opacity="0.42"/>
<circle cx="378.8" cy="129.2" r="1.65" fill="#d42a3a" fill-opacity="0.42"/>
<circle cx="376.2" cy="127.3" r="1.65" fill="#d42a3a" fill-opacity="0.42"/>
<circle cx="382.8" cy="130.8" r="1.65" fill="#d42a3a" fill-opacity="0.42"/>
<circle cx="372.6" cy="135.9" r="1.65" fill="#d42a3a" fill-opacity="0.42"/>
<circle cx="378.5" cy="133.4" r="1.65" fill="#d42a3a" fill-opacity="0.42"/>
<circle cx="369.9" cy="129.0" r="1.65" fill="#d42a3a" fill-opacity="0.42"/>
<circle cx="378.5" cy="145.3" r="1.65" fill="#d42a3a" fill-opacity="0.42"/>
<circle cx="374.6" cy="149.6" r="1.65" fill="#d42a3a" fill-opacity="0.42"/>
<circle cx="377.2" cy="103.8" r="1.65" fill="#d42a3a" fill-opacity="0.42"/>
<circle cx="371.5" cy="153.5" r="1.65" fill="#d42a3a" fill-opacity="0.42"/>
<circle cx="371.8" cy="149.2" r="1.65" fill="#d42a3a" fill-opacity="0.42"/>
<circle cx="372.6" cy="126.2" r="1.65" fill="#d42a3a" fill-opacity="0.42"/>
<circle cx="369.2" cy="135.4" r="1.65" fill="#d42a3a" fill-opacity="0.42"/>
<text x="0" y="2.70" font-size="7.50" text-anchor="middle" transform="translate(299.10 108.00) rotate(-90)">-Log<tspan font-size="58%" dy="0.3em">10</tspan><tspan dy="-0.3em">​</tspan>(false discovery rate)</text>
<text x="403.50" y="196.57" font-size="7.70" text-anchor="middle">Log<tspan font-size="58%" dy="0.3em">2</tspan><tspan dy="-0.3em">​</tspan>(fold change)</text>
<circle cx="389.6" cy="80.3" r="1.60" fill="#d42a3a" fill-opacity="0.55"/>
<circle cx="406.9" cy="74.5" r="1.60" fill="#d42a3a" fill-opacity="0.55"/>
<circle cx="411.0" cy="74.0" r="1.60" fill="#d42a3a" fill-opacity="0.55"/>
<circle cx="400.4" cy="87.5" r="1.60" fill="#d42a3a" fill-opacity="0.55"/>
<text x="385.90" y="72.98" font-size="6.90"><tspan font-style="italic">SNAI1</tspan></text>
<text x="415.00" y="76.98" font-size="6.90"><tspan font-style="italic">PMEPA1</tspan></text>
<text x="374.80" y="86.78" font-size="6.90"><tspan font-style="italic">IL11</tspan></text>
<text x="402.40" y="92.28" font-size="6.90"><tspan font-style="italic">ANGPTL4</tspan></text>
<circle cx="422.40" cy="124.20" r="2.10" fill="#3a3ee6" fill-opacity="0.55"/>
<text x="427.30" y="126.54" font-size="6.50">Down-regulated</text>
<circle cx="422.40" cy="133.70" r="2.10" fill="#d42a3a" fill-opacity="0.55"/>
<text x="427.30" y="136.04" font-size="6.50">Up-regulated</text>
<circle cx="422.40" cy="143.20" r="2.10" fill="#b0b0b0" fill-opacity="0.55"/>
<text x="427.30" y="145.54" font-size="6.50">Unchanged</text>
<text x="592.00" y="29.95" font-size="8.20" text-anchor="middle">CRISPRa <tspan font-style="italic">SNAI1e</tspan> g2 VS gEV</text>
<line x1="505.50" y1="36.70" x2="505.50" y2="178.70" stroke="#000" stroke-width="0.60" />
<line x1="505.70" y1="178.50" x2="667.30" y2="178.50" stroke="#000" stroke-width="0.60" />
<line x1="503.70" y1="171.50" x2="505.70" y2="171.50" stroke="#000" stroke-width="0.50" />
<text x="502.70" y="174.56" font-size="7.40" text-anchor="end">0</text>
<line x1="503.70" y1="158.50" x2="505.70" y2="158.50" stroke="#000" stroke-width="0.50" />
<text x="502.70" y="161.07" font-size="7.40" text-anchor="end">1</text>
<line x1="503.70" y1="144.50" x2="505.70" y2="144.50" stroke="#000" stroke-width="0.50" />
<text x="502.70" y="147.58" font-size="7.40" text-anchor="end">2</text>
<line x1="503.70" y1="131.50" x2="505.70" y2="131.50" stroke="#000" stroke-width="0.50" />
<text x="502.70" y="134.09" font-size="7.40" text-anchor="end">3</text>
<line x1="503.70" y1="117.50" x2="505.70" y2="117.50" stroke="#000" stroke-width="0.50" />
<text x="502.70" y="120.60" font-size="7.40" text-anchor="end">4</text>
<line x1="503.70" y1="104.50" x2="505.70" y2="104.50" stroke="#000" stroke-width="0.50" />
<text x="502.70" y="107.11" font-size="7.40" text-anchor="end">5</text>
<line x1="503.70" y1="90.50" x2="505.70" y2="90.50" stroke="#000" stroke-width="0.50" />
<text x="502.70" y="93.62" font-size="7.40" text-anchor="end">6</text>
<line x1="503.70" y1="77.50" x2="505.70" y2="77.50" stroke="#000" stroke-width="0.50" />
<text x="502.70" y="80.13" font-size="7.40" text-anchor="end">7</text>
<line x1="503.70" y1="63.50" x2="505.70" y2="63.50" stroke="#000" stroke-width="0.50" />
<text x="502.70" y="66.64" font-size="7.40" text-anchor="end">8</text>
<line x1="503.70" y1="50.50" x2="505.70" y2="50.50" stroke="#000" stroke-width="0.50" />
<text x="502.70" y="53.15" font-size="7.40" text-anchor="end">9</text>
<line x1="503.70" y1="37.50" x2="505.70" y2="37.50" stroke="#000" stroke-width="0.50" />
<text x="502.70" y="39.66" font-size="7.40" text-anchor="end">10</text>
<line x1="513.50" y1="178.70" x2="513.50" y2="180.70" stroke="#000" stroke-width="0.50" />
<text x="513.80" y="188.16" font-size="7.40" text-anchor="middle">-4</text>
<line x1="523.50" y1="178.70" x2="523.50" y2="180.70" stroke="#000" stroke-width="0.50" />
<text x="523.30" y="188.16" font-size="7.40" text-anchor="middle">-3</text>
<line x1="532.50" y1="178.70" x2="532.50" y2="180.70" stroke="#000" stroke-width="0.50" />
<text x="532.80" y="188.16" font-size="7.40" text-anchor="middle">-2</text>
<line x1="542.50" y1="178.70" x2="542.50" y2="180.70" stroke="#000" stroke-width="0.50" />
<text x="542.30" y="188.16" font-size="7.40" text-anchor="middle">-1</text>
<line x1="551.50" y1="178.70" x2="551.50" y2="180.70" stroke="#000" stroke-width="0.50" />
<text x="551.80" y="188.16" font-size="7.40" text-anchor="middle">0</text>
<line x1="561.50" y1="178.70" x2="561.50" y2="180.70" stroke="#000" stroke-width="0.50" />
<text x="561.30" y="188.16" font-size="7.40" text-anchor="middle">1</text>
<line x1="570.50" y1="178.70" x2="570.50" y2="180.70" stroke="#000" stroke-width="0.50" />
<text x="570.80" y="188.16" font-size="7.40" text-anchor="middle">2</text>
<line x1="580.50" y1="178.70" x2="580.50" y2="180.70" stroke="#000" stroke-width="0.50" />
<text x="580.30" y="188.16" font-size="7.40" text-anchor="middle">3</text>
<line x1="589.50" y1="178.70" x2="589.50" y2="180.70" stroke="#000" stroke-width="0.50" />
<text x="589.80" y="188.16" font-size="7.40" text-anchor="middle">4</text>
<line x1="599.50" y1="178.70" x2="599.50" y2="180.70" stroke="#000" stroke-width="0.50" />
<text x="599.30" y="188.16" font-size="7.40" text-anchor="middle">5</text>
<line x1="608.50" y1="178.70" x2="608.50" y2="180.70" stroke="#000" stroke-width="0.50" />
<text x="608.80" y="188.16" font-size="7.40" text-anchor="middle">6</text>
<line x1="618.50" y1="178.70" x2="618.50" y2="180.70" stroke="#000" stroke-width="0.50" />
<text x="618.30" y="188.16" font-size="7.40" text-anchor="middle">7</text>
<line x1="627.50" y1="178.70" x2="627.50" y2="180.70" stroke="#000" stroke-width="0.50" />
<text x="627.80" y="188.16" font-size="7.40" text-anchor="middle">8</text>
<line x1="637.50" y1="178.70" x2="637.50" y2="180.70" stroke="#000" stroke-width="0.50" />
<text x="637.30" y="188.16" font-size="7.40" text-anchor="middle">9</text>
<line x1="646.50" y1="178.70" x2="646.50" y2="180.70" stroke="#000" stroke-width="0.50" />
<text x="646.80" y="188.16" font-size="7.40" text-anchor="middle">10</text>
<line x1="656.50" y1="178.70" x2="656.50" y2="180.70" stroke="#000" stroke-width="0.50" />
<text x="656.30" y="188.16" font-size="7.40" text-anchor="middle">11</text>
<line x1="665.50" y1="178.70" x2="665.50" y2="180.70" stroke="#000" stroke-width="0.50" />
<text x="665.80" y="188.16" font-size="7.40" text-anchor="middle">12</text>
<line x1="542.50" y1="37.00" x2="542.50" y2="178.70" stroke="#9a9a9a" stroke-width="0.50" stroke-dasharray="1,1.3"/>
<line x1="561.50" y1="37.00" x2="561.50" y2="178.70" stroke="#9a9a9a" stroke-width="0.50" stroke-dasharray="1,1.3"/>
<line x1="505.70" y1="154.50" x2="665.80" y2="154.50" stroke="#9a9a9a" stroke-width="0.50" stroke-dasharray="1,1.3"/>
<circle cx="542.2" cy="153.2" r="1.50" fill="#3a3a3a" fill-opacity="0.30"/>
<circle cx="559.3" cy="157.7" r="1.50" fill="#3a3a3a" fill-opacity="0.30"/>
<circle cx="560.3" cy="111.0" r="1.50" fill="#3a3a3a" fill-opacity="0.30"/>
<circle cx="559.9" cy="98.1" r="1.50" fill="#3a3a3a" fill-opacity="0.30"/>
<circle cx="560.2" cy="117.5" r="1.50" fill="#3a3a3a" fill-opacity="0.30"/>
<circle cx="542.4" cy="126.6" r="1.50" fill="#3a3a3a" fill-opacity="0.30"/>
<circle cx="544.3" cy="158.0" r="1.50" fill="#3a3a3a" fill-opacity="0.30"/>
<circle cx="541.3" cy="118.2" r="1.50" fill="#3a3a3a" fill-opacity="0.30"/>
<circle cx="560.4" cy="157.7" r="1.50" fill="#3a3a3a" fill-opacity="0.30"/>
<circle cx="543.4" cy="150.4" r="1.50" fill="#3a3a3a" fill-opacity="0.30"/>
<circle cx="542.6" cy="138.7" r="1.50" fill="#3a3a3a" fill-opacity="0.30"/>
<circle cx="543.0" cy="139.7" r="1.50" fill="#3a3a3a" fill-opacity="0.30"/>
<circle cx="561.5" cy="132.1" r="1.50" fill="#3a3a3a" fill-opacity="0.30"/>
<circle cx="542.9" cy="148.3" r="1.50" fill="#3a3a3a" fill-opacity="0.30"/>
<circle cx="542.1" cy="149.0" r="1.50" fill="#3a3a3a" fill-opacity="0.30"/>
<circle cx="563.4" cy="113.6" r="1.50" fill="#3a3a3a" fill-opacity="0.30"/>
<circle cx="562.3" cy="165.1" r="1.50" fill="#3a3a3a" fill-opacity="0.30"/>
<circle cx="561.5" cy="164.3" r="1.50" fill="#3a3a3a" fill-opacity="0.30"/>
<circle cx="544.1" cy="100.4" r="1.50" fill="#3a3a3a" fill-opacity="0.30"/>
<circle cx="560.0" cy="171.4" r="1.50" fill="#3a3a3a" fill-opacity="0.30"/>
<circle cx="542.7" cy="158.7" r="1.50" fill="#3a3a3a" fill-opacity="0.30"/>
<circle cx="562.3" cy="158.1" r="1.50" fill="#3a3a3a" fill-opacity="0.30"/>
<circle cx="543.7" cy="137.8" r="1.50" fill="#3a3a3a" fill-opacity="0.30"/>
<circle cx="541.2" cy="110.7" r="1.50" fill="#3a3a3a" fill-opacity="0.30"/>
<circle cx="543.2" cy="121.5" r="1.50" fill="#3a3a3a" fill-opacity="0.30"/>
<circle cx="540.9" cy="140.3" r="1.50" fill="#3a3a3a" fill-opacity="0.30"/>
<circle cx="558.9" cy="168.6" r="1.50" fill="#3a3a3a" fill-opacity="0.30"/>
<circle cx="539.9" cy="127.0" r="1.50" fill="#3a3a3a" fill-opacity="0.30"/>
<circle cx="560.1" cy="135.3" r="1.50" fill="#3a3a3a" fill-opacity="0.30"/>
<circle cx="560.9" cy="98.5" r="1.50" fill="#3a3a3a" fill-opacity="0.30"/>
<circle cx="559.4" cy="99.4" r="1.50" fill="#3a3a3a" fill-opacity="0.30"/>
<circle cx="543.6" cy="145.7" r="1.50" fill="#3a3a3a" fill-opacity="0.30"/>
<circle cx="560.6" cy="118.1" r="1.50" fill="#3a3a3a" fill-opacity="0.30"/>
<circle cx="546.0" cy="97.5" r="1.50" fill="#3a3a3a" fill-opacity="0.30"/>
<circle cx="541.8" cy="130.8" r="1.50" fill="#3a3a3a" fill-opacity="0.30"/>
<circle cx="543.7" cy="158.0" r="1.50" fill="#3a3a3a" fill-opacity="0.30"/>
<circle cx="541.3" cy="127.2" r="1.50" fill="#3a3a3a" fill-opacity="0.30"/>
<circle cx="562.2" cy="145.4" r="1.50" fill="#3a3a3a" fill-opacity="0.30"/>
<circle cx="543.8" cy="169.0" r="1.50" fill="#3a3a3a" fill-opacity="0.30"/>
<circle cx="541.8" cy="156.1" r="1.50" fill="#3a3a3a" fill-opacity="0.30"/>
<circle cx="561.0" cy="168.1" r="1.50" fill="#3a3a3a" fill-opacity="0.30"/>
<circle cx="560.7" cy="136.2" r="1.50" fill="#3a3a3a" fill-opacity="0.30"/>
<circle cx="541.5" cy="163.2" r="1.50" fill="#3a3a3a" fill-opacity="0.30"/>
<circle cx="541.1" cy="158.2" r="1.50" fill="#3a3a3a" fill-opacity="0.30"/>
<circle cx="560.3" cy="167.5" r="1.50" fill="#3a3a3a" fill-opacity="0.30"/>
<circle cx="560.2" cy="168.7" r="1.50" fill="#3a3a3a" fill-opacity="0.30"/>
<circle cx="541.5" cy="150.6" r="1.50" fill="#3a3a3a" fill-opacity="0.30"/>
<circle cx="539.9" cy="123.3" r="1.50" fill="#3a3a3a" fill-opacity="0.30"/>
<circle cx="542.3" cy="137.8" r="1.50" fill="#3a3a3a" fill-opacity="0.30"/>
<circle cx="562.7" cy="145.6" r="1.50" fill="#3a3a3a" fill-opacity="0.30"/>
<circle cx="541.3" cy="117.9" r="1.50" fill="#3a3a3a" fill-opacity="0.30"/>
<circle cx="541.7" cy="158.4" r="1.50" fill="#3a3a3a" fill-opacity="0.30"/>
<circle cx="562.4" cy="150.5" r="1.50" fill="#3a3a3a" fill-opacity="0.30"/>
<circle cx="559.9" cy="157.4" r="1.50" fill="#3a3a3a" fill-opacity="0.30"/>
<circle cx="541.2" cy="145.1" r="1.50" fill="#3a3a3a" fill-opacity="0.30"/>
<circle cx="563.1" cy="118.3" r="1.50" fill="#3a3a3a" fill-opacity="0.30"/>
<circle cx="542.4" cy="133.5" r="1.50" fill="#3a3a3a" fill-opacity="0.30"/>
<circle cx="541.6" cy="142.2" r="1.50" fill="#3a3a3a" fill-opacity="0.30"/>
<circle cx="543.3" cy="117.5" r="1.50" fill="#3a3a3a" fill-opacity="0.30"/>
<circle cx="559.6" cy="145.9" r="1.50" fill="#3a3a3a" fill-opacity="0.30"/>
<circle cx="543.3" cy="156.8" r="1.50" fill="#3a3a3a" fill-opacity="0.30"/>
<circle cx="540.7" cy="131.4" r="1.50" fill="#3a3a3a" fill-opacity="0.30"/>
<circle cx="543.0" cy="163.2" r="1.50" fill="#3a3a3a" fill-opacity="0.30"/>
<circle cx="540.5" cy="109.9" r="1.50" fill="#3a3a3a" fill-opacity="0.30"/>
<circle cx="540.1" cy="128.0" r="1.50" fill="#3a3a3a" fill-opacity="0.30"/>
<circle cx="563.5" cy="133.1" r="1.50" fill="#3a3a3a" fill-opacity="0.30"/>
<circle cx="562.0" cy="127.7" r="1.50" fill="#3a3a3a" fill-opacity="0.30"/>
<circle cx="561.9" cy="147.1" r="1.50" fill="#3a3a3a" fill-opacity="0.30"/>
<circle cx="543.5" cy="102.6" r="1.50" fill="#3a3a3a" fill-opacity="0.30"/>
<circle cx="560.0" cy="119.7" r="1.50" fill="#3a3a3a" fill-opacity="0.30"/>
<circle cx="541.6" cy="167.5" r="1.50" fill="#3a3a3a" fill-opacity="0.30"/>
<circle cx="557.6" cy="103.5" r="1.50" fill="#3a3a3a" fill-opacity="0.30"/>
<circle cx="557.8" cy="108.5" r="1.50" fill="#3a3a3a" fill-opacity="0.30"/>
<circle cx="561.0" cy="140.0" r="1.50" fill="#3a3a3a" fill-opacity="0.30"/>
<circle cx="561.3" cy="148.3" r="1.50" fill="#3a3a3a" fill-opacity="0.30"/>
<circle cx="558.4" cy="102.4" r="1.50" fill="#3a3a3a" fill-opacity="0.30"/>
<circle cx="541.9" cy="164.8" r="1.50" fill="#3a3a3a" fill-opacity="0.30"/>
<circle cx="561.7" cy="129.1" r="1.50" fill="#3a3a3a" fill-opacity="0.30"/>
<circle cx="557.6" cy="95.4" r="1.50" fill="#3a3a3a" fill-opacity="0.30"/>
<circle cx="560.0" cy="146.8" r="1.50" fill="#3a3a3a" fill-opacity="0.30"/>
<circle cx="559.8" cy="166.6" r="1.50" fill="#3a3a3a" fill-opacity="0.30"/>
<circle cx="561.2" cy="161.7" r="1.50" fill="#3a3a3a" fill-opacity="0.30"/>
<circle cx="561.7" cy="138.5" r="1.50" fill="#3a3a3a" fill-opacity="0.30"/>
<circle cx="563.0" cy="119.1" r="1.50" fill="#3a3a3a" fill-opacity="0.30"/>
<circle cx="560.5" cy="144.2" r="1.50" fill="#3a3a3a" fill-opacity="0.30"/>
<circle cx="542.6" cy="99.9" r="1.50" fill="#3a3a3a" fill-opacity="0.30"/>
<circle cx="542.8" cy="155.2" r="1.50" fill="#3a3a3a" fill-opacity="0.30"/>
<circle cx="560.0" cy="123.5" r="1.50" fill="#3a3a3a" fill-opacity="0.30"/>
<circle cx="542.5" cy="126.9" r="1.50" fill="#3a3a3a" fill-opacity="0.30"/>
<circle cx="542.9" cy="126.8" r="1.50" fill="#3a3a3a" fill-opacity="0.30"/>
<circle cx="561.7" cy="115.1" r="1.50" fill="#3a3a3a" fill-opacity="0.30"/>
<circle cx="541.1" cy="112.2" r="1.50" fill="#3a3a3a" fill-opacity="0.30"/>
<circle cx="563.1" cy="129.1" r="1.50" fill="#3a3a3a" fill-opacity="0.30"/>
<circle cx="560.8" cy="112.1" r="1.50" fill="#3a3a3a" fill-opacity="0.30"/>
<circle cx="542.6" cy="154.6" r="1.50" fill="#3a3a3a" fill-opacity="0.30"/>
<circle cx="562.3" cy="127.9" r="1.50" fill="#3a3a3a" fill-opacity="0.30"/>
<circle cx="542.7" cy="124.9" r="1.50" fill="#3a3a3a" fill-opacity="0.30"/>
<circle cx="561.4" cy="110.5" r="1.50" fill="#3a3a3a" fill-opacity="0.30"/>
<circle cx="542.8" cy="127.3" r="1.50" fill="#3a3a3a" fill-opacity="0.30"/>
<circle cx="563.1" cy="143.1" r="1.50" fill="#3a3a3a" fill-opacity="0.30"/>
<circle cx="542.9" cy="168.4" r="1.50" fill="#3a3a3a" fill-opacity="0.30"/>
<circle cx="560.4" cy="121.8" r="1.50" fill="#3a3a3a" fill-opacity="0.30"/>
<circle cx="543.7" cy="141.4" r="1.50" fill="#3a3a3a" fill-opacity="0.30"/>
<circle cx="558.9" cy="170.9" r="1.50" fill="#3a3a3a" fill-opacity="0.30"/>
<circle cx="562.3" cy="159.8" r="1.50" fill="#3a3a3a" fill-opacity="0.30"/>
<circle cx="542.6" cy="117.6" r="1.50" fill="#3a3a3a" fill-opacity="0.30"/>
<circle cx="543.1" cy="135.3" r="1.50" fill="#3a3a3a" fill-opacity="0.30"/>
<circle cx="541.1" cy="118.5" r="1.50" fill="#3a3a3a" fill-opacity="0.30"/>
<circle cx="561.2" cy="130.5" r="1.50" fill="#3a3a3a" fill-opacity="0.30"/>
<circle cx="559.7" cy="154.3" r="1.50" fill="#3a3a3a" fill-opacity="0.30"/>
<circle cx="542.2" cy="124.7" r="1.50" fill="#3a3a3a" fill-opacity="0.30"/>
<circle cx="542.2" cy="108.4" r="1.50" fill="#3a3a3a" fill-opacity="0.30"/>
<circle cx="557.5" cy="98.7" r="1.50" fill="#3a3a3a" fill-opacity="0.30"/>
<circle cx="561.3" cy="151.6" r="1.50" fill="#3a3a3a" fill-opacity="0.30"/>
<circle cx="562.2" cy="160.6" r="1.50" fill="#3a3a3a" fill-opacity="0.30"/>
<circle cx="563.4" cy="132.6" r="1.50" fill="#3a3a3a" fill-opacity="0.30"/>
<circle cx="560.6" cy="130.5" r="1.50" fill="#3a3a3a" fill-opacity="0.30"/>
<circle cx="542.4" cy="137.1" r="1.50" fill="#3a3a3a" fill-opacity="0.30"/>
<circle cx="544.1" cy="144.2" r="1.50" fill="#3a3a3a" fill-opacity="0.30"/>
<circle cx="560.6" cy="142.0" r="1.50" fill="#3a3a3a" fill-opacity="0.30"/>
<circle cx="546.1" cy="100.1" r="1.50" fill="#3a3a3a" fill-opacity="0.30"/>
<circle cx="561.0" cy="109.1" r="1.50" fill="#3a3a3a" fill-opacity="0.30"/>
<circle cx="559.3" cy="153.7" r="1.50" fill="#3a3a3a" fill-opacity="0.30"/>
<circle cx="543.1" cy="157.1" r="1.50" fill="#3a3a3a" fill-opacity="0.30"/>
<circle cx="561.1" cy="123.4" r="1.50" fill="#3a3a3a" fill-opacity="0.30"/>
<circle cx="561.4" cy="115.6" r="1.50" fill="#3a3a3a" fill-opacity="0.30"/>
<circle cx="539.9" cy="129.0" r="1.50" fill="#3a3a3a" fill-opacity="0.30"/>
<circle cx="543.2" cy="157.4" r="1.50" fill="#3a3a3a" fill-opacity="0.30"/>
<circle cx="543.0" cy="109.6" r="1.50" fill="#3a3a3a" fill-opacity="0.30"/>
<circle cx="560.0" cy="115.2" r="1.50" fill="#3a3a3a" fill-opacity="0.30"/>
<circle cx="563.3" cy="131.5" r="1.50" fill="#3a3a3a" fill-opacity="0.30"/>
<circle cx="559.7" cy="157.3" r="1.50" fill="#3a3a3a" fill-opacity="0.30"/>
<circle cx="558.5" cy="168.5" r="1.50" fill="#3a3a3a" fill-opacity="0.30"/>
<circle cx="560.0" cy="162.8" r="1.50" fill="#3a3a3a" fill-opacity="0.30"/>
<circle cx="540.0" cy="122.8" r="1.50" fill="#3a3a3a" fill-opacity="0.30"/>
<circle cx="559.8" cy="158.8" r="1.50" fill="#3a3a3a" fill-opacity="0.30"/>
<circle cx="541.3" cy="111.8" r="1.50" fill="#3a3a3a" fill-opacity="0.30"/>
<circle cx="561.9" cy="163.1" r="1.50" fill="#3a3a3a" fill-opacity="0.30"/>
<circle cx="544.0" cy="152.2" r="1.50" fill="#3a3a3a" fill-opacity="0.30"/>
<circle cx="560.3" cy="97.3" r="1.50" fill="#3a3a3a" fill-opacity="0.30"/>
<circle cx="561.0" cy="117.5" r="1.50" fill="#3a3a3a" fill-opacity="0.30"/>
<circle cx="541.1" cy="120.5" r="1.50" fill="#3a3a3a" fill-opacity="0.30"/>
<circle cx="543.9" cy="156.6" r="1.50" fill="#3a3a3a" fill-opacity="0.30"/>
<circle cx="543.8" cy="147.3" r="1.50" fill="#3a3a3a" fill-opacity="0.30"/>
<circle cx="546.3" cy="100.2" r="1.50" fill="#3a3a3a" fill-opacity="0.30"/>
<circle cx="557.6" cy="107.7" r="1.50" fill="#3a3a3a" fill-opacity="0.30"/>
<circle cx="543.6" cy="112.8" r="1.50" fill="#3a3a3a" fill-opacity="0.30"/>
<circle cx="540.6" cy="119.2" r="1.50" fill="#3a3a3a" fill-opacity="0.30"/>
<circle cx="561.5" cy="114.2" r="1.50" fill="#3a3a3a" fill-opacity="0.30"/>
<circle cx="540.7" cy="113.6" r="1.50" fill="#3a3a3a" fill-opacity="0.30"/>
<circle cx="544.1" cy="147.2" r="1.50" fill="#3a3a3a" fill-opacity="0.30"/>
<circle cx="542.2" cy="165.3" r="1.50" fill="#3a3a3a" fill-opacity="0.30"/>
<circle cx="561.1" cy="153.7" r="1.50" fill="#3a3a3a" fill-opacity="0.30"/>
<circle cx="559.5" cy="154.0" r="1.50" fill="#3a3a3a" fill-opacity="0.30"/>
<circle cx="562.6" cy="119.9" r="1.50" fill="#3a3a3a" fill-opacity="0.30"/>
<circle cx="543.5" cy="127.3" r="1.50" fill="#3a3a3a" fill-opacity="0.30"/>
<circle cx="558.9" cy="99.2" r="1.50" fill="#3a3a3a" fill-opacity="0.30"/>
<circle cx="562.8" cy="139.5" r="1.50" fill="#3a3a3a" fill-opacity="0.30"/>
<circle cx="540.5" cy="143.7" r="1.50" fill="#3a3a3a" fill-opacity="0.30"/>
<circle cx="560.5" cy="141.9" r="1.50" fill="#3a3a3a" fill-opacity="0.30"/>
<circle cx="543.9" cy="164.6" r="1.50" fill="#3a3a3a" fill-opacity="0.30"/>
<circle cx="560.3" cy="146.9" r="1.50" fill="#3a3a3a" fill-opacity="0.30"/>
<circle cx="563.6" cy="116.3" r="1.50" fill="#3a3a3a" fill-opacity="0.30"/>
<circle cx="563.7" cy="113.0" r="1.50" fill="#3a3a3a" fill-opacity="0.30"/>
<circle cx="558.7" cy="108.5" r="1.50" fill="#3a3a3a" fill-opacity="0.30"/>
<circle cx="561.5" cy="110.8" r="1.50" fill="#3a3a3a" fill-opacity="0.30"/>
<circle cx="540.8" cy="113.4" r="1.50" fill="#3a3a3a" fill-opacity="0.30"/>
<circle cx="559.7" cy="159.8" r="1.50" fill="#3a3a3a" fill-opacity="0.30"/>
<circle cx="542.9" cy="153.8" r="1.50" fill="#3a3a3a" fill-opacity="0.30"/>
<circle cx="543.5" cy="109.1" r="1.50" fill="#3a3a3a" fill-opacity="0.30"/>
<circle cx="562.9" cy="131.6" r="1.50" fill="#3a3a3a" fill-opacity="0.30"/>
<circle cx="540.0" cy="110.4" r="1.50" fill="#3a3a3a" fill-opacity="0.30"/>
<circle cx="541.1" cy="133.9" r="1.50" fill="#3a3a3a" fill-opacity="0.30"/>
<circle cx="541.6" cy="110.3" r="1.50" fill="#3a3a3a" fill-opacity="0.30"/>
<circle cx="563.7" cy="130.5" r="1.50" fill="#3a3a3a" fill-opacity="0.30"/>
<circle cx="560.5" cy="140.7" r="1.50" fill="#3a3a3a" fill-opacity="0.30"/>
<circle cx="562.9" cy="143.2" r="1.50" fill="#3a3a3a" fill-opacity="0.30"/>
<circle cx="559.7" cy="98.5" r="1.50" fill="#3a3a3a" fill-opacity="0.30"/>
<circle cx="558.7" cy="97.7" r="1.50" fill="#3a3a3a" fill-opacity="0.30"/>
<circle cx="540.2" cy="134.7" r="1.50" fill="#3a3a3a" fill-opacity="0.30"/>
<circle cx="559.2" cy="171.1" r="1.50" fill="#3a3a3a" fill-opacity="0.30"/>
<circle cx="560.0" cy="136.0" r="1.50" fill="#3a3a3a" fill-opacity="0.30"/>
<circle cx="546.3" cy="96.2" r="1.50" fill="#3a3a3a" fill-opacity="0.30"/>
<circle cx="558.8" cy="168.2" r="1.50" fill="#3a3a3a" fill-opacity="0.30"/>
<circle cx="542.0" cy="113.8" r="1.50" fill="#3a3a3a" fill-opacity="0.30"/>
<circle cx="540.6" cy="128.1" r="1.50" fill="#3a3a3a" fill-opacity="0.30"/>
<circle cx="543.2" cy="127.0" r="1.50" fill="#3a3a3a" fill-opacity="0.30"/>
<circle cx="559.9" cy="169.0" r="1.50" fill="#3a3a3a" fill-opacity="0.30"/>
<circle cx="542.5" cy="97.6" r="1.50" fill="#3a3a3a" fill-opacity="0.30"/>
<circle cx="543.0" cy="130.7" r="1.50" fill="#3a3a3a" fill-opacity="0.30"/>
<circle cx="544.4" cy="164.5" r="1.50" fill="#3a3a3a" fill-opacity="0.30"/>
<circle cx="560.6" cy="157.7" r="1.50" fill="#3a3a3a" fill-opacity="0.30"/>
<circle cx="542.3" cy="129.3" r="1.50" fill="#3a3a3a" fill-opacity="0.30"/>
<circle cx="542.0" cy="149.2" r="1.50" fill="#3a3a3a" fill-opacity="0.30"/>
<circle cx="562.6" cy="152.7" r="1.50" fill="#3a3a3a" fill-opacity="0.30"/>
<circle cx="541.8" cy="149.3" r="1.50" fill="#3a3a3a" fill-opacity="0.30"/>
<circle cx="540.1" cy="123.7" r="1.50" fill="#3a3a3a" fill-opacity="0.30"/>
<circle cx="543.6" cy="95.0" r="1.50" fill="#3a3a3a" fill-opacity="0.30"/>
<circle cx="560.3" cy="131.1" r="1.50" fill="#3a3a3a" fill-opacity="0.30"/>
<circle cx="562.3" cy="162.2" r="1.50" fill="#3a3a3a" fill-opacity="0.30"/>
<path d="M551.80 157.06 L550.28 153.01 L548.76 144.92 L547.05 131.43 L545.91 117.94 L544.39 108.50 L542.58 108.50 L542.30 115.24 L542.39 128.73 L542.77 142.22 L543.44 154.36 L544.58 163.81 L546.10 169.20 L548.47 171.90 L551.80 173.25 L551.80 173.25 L555.12 171.90 L557.50 169.20 L559.02 163.81 L560.16 154.36 L560.82 142.22 L561.20 128.73 L561.30 115.24 L561.01 108.50 L559.21 108.50 L557.69 117.94 L556.55 131.43 L554.84 144.92 L553.32 153.01 L551.80 157.06Z" fill="#000" stroke="#000" stroke-width="0.6" stroke-linejoin="round"/>
<circle cx="540.3" cy="106.1" r="1.65" fill="#3a3ee6" fill-opacity="0.42"/>
<circle cx="541.6" cy="145.2" r="1.65" fill="#3a3ee6" fill-opacity="0.42"/>
<circle cx="535.8" cy="152.9" r="1.65" fill="#3a3ee6" fill-opacity="0.42"/>
<circle cx="539.9" cy="106.5" r="1.65" fill="#3a3ee6" fill-opacity="0.42"/>
<circle cx="538.3" cy="125.7" r="1.65" fill="#3a3ee6" fill-opacity="0.42"/>
<circle cx="541.8" cy="113.1" r="1.65" fill="#3a3ee6" fill-opacity="0.42"/>
<circle cx="541.1" cy="103.7" r="1.65" fill="#3a3ee6" fill-opacity="0.42"/>
<circle cx="541.7" cy="147.8" r="1.65" fill="#3a3ee6" fill-opacity="0.42"/>
<circle cx="542.2" cy="112.7" r="1.65" fill="#3a3ee6" fill-opacity="0.42"/>
<circle cx="541.7" cy="137.7" r="1.65" fill="#3a3ee6" fill-opacity="0.42"/>
<circle cx="540.0" cy="150.4" r="1.65" fill="#3a3ee6" fill-opacity="0.42"/>
<circle cx="538.4" cy="115.9" r="1.65" fill="#3a3ee6" fill-opacity="0.42"/>
<circle cx="541.8" cy="151.5" r="1.65" fill="#3a3ee6" fill-opacity="0.42"/>
<circle cx="541.6" cy="151.3" r="1.65" fill="#3a3ee6" fill-opacity="0.42"/>
<circle cx="535.8" cy="130.7" r="1.65" fill="#3a3ee6" fill-opacity="0.42"/>
<circle cx="535.6" cy="122.0" r="1.65" fill="#3a3ee6" fill-opacity="0.42"/>
<circle cx="542.5" cy="109.4" r="1.65" fill="#3a3ee6" fill-opacity="0.42"/>
<circle cx="538.0" cy="123.5" r="1.65" fill="#3a3ee6" fill-opacity="0.42"/>
<circle cx="541.6" cy="125.9" r="1.65" fill="#3a3ee6" fill-opacity="0.42"/>
<circle cx="539.5" cy="147.0" r="1.65" fill="#3a3ee6" fill-opacity="0.42"/>
<circle cx="542.0" cy="121.0" r="1.65" fill="#3a3ee6" fill-opacity="0.42"/>
<circle cx="539.2" cy="115.8" r="1.65" fill="#3a3ee6" fill-opacity="0.42"/>
<circle cx="539.7" cy="106.9" r="1.65" fill="#3a3ee6" fill-opacity="0.42"/>
<circle cx="535.2" cy="133.0" r="1.65" fill="#3a3ee6" fill-opacity="0.42"/>
<circle cx="541.0" cy="122.6" r="1.65" fill="#3a3ee6" fill-opacity="0.42"/>
<circle cx="536.4" cy="122.6" r="1.65" fill="#3a3ee6" fill-opacity="0.42"/>
<circle cx="535.3" cy="140.0" r="1.65" fill="#3a3ee6" fill-opacity="0.42"/>
<circle cx="542.3" cy="105.0" r="1.65" fill="#3a3ee6" fill-opacity="0.42"/>
<circle cx="533.9" cy="137.5" r="1.65" fill="#3a3ee6" fill-opacity="0.42"/>
<circle cx="540.2" cy="140.9" r="1.65" fill="#3a3ee6" fill-opacity="0.42"/>
<circle cx="541.6" cy="125.4" r="1.65" fill="#3a3ee6" fill-opacity="0.42"/>
<circle cx="538.5" cy="142.5" r="1.65" fill="#3a3ee6" fill-opacity="0.42"/>
<circle cx="541.0" cy="115.9" r="1.65" fill="#3a3ee6" fill-opacity="0.42"/>
<circle cx="537.8" cy="121.2" r="1.65" fill="#3a3ee6" fill-opacity="0.42"/>
<circle cx="540.9" cy="141.5" r="1.65" fill="#3a3ee6" fill-opacity="0.42"/>
<circle cx="540.5" cy="112.8" r="1.65" fill="#3a3ee6" fill-opacity="0.42"/>
<circle cx="539.7" cy="107.0" r="1.65" fill="#3a3ee6" fill-opacity="0.42"/>
<circle cx="541.8" cy="121.8" r="1.65" fill="#3a3ee6" fill-opacity="0.42"/>
<circle cx="540.2" cy="141.5" r="1.65" fill="#3a3ee6" fill-opacity="0.42"/>
<circle cx="539.3" cy="141.4" r="1.65" fill="#3a3ee6" fill-opacity="0.42"/>
<circle cx="540.3" cy="110.6" r="1.65" fill="#3a3ee6" fill-opacity="0.42"/>
<circle cx="542.2" cy="107.3" r="1.65" fill="#3a3ee6" fill-opacity="0.42"/>
<circle cx="540.9" cy="125.7" r="1.65" fill="#3a3ee6" fill-opacity="0.42"/>
<circle cx="542.0" cy="135.3" r="1.65" fill="#3a3ee6" fill-opacity="0.42"/>
<circle cx="542.6" cy="115.3" r="1.65" fill="#3a3ee6" fill-opacity="0.42"/>
<circle cx="538.9" cy="141.6" r="1.65" fill="#3a3ee6" fill-opacity="0.42"/>
<circle cx="533.6" cy="146.1" r="1.65" fill="#3a3ee6" fill-opacity="0.42"/>
<circle cx="536.9" cy="138.8" r="1.65" fill="#3a3ee6" fill-opacity="0.42"/>
<circle cx="542.2" cy="114.3" r="1.65" fill="#3a3ee6" fill-opacity="0.42"/>
<circle cx="542.2" cy="141.3" r="1.65" fill="#3a3ee6" fill-opacity="0.42"/>
<circle cx="540.4" cy="125.5" r="1.65" fill="#3a3ee6" fill-opacity="0.42"/>
<circle cx="542.5" cy="102.3" r="1.65" fill="#3a3ee6" fill-opacity="0.42"/>
<circle cx="541.2" cy="152.7" r="1.65" fill="#3a3ee6" fill-opacity="0.42"/>
<circle cx="540.9" cy="114.6" r="1.65" fill="#3a3ee6" fill-opacity="0.42"/>
<circle cx="541.3" cy="132.9" r="1.65" fill="#3a3ee6" fill-opacity="0.42"/>
<circle cx="542.6" cy="106.0" r="1.65" fill="#3a3ee6" fill-opacity="0.42"/>
<circle cx="538.6" cy="146.0" r="1.65" fill="#3a3ee6" fill-opacity="0.42"/>
<circle cx="539.4" cy="106.4" r="1.65" fill="#3a3ee6" fill-opacity="0.42"/>
<circle cx="541.8" cy="112.4" r="1.65" fill="#3a3ee6" fill-opacity="0.42"/>
<circle cx="540.4" cy="137.2" r="1.65" fill="#3a3ee6" fill-opacity="0.42"/>
<circle cx="541.3" cy="146.6" r="1.65" fill="#3a3ee6" fill-opacity="0.42"/>
<circle cx="539.3" cy="131.7" r="1.65" fill="#3a3ee6" fill-opacity="0.42"/>
<circle cx="526.1" cy="153.4" r="1.65" fill="#3a3ee6" fill-opacity="0.42"/>
<circle cx="540.8" cy="120.1" r="1.65" fill="#3a3ee6" fill-opacity="0.42"/>
<circle cx="529.4" cy="137.5" r="1.65" fill="#3a3ee6" fill-opacity="0.42"/>
<circle cx="542.1" cy="107.0" r="1.65" fill="#3a3ee6" fill-opacity="0.42"/>
<circle cx="538.0" cy="108.7" r="1.65" fill="#3a3ee6" fill-opacity="0.42"/>
<circle cx="540.4" cy="151.2" r="1.65" fill="#3a3ee6" fill-opacity="0.42"/>
<circle cx="534.0" cy="148.4" r="1.65" fill="#3a3ee6" fill-opacity="0.42"/>
<circle cx="540.0" cy="145.8" r="1.65" fill="#3a3ee6" fill-opacity="0.42"/>
<circle cx="542.7" cy="102.0" r="1.65" fill="#3a3ee6" fill-opacity="0.42"/>
<circle cx="542.7" cy="152.2" r="1.65" fill="#3a3ee6" fill-opacity="0.42"/>
<circle cx="539.0" cy="118.7" r="1.65" fill="#3a3ee6" fill-opacity="0.42"/>
<circle cx="542.6" cy="113.6" r="1.65" fill="#3a3ee6" fill-opacity="0.42"/>
<circle cx="537.3" cy="144.2" r="1.65" fill="#3a3ee6" fill-opacity="0.42"/>
<circle cx="539.8" cy="133.4" r="1.65" fill="#3a3ee6" fill-opacity="0.42"/>
<circle cx="542.6" cy="108.5" r="1.65" fill="#3a3ee6" fill-opacity="0.42"/>
<circle cx="541.8" cy="148.2" r="1.65" fill="#3a3ee6" fill-opacity="0.42"/>
<circle cx="540.3" cy="118.7" r="1.65" fill="#3a3ee6" fill-opacity="0.42"/>
<circle cx="533.8" cy="119.0" r="1.65" fill="#3a3ee6" fill-opacity="0.42"/>
<circle cx="540.3" cy="141.5" r="1.65" fill="#3a3ee6" fill-opacity="0.42"/>
<circle cx="534.3" cy="130.6" r="1.65" fill="#3a3ee6" fill-opacity="0.42"/>
<circle cx="539.1" cy="121.5" r="1.65" fill="#3a3ee6" fill-opacity="0.42"/>
<circle cx="534.5" cy="113.0" r="1.65" fill="#3a3ee6" fill-opacity="0.42"/>
<circle cx="539.6" cy="106.8" r="1.65" fill="#3a3ee6" fill-opacity="0.42"/>
<circle cx="537.2" cy="119.3" r="1.65" fill="#3a3ee6" fill-opacity="0.42"/>
<circle cx="541.5" cy="128.4" r="1.65" fill="#3a3ee6" fill-opacity="0.42"/>
<circle cx="542.4" cy="124.4" r="1.65" fill="#3a3ee6" fill-opacity="0.42"/>
<circle cx="542.5" cy="122.4" r="1.65" fill="#3a3ee6" fill-opacity="0.42"/>
<circle cx="542.7" cy="152.0" r="1.65" fill="#3a3ee6" fill-opacity="0.42"/>
<circle cx="541.5" cy="153.5" r="1.65" fill="#3a3ee6" fill-opacity="0.42"/>
<circle cx="541.7" cy="111.2" r="1.65" fill="#3a3ee6" fill-opacity="0.42"/>
<circle cx="539.0" cy="136.1" r="1.65" fill="#3a3ee6" fill-opacity="0.42"/>
<circle cx="539.5" cy="140.4" r="1.65" fill="#3a3ee6" fill-opacity="0.42"/>
<circle cx="540.8" cy="120.7" r="1.65" fill="#3a3ee6" fill-opacity="0.42"/>
<circle cx="599.3" cy="93.8" r="1.65" fill="#d42a3a" fill-opacity="0.42"/>
<circle cx="599.3" cy="107.9" r="1.65" fill="#d42a3a" fill-opacity="0.42"/>
<circle cx="561.0" cy="103.6" r="1.65" fill="#d42a3a" fill-opacity="0.42"/>
<circle cx="568.9" cy="125.0" r="1.65" fill="#d42a3a" fill-opacity="0.42"/>
<circle cx="580.9" cy="101.0" r="1.65" fill="#d42a3a" fill-opacity="0.42"/>
<circle cx="570.6" cy="96.2" r="1.65" fill="#d42a3a" fill-opacity="0.42"/>
<circle cx="572.9" cy="89.0" r="1.65" fill="#d42a3a" fill-opacity="0.42"/>
<circle cx="561.4" cy="95.2" r="1.65" fill="#d42a3a" fill-opacity="0.42"/>
<circle cx="564.5" cy="86.8" r="1.65" fill="#d42a3a" fill-opacity="0.42"/>
<circle cx="578.1" cy="84.2" r="1.65" fill="#d42a3a" fill-opacity="0.42"/>
<circle cx="579.4" cy="101.3" r="1.65" fill="#d42a3a" fill-opacity="0.42"/>
<circle cx="567.2" cy="115.7" r="1.65" fill="#d42a3a" fill-opacity="0.42"/>
<circle cx="564.3" cy="138.2" r="1.65" fill="#d42a3a" fill-opacity="0.42"/>
<circle cx="562.3" cy="87.6" r="1.65" fill="#d42a3a" fill-opacity="0.42"/>
<circle cx="561.2" cy="134.6" r="1.65" fill="#d42a3a" fill-opacity="0.42"/>
<circle cx="563.1" cy="150.2" r="1.65" fill="#d42a3a" fill-opacity="0.42"/>
<circle cx="560.9" cy="117.5" r="1.65" fill="#d42a3a" fill-opacity="0.42"/>
<circle cx="568.9" cy="93.1" r="1.65" fill="#d42a3a" fill-opacity="0.42"/>
<circle cx="566.5" cy="125.2" r="1.65" fill="#d42a3a" fill-opacity="0.42"/>
<circle cx="562.0" cy="142.6" r="1.65" fill="#d42a3a" fill-opacity="0.42"/>
<circle cx="570.3" cy="91.6" r="1.65" fill="#d42a3a" fill-opacity="0.42"/>
<circle cx="582.5" cy="129.8" r="1.65" fill="#d42a3a" fill-opacity="0.42"/>
<circle cx="563.4" cy="127.6" r="1.65" fill="#d42a3a" fill-opacity="0.42"/>
<circle cx="572.8" cy="129.9" r="1.65" fill="#d42a3a" fill-opacity="0.42"/>
<circle cx="561.7" cy="152.1" r="1.65" fill="#d42a3a" fill-opacity="0.42"/>
<circle cx="570.5" cy="142.4" r="1.65" fill="#d42a3a" fill-opacity="0.42"/>
<circle cx="565.7" cy="87.7" r="1.65" fill="#d42a3a" fill-opacity="0.42"/>
<circle cx="563.6" cy="142.8" r="1.65" fill="#d42a3a" fill-opacity="0.42"/>
<circle cx="562.1" cy="148.7" r="1.65" fill="#d42a3a" fill-opacity="0.42"/>
<circle cx="571.1" cy="112.3" r="1.65" fill="#d42a3a" fill-opacity="0.42"/>
<circle cx="579.6" cy="115.9" r="1.65" fill="#d42a3a" fill-opacity="0.42"/>
<circle cx="563.8" cy="105.3" r="1.65" fill="#d42a3a" fill-opacity="0.42"/>
<circle cx="563.5" cy="103.5" r="1.65" fill="#d42a3a" fill-opacity="0.42"/>
<circle cx="567.2" cy="99.0" r="1.65" fill="#d42a3a" fill-opacity="0.42"/>
<circle cx="567.1" cy="91.0" r="1.65" fill="#d42a3a" fill-opacity="0.42"/>
<circle cx="561.1" cy="152.1" r="1.65" fill="#d42a3a" fill-opacity="0.42"/>
<circle cx="564.4" cy="89.9" r="1.65" fill="#d42a3a" fill-opacity="0.42"/>
<circle cx="562.4" cy="104.2" r="1.65" fill="#d42a3a" fill-opacity="0.42"/>
<circle cx="561.5" cy="148.8" r="1.65" fill="#d42a3a" fill-opacity="0.42"/>
<circle cx="561.5" cy="97.6" r="1.65" fill="#d42a3a" fill-opacity="0.42"/>
<circle cx="568.1" cy="139.7" r="1.65" fill="#d42a3a" fill-opacity="0.42"/>
<circle cx="567.4" cy="131.7" r="1.65" fill="#d42a3a" fill-opacity="0.42"/>
<circle cx="580.1" cy="103.3" r="1.65" fill="#d42a3a" fill-opacity="0.42"/>
<circle cx="575.8" cy="111.3" r="1.65" fill="#d42a3a" fill-opacity="0.42"/>
<circle cx="566.6" cy="96.2" r="1.65" fill="#d42a3a" fill-opacity="0.42"/>
<circle cx="571.1" cy="97.0" r="1.65" fill="#d42a3a" fill-opacity="0.42"/>
<circle cx="562.3" cy="148.1" r="1.65" fill="#d42a3a" fill-opacity="0.42"/>
<circle cx="561.9" cy="133.2" r="1.65" fill="#d42a3a" fill-opacity="0.42"/>
<circle cx="562.8" cy="82.9" r="1.65" fill="#d42a3a" fill-opacity="0.42"/>
<circle cx="562.3" cy="122.6" r="1.65" fill="#d42a3a" fill-opacity="0.42"/>
<circle cx="562.4" cy="122.6" r="1.65" fill="#d42a3a" fill-opacity="0.42"/>
<circle cx="562.2" cy="98.9" r="1.65" fill="#d42a3a" fill-opacity="0.42"/>
<circle cx="565.5" cy="149.6" r="1.65" fill="#d42a3a" fill-opacity="0.42"/>
<circle cx="566.4" cy="113.2" r="1.65" fill="#d42a3a" fill-opacity="0.42"/>
<circle cx="563.1" cy="123.9" r="1.65" fill="#d42a3a" fill-opacity="0.42"/>
<circle cx="565.9" cy="148.2" r="1.65" fill="#d42a3a" fill-opacity="0.42"/>
<circle cx="569.7" cy="110.0" r="1.65" fill="#d42a3a" fill-opacity="0.42"/>
<circle cx="599.3" cy="98.5" r="1.65" fill="#d42a3a" fill-opacity="0.42"/>
<circle cx="562.1" cy="84.5" r="1.65" fill="#d42a3a" fill-opacity="0.42"/>
<circle cx="569.2" cy="143.6" r="1.65" fill="#d42a3a" fill-opacity="0.42"/>
<circle cx="560.9" cy="99.3" r="1.65" fill="#d42a3a" fill-opacity="0.42"/>
<circle cx="565.0" cy="113.9" r="1.65" fill="#d42a3a" fill-opacity="0.42"/>
<circle cx="561.4" cy="105.4" r="1.65" fill="#d42a3a" fill-opacity="0.42"/>
<circle cx="562.7" cy="124.8" r="1.65" fill="#d42a3a" fill-opacity="0.42"/>
<circle cx="566.8" cy="113.1" r="1.65" fill="#d42a3a" fill-opacity="0.42"/>
<circle cx="569.0" cy="118.0" r="1.65" fill="#d42a3a" fill-opacity="0.42"/>
<circle cx="570.6" cy="122.9" r="1.65" fill="#d42a3a" fill-opacity="0.42"/>
<circle cx="562.5" cy="130.9" r="1.65" fill="#d42a3a" fill-opacity="0.42"/>
<circle cx="576.3" cy="114.3" r="1.65" fill="#d42a3a" fill-opacity="0.42"/>
<circle cx="561.4" cy="148.2" r="1.65" fill="#d42a3a" fill-opacity="0.42"/>
<circle cx="562.8" cy="107.3" r="1.65" fill="#d42a3a" fill-opacity="0.42"/>
<circle cx="596.9" cy="101.0" r="1.65" fill="#d42a3a" fill-opacity="0.42"/>
<circle cx="561.7" cy="107.8" r="1.65" fill="#d42a3a" fill-opacity="0.42"/>
<circle cx="562.0" cy="111.7" r="1.65" fill="#d42a3a" fill-opacity="0.42"/>
<circle cx="571.9" cy="132.0" r="1.65" fill="#d42a3a" fill-opacity="0.42"/>
<circle cx="585.8" cy="85.9" r="1.65" fill="#d42a3a" fill-opacity="0.42"/>
<circle cx="587.0" cy="97.6" r="1.65" fill="#d42a3a" fill-opacity="0.42"/>
<circle cx="570.4" cy="139.9" r="1.65" fill="#d42a3a" fill-opacity="0.42"/>
<circle cx="564.1" cy="96.6" r="1.65" fill="#d42a3a" fill-opacity="0.42"/>
<circle cx="565.5" cy="113.2" r="1.65" fill="#d42a3a" fill-opacity="0.42"/>
<circle cx="569.7" cy="126.0" r="1.65" fill="#d42a3a" fill-opacity="0.42"/>
<circle cx="563.7" cy="105.5" r="1.65" fill="#d42a3a" fill-opacity="0.42"/>
<circle cx="567.1" cy="122.8" r="1.65" fill="#d42a3a" fill-opacity="0.42"/>
<circle cx="599.3" cy="97.1" r="1.65" fill="#d42a3a" fill-opacity="0.42"/>
<circle cx="574.6" cy="116.7" r="1.65" fill="#d42a3a" fill-opacity="0.42"/>
<circle cx="573.2" cy="115.9" r="1.65" fill="#d42a3a" fill-opacity="0.42"/>
<circle cx="579.9" cy="111.7" r="1.65" fill="#d42a3a" fill-opacity="0.42"/>
<circle cx="576.0" cy="85.5" r="1.65" fill="#d42a3a" fill-opacity="0.42"/>
<circle cx="563.6" cy="122.7" r="1.65" fill="#d42a3a" fill-opacity="0.42"/>
<circle cx="565.5" cy="103.3" r="1.65" fill="#d42a3a" fill-opacity="0.42"/>
<circle cx="578.9" cy="124.5" r="1.65" fill="#d42a3a" fill-opacity="0.42"/>
<circle cx="561.7" cy="134.4" r="1.65" fill="#d42a3a" fill-opacity="0.42"/>
<circle cx="564.7" cy="105.8" r="1.65" fill="#d42a3a" fill-opacity="0.42"/>
<circle cx="562.6" cy="135.2" r="1.65" fill="#d42a3a" fill-opacity="0.42"/>
<circle cx="580.6" cy="121.2" r="1.65" fill="#d42a3a" fill-opacity="0.42"/>
<circle cx="581.1" cy="123.2" r="1.65" fill="#d42a3a" fill-opacity="0.42"/>
<circle cx="563.3" cy="145.5" r="1.65" fill="#d42a3a" fill-opacity="0.42"/>
<circle cx="564.6" cy="118.1" r="1.65" fill="#d42a3a" fill-opacity="0.42"/>
<circle cx="562.4" cy="134.2" r="1.65" fill="#d42a3a" fill-opacity="0.42"/>
<circle cx="585.9" cy="83.3" r="1.65" fill="#d42a3a" fill-opacity="0.42"/>
<circle cx="562.4" cy="147.2" r="1.65" fill="#d42a3a" fill-opacity="0.42"/>
<circle cx="561.9" cy="146.4" r="1.65" fill="#d42a3a" fill-opacity="0.42"/>
<circle cx="561.1" cy="132.1" r="1.65" fill="#d42a3a" fill-opacity="0.42"/>
<circle cx="587.2" cy="92.6" r="1.65" fill="#d42a3a" fill-opacity="0.42"/>
<circle cx="563.1" cy="113.0" r="1.65" fill="#d42a3a" fill-opacity="0.42"/>
<circle cx="573.4" cy="124.7" r="1.65" fill="#d42a3a" fill-opacity="0.42"/>
<circle cx="569.4" cy="145.7" r="1.65" fill="#d42a3a" fill-opacity="0.42"/>
<circle cx="562.4" cy="97.6" r="1.65" fill="#d42a3a" fill-opacity="0.42"/>
<circle cx="560.8" cy="125.1" r="1.65" fill="#d42a3a" fill-opacity="0.42"/>
<circle cx="570.6" cy="143.4" r="1.65" fill="#d42a3a" fill-opacity="0.42"/>
<text x="0" y="2.70" font-size="7.50" text-anchor="middle" transform="translate(488.80 108.00) rotate(-90)">-Log<tspan font-size="58%" dy="0.3em">10</tspan><tspan dy="-0.3em">​</tspan>(false discovery rate)</text>
<text x="596.70" y="196.57" font-size="7.70" text-anchor="middle">Log<tspan font-size="58%" dy="0.3em">2</tspan><tspan dy="-0.3em">​</tspan>(fold change)</text>
<circle cx="602.2" cy="50.0" r="1.60" fill="#d42a3a" fill-opacity="0.55"/>
<circle cx="606.2" cy="51.5" r="1.60" fill="#d42a3a" fill-opacity="0.55"/>
<circle cx="581.4" cy="62.2" r="1.60" fill="#d42a3a" fill-opacity="0.55"/>
<circle cx="590.9" cy="62.2" r="1.60" fill="#d42a3a" fill-opacity="0.55"/>
<circle cx="645.4" cy="100.2" r="1.60" fill="#d42a3a" fill-opacity="0.55"/>
<circle cx="649.7" cy="102.7" r="1.60" fill="#d42a3a" fill-opacity="0.55"/>
<circle cx="596.1" cy="84.9" r="1.60" fill="#d42a3a" fill-opacity="0.55"/>
<text x="574.60" y="49.08" font-size="6.90"><tspan font-style="italic">PMEPA1</tspan></text>
<text x="610.80" y="54.58" font-size="6.90"><tspan font-style="italic">SNAI1</tspan></text>
<text x="593.60" y="66.88" font-size="6.90"><tspan font-style="italic">ANGPTL4</tspan></text>
<text x="568.50" y="70.58" font-size="6.90"><tspan font-style="italic">IL11</tspan></text>
<circle cx="613.60" cy="124.20" r="2.10" fill="#3a3ee6" fill-opacity="0.55"/>
<text x="618.50" y="126.54" font-size="6.50">Down-regulated</text>
<circle cx="613.60" cy="133.70" r="2.10" fill="#d42a3a" fill-opacity="0.55"/>
<text x="618.50" y="136.04" font-size="6.50">Up-regulated</text>
<circle cx="613.60" cy="143.20" r="2.10" fill="#b0b0b0" fill-opacity="0.55"/>
<text x="618.50" y="145.54" font-size="6.50">Unchanged</text>
<text x="282.90" y="220.40" font-size="14.00" font-weight="bold">d</text>
<rect x="404.80" y="221.80" width="125.10" height="169.30" fill="#fff" />
<line x1="410.50" y1="221.80" x2="410.50" y2="391.10" stroke="#e6e6e6" stroke-width="0.50" />
<line x1="421.50" y1="221.80" x2="421.50" y2="391.10" stroke="#f1f1f1" stroke-width="0.40" />
<line x1="432.50" y1="221.80" x2="432.50" y2="391.10" stroke="#e6e6e6" stroke-width="0.50" />
<line x1="443.50" y1="221.80" x2="443.50" y2="391.10" stroke="#f1f1f1" stroke-width="0.40" />
<line x1="454.50" y1="221.80" x2="454.50" y2="391.10" stroke="#e6e6e6" stroke-width="0.50" />
<line x1="466.50" y1="221.80" x2="466.50" y2="391.10" stroke="#f1f1f1" stroke-width="0.40" />
<line x1="477.50" y1="221.80" x2="477.50" y2="391.10" stroke="#e6e6e6" stroke-width="0.50" />
<line x1="488.50" y1="221.80" x2="488.50" y2="391.10" stroke="#f1f1f1" stroke-width="0.40" />
<line x1="499.50" y1="221.80" x2="499.50" y2="391.10" stroke="#e6e6e6" stroke-width="0.50" />
<line x1="510.50" y1="221.80" x2="510.50" y2="391.10" stroke="#f1f1f1" stroke-width="0.40" />
<line x1="521.50" y1="221.80" x2="521.50" y2="391.10" stroke="#e6e6e6" stroke-width="0.50" />
<line x1="532.50" y1="221.80" x2="532.50" y2="391.10" stroke="#f1f1f1" stroke-width="0.40" />
<line x1="404.80" y1="227.50" x2="529.90" y2="227.50" stroke="#e6e6e6" stroke-width="0.50" />
<rect x="410.30" y="222.70" width="114.07" height="9.80" fill="#cfe2c5" />
<line x1="402.80" y1="227.50" x2="404.80" y2="227.50" stroke="#555" stroke-width="0.50" />
<text x="400.30" y="230.23" font-size="7.30" text-anchor="end">TGF-β signaling</text>
<line x1="404.80" y1="238.50" x2="529.90" y2="238.50" stroke="#e6e6e6" stroke-width="0.50" />
<rect x="410.30" y="233.94" width="92.24" height="9.80" fill="#efe0b8" />
<line x1="402.80" y1="238.50" x2="404.80" y2="238.50" stroke="#555" stroke-width="0.50" />
<text x="400.30" y="241.47" font-size="7.30" text-anchor="end">Epithelial Mesenchymal Transition</text>
<line x1="404.80" y1="250.50" x2="529.90" y2="250.50" stroke="#e6e6e6" stroke-width="0.50" />
<rect x="410.30" y="245.18" width="57.04" height="9.80" fill="#d6dcc1" />
<line x1="402.80" y1="250.50" x2="404.80" y2="250.50" stroke="#555" stroke-width="0.50" />
<text x="400.30" y="252.71" font-size="7.30" text-anchor="end">TNFα Signaling via NF-κB</text>
<line x1="404.80" y1="261.50" x2="529.90" y2="261.50" stroke="#e6e6e6" stroke-width="0.50" />
<rect x="410.30" y="256.42" width="22.06" height="9.80" fill="#8ed6c1" />
<line x1="402.80" y1="261.50" x2="404.80" y2="261.50" stroke="#555" stroke-width="0.50" />
<text x="400.30" y="263.95" font-size="7.30" text-anchor="end">Hypoxia</text>
<line x1="404.80" y1="272.50" x2="529.90" y2="272.50" stroke="#e6e6e6" stroke-width="0.50" />
<rect x="410.30" y="267.66" width="8.80" height="9.80" fill="#75d6c5" />
<line x1="402.80" y1="272.50" x2="404.80" y2="272.50" stroke="#555" stroke-width="0.50" />
<text x="400.30" y="275.19" font-size="7.30" text-anchor="end">Xenobiotic Metabolism</text>
<line x1="404.80" y1="283.50" x2="529.90" y2="283.50" stroke="#e6e6e6" stroke-width="0.50" />
<rect x="410.30" y="278.90" width="8.80" height="9.80" fill="#72d6c6" />
<line x1="402.80" y1="283.50" x2="404.80" y2="283.50" stroke="#555" stroke-width="0.50" />
<text x="400.30" y="286.43" font-size="7.30" text-anchor="end">UV Response Dn</text>
<line x1="404.80" y1="295.50" x2="529.90" y2="295.50" stroke="#e6e6e6" stroke-width="0.50" />
<rect x="410.30" y="290.14" width="7.80" height="9.80" fill="#72d6c6" />
<line x1="402.80" y1="295.50" x2="404.80" y2="295.50" stroke="#555" stroke-width="0.50" />
<text x="400.30" y="297.67" font-size="7.30" text-anchor="end">UV Response Up</text>
<line x1="404.80" y1="306.50" x2="529.90" y2="306.50" stroke="#e6e6e6" stroke-width="0.50" />
<rect x="410.30" y="301.38" width="5.12" height="9.80" fill="#72d6c6" />
<line x1="402.80" y1="306.50" x2="404.80" y2="306.50" stroke="#555" stroke-width="0.50" />
<text x="400.30" y="308.91" font-size="7.30" text-anchor="end">KRAS signaling Up</text>
<line x1="404.80" y1="317.50" x2="529.90" y2="317.50" stroke="#e6e6e6" stroke-width="0.50" />
<rect x="410.30" y="312.62" width="5.12" height="9.80" fill="#72d6c6" />
<line x1="402.80" y1="317.50" x2="404.80" y2="317.50" stroke="#555" stroke-width="0.50" />
<text x="400.30" y="320.15" font-size="7.30" text-anchor="end">KRAS signaling Dn</text>
<line x1="404.80" y1="328.50" x2="529.90" y2="328.50" stroke="#e6e6e6" stroke-width="0.50" />
<rect x="410.30" y="323.86" width="5.12" height="9.80" fill="#72d6c6" />
<line x1="402.80" y1="328.50" x2="404.80" y2="328.50" stroke="#555" stroke-width="0.50" />
<text x="400.30" y="331.39" font-size="7.30" text-anchor="end">Inflammatory Response</text>
<line x1="404.80" y1="340.50" x2="529.90" y2="340.50" stroke="#e6e6e6" stroke-width="0.50" />
<rect x="410.30" y="335.10" width="3.56" height="9.80" fill="#72d6c6" />
<line x1="402.80" y1="340.50" x2="404.80" y2="340.50" stroke="#555" stroke-width="0.50" />
<text x="400.30" y="342.63" font-size="7.30" text-anchor="end">Notch signaling</text>
<line x1="404.80" y1="351.50" x2="529.90" y2="351.50" stroke="#e6e6e6" stroke-width="0.50" />
<rect x="410.30" y="346.34" width="2.79" height="9.80" fill="#72d6c6" />
<line x1="402.80" y1="351.50" x2="404.80" y2="351.50" stroke="#555" stroke-width="0.50" />
<text x="400.30" y="353.87" font-size="7.30" text-anchor="end">Myogenesis</text>
<line x1="404.80" y1="362.50" x2="529.90" y2="362.50" stroke="#e6e6e6" stroke-width="0.50" />
<rect x="410.30" y="357.58" width="2.79" height="9.80" fill="#72d6c6" />
<line x1="402.80" y1="362.50" x2="404.80" y2="362.50" stroke="#555" stroke-width="0.50" />
<text x="400.30" y="365.11" font-size="7.30" text-anchor="end">Glycolysis</text>
<line x1="404.80" y1="373.50" x2="529.90" y2="373.50" stroke="#e6e6e6" stroke-width="0.50" />
<rect x="410.30" y="368.82" width="2.79" height="9.80" fill="#72d6c6" />
<line x1="402.80" y1="373.50" x2="404.80" y2="373.50" stroke="#555" stroke-width="0.50" />
<text x="400.30" y="376.35" font-size="7.30" text-anchor="end">Complement</text>
<line x1="404.80" y1="384.50" x2="529.90" y2="384.50" stroke="#e6e6e6" stroke-width="0.50" />
<rect x="410.30" y="380.06" width="2.79" height="9.80" fill="#72d6c6" />
<line x1="402.80" y1="384.50" x2="404.80" y2="384.50" stroke="#555" stroke-width="0.50" />
<text x="400.30" y="387.59" font-size="7.30" text-anchor="end">Apical Junction</text>
<rect x="404.50" y="221.50" width="125.00" height="170.00" fill="none" stroke="#9a9a9a" stroke-width="0.60" />
<line x1="410.50" y1="391.10" x2="410.50" y2="393.10" stroke="#555" stroke-width="0.50" />
<text x="410.30" y="401.96" font-size="7.40" text-anchor="middle">0</text>
<line x1="432.50" y1="391.10" x2="432.50" y2="393.10" stroke="#555" stroke-width="0.50" />
<text x="432.58" y="401.96" font-size="7.40" text-anchor="middle">100</text>
<line x1="454.50" y1="391.10" x2="454.50" y2="393.10" stroke="#555" stroke-width="0.50" />
<text x="454.86" y="401.96" font-size="7.40" text-anchor="middle">200</text>
<line x1="477.50" y1="391.10" x2="477.50" y2="393.10" stroke="#555" stroke-width="0.50" />
<text x="477.14" y="401.96" font-size="7.40" text-anchor="middle">300</text>
<line x1="499.50" y1="391.10" x2="499.50" y2="393.10" stroke="#555" stroke-width="0.50" />
<text x="499.42" y="401.96" font-size="7.40" text-anchor="middle">400</text>
<line x1="521.50" y1="391.10" x2="521.50" y2="393.10" stroke="#555" stroke-width="0.50" />
<text x="521.70" y="401.96" font-size="7.40" text-anchor="middle">500</text>
<text x="465.00" y="411.37" font-size="7.70" text-anchor="middle">gene count</text>
<linearGradient id="gd" x1="0" y1="0" x2="0" y2="1"><stop offset="0" stop-color="#f0e1b6"/><stop offset="0.5" stop-color="#b6dfc0"/><stop offset="1" stop-color="#6fd6c7"/></linearGradient>
<rect x="503.30" y="345.10" width="9.20" height="44.60" fill="url(#gd)" />
<line x1="512.50" y1="350.50" x2="514.00" y2="350.50" stroke="#fff" stroke-width="0.50" />
<text x="515.30" y="352.83" font-size="6.20">8</text>
<line x1="512.50" y1="361.50" x2="514.00" y2="361.50" stroke="#fff" stroke-width="0.50" />
<text x="515.30" y="363.73" font-size="6.20">6</text>
<line x1="512.50" y1="372.50" x2="514.00" y2="372.50" stroke="#fff" stroke-width="0.50" />
<text x="515.30" y="374.53" font-size="6.20">4</text>
<line x1="512.50" y1="382.50" x2="514.00" y2="382.50" stroke="#fff" stroke-width="0.50" />
<text x="515.30" y="385.13" font-size="6.20">2</text>
<text x="0" y="2.23" font-size="6.20" text-anchor="middle" transform="translate(523.30 367.60) rotate(90)">-Log<tspan font-size="58%" dy="0.3em">10</tspan><tspan dy="-0.3em">​</tspan>(FDR)</text>
<text x="541.45" y="220.60" font-size="14.00" font-weight="bold">e</text>
<text x="622.80" y="219.31" font-size="9.20" text-anchor="middle">TGFβ_UP_.V1_UP</text>
<rect x="565.50" y="226.60" width="107.50" height="70.52" fill="#fff" />
<line x1="583.50" y1="226.60" x2="583.50" y2="276.52" stroke="#ececec" stroke-width="0.50" />
<line x1="601.50" y1="226.60" x2="601.50" y2="276.52" stroke="#ececec" stroke-width="0.50" />
<line x1="619.50" y1="226.60" x2="619.50" y2="276.52" stroke="#ececec" stroke-width="0.50" />
<line x1="637.50" y1="226.60" x2="637.50" y2="276.52" stroke="#ececec" stroke-width="0.50" />
<line x1="655.50" y1="226.60" x2="655.50" y2="276.52" stroke="#ececec" stroke-width="0.50" />
<line x1="565.50" y1="263.50" x2="673.00" y2="263.50" stroke="#f3f3f3" stroke-width="0.40" />
<line x1="565.50" y1="257.50" x2="673.00" y2="257.50" stroke="#f3f3f3" stroke-width="0.40" />
<line x1="565.50" y1="251.50" x2="673.00" y2="251.50" stroke="#f3f3f3" stroke-width="0.40" />
<line x1="565.50" y1="245.50" x2="673.00" y2="245.50" stroke="#f3f3f3" stroke-width="0.40" />
<line x1="565.50" y1="239.50" x2="673.00" y2="239.50" stroke="#f3f3f3" stroke-width="0.40" />
<line x1="565.50" y1="233.50" x2="673.00" y2="233.50" stroke="#f3f3f3" stroke-width="0.40" />
<line x1="565.50" y1="269.50" x2="673.00" y2="269.50" stroke="#a8a8a8" stroke-width="0.90" />
<line x1="564.00" y1="227.50" x2="565.50" y2="227.50" stroke="#333" stroke-width="0.40" />
<text x="563.20" y="229.36" font-size="4.90" text-anchor="end">0.7</text>
<line x1="564.00" y1="233.50" x2="565.50" y2="233.50" stroke="#333" stroke-width="0.40" />
<text x="563.20" y="235.29" font-size="4.90" text-anchor="end">0.6</text>
<line x1="564.00" y1="239.50" x2="565.50" y2="239.50" stroke="#333" stroke-width="0.40" />
<text x="563.20" y="241.22" font-size="4.90" text-anchor="end">0.5</text>
<line x1="564.00" y1="245.50" x2="565.50" y2="245.50" stroke="#333" stroke-width="0.40" />
<text x="563.20" y="247.15" font-size="4.90" text-anchor="end">0.4</text>
<line x1="564.00" y1="251.50" x2="565.50" y2="251.50" stroke="#333" stroke-width="0.40" />
<text x="563.20" y="253.08" font-size="4.90" text-anchor="end">0.3</text>
<line x1="564.00" y1="257.50" x2="565.50" y2="257.50" stroke="#333" stroke-width="0.40" />
<text x="563.20" y="259.01" font-size="4.90" text-anchor="end">0.2</text>
<line x1="564.00" y1="263.50" x2="565.50" y2="263.50" stroke="#333" stroke-width="0.40" />
<text x="563.20" y="264.94" font-size="4.90" text-anchor="end">0.1</text>
<line x1="564.00" y1="269.50" x2="565.50" y2="269.50" stroke="#333" stroke-width="0.40" />
<text x="563.20" y="270.87" font-size="4.90" text-anchor="end">0</text>
<line x1="564.00" y1="275.50" x2="565.50" y2="275.50" stroke="#333" stroke-width="0.40" />
<text x="563.20" y="276.80" font-size="4.90" text-anchor="end">-0.1</text>
<polyline points="565.80,269.11 566.33,259.91 566.86,251.98 567.39,245.31 567.92,239.85 568.45,235.56 568.98,232.38 569.51,230.26 570.04,229.11 570.57,228.79 571.10,228.79 571.63,228.79 572.16,228.79 572.69,229.04 573.22,229.29 573.75,229.54 574.28,229.79 574.81,230.05 575.34,230.30 575.87,230.55 576.40,230.80 576.93,231.05 577.46,231.31 577.99,231.56 578.52,231.81 579.05,232.06 579.58,232.31 580.11,232.57 580.64,232.82 581.17,233.07 581.70,233.32 582.23,233.57 582.76,233.83 583.29,234.08 583.82,234.33 584.35,234.58 584.88,234.83 585.41,235.09 585.94,235.34 586.47,235.59 587.00,235.84 587.53,236.09 588.06,236.35 588.59,236.60 589.12,236.85 589.65,237.10 590.18,237.35 590.71,237.61 591.24,237.86 591.77,238.11 592.30,238.36 592.83,238.61 593.36,238.87 593.89,239.12 594.42,239.37 594.95,239.62 595.48,239.88 596.01,240.13 596.54,240.38 597.07,240.63 597.60,240.88 598.13,241.14 598.66,241.39 599.19,241.64 599.72,241.89 600.25,242.14 600.78,242.40 601.31,242.65 601.84,242.90 602.37,243.15 602.90,243.40 603.43,243.66 603.96,243.91 604.49,244.16 605.02,244.41 605.55,244.66 606.08,244.92 606.61,245.17 607.14,245.42 607.67,245.67 608.20,245.92 608.73,246.18 609.26,246.43 609.79,246.68 610.32,246.93 610.85,247.18 611.38,247.44 611.91,247.69 612.44,247.94 612.97,248.19 613.50,248.44 614.03,248.70 614.56,248.95 615.09,249.20 615.62,249.45 616.15,249.70 616.68,249.96 617.21,250.21 617.74,250.46 618.27,250.71 618.80,250.96 619.33,251.22 619.86,251.47 620.39,251.72 620.92,251.97 621.45,252.22 621.98,252.48 622.51,252.73 623.04,252.98 623.57,253.23 624.10,253.48 624.63,253.74 625.16,253.99 625.69,254.24 626.22,254.49 626.75,254.74 627.28,255.00 627.81,255.25 628.34,255.50 628.87,255.75 629.40,256.00 629.93,256.26 630.46,256.51 630.99,256.76 631.52,257.01 632.05,257.26 632.58,257.52 633.11,257.77 633.64,258.02 634.17,258.27 634.70,258.52 635.23,258.78 635.76,259.03 636.29,259.28 636.82,259.53 637.35,259.79 637.88,260.04 638.41,260.29 638.94,260.54 639.47,260.79 640.00,261.05 640.53,261.30 641.06,261.55 641.59,261.80 642.12,262.05 642.65,262.31 643.18,262.56 643.71,262.81 644.24,263.06 644.77,263.31 645.30,263.57 645.83,263.82 646.36,264.07 646.89,264.32 647.42,264.57 647.95,264.83 648.48,265.08 649.01,265.33 649.54,265.58 650.07,265.83 650.60,266.09 651.13,266.34 651.66,266.59 652.19,266.84 652.72,267.09 653.25,267.35 653.78,267.60 654.31,267.85 654.84,268.10 655.37,268.35 655.90,268.61 656.43,268.86 656.96,269.11 657.49,269.42 658.02,269.73 658.55,270.03 659.08,270.33 659.61,270.63 660.14,270.91 660.67,271.19 661.20,271.45 661.73,271.70 662.26,271.93 662.79,272.15 663.32,272.36 663.85,272.54 664.38,272.70 664.91,272.85 665.44,272.97 665.97,273.08 666.50,273.16 667.03,273.21 667.56,273.25 668.09,273.26 668.62,272.84 669.15,272.41 669.68,271.99 670.21,271.57 670.74,271.14 671.27,270.72 671.80,270.30" fill="none" stroke="#3fdc34" stroke-width="1.00" stroke-linejoin="round" />
<rect x="566.00" y="276.82" width="0.80" height="16.10" fill="#000" fill-opacity="0.89"/>
<rect x="568.14" y="276.82" width="0.45" height="16.10" fill="#000" fill-opacity="0.91"/>
<rect x="569.74" y="276.82" width="0.45" height="16.10" fill="#000" fill-opacity="0.95"/>
<rect x="570.61" y="276.82" width="0.60" height="16.10" fill="#000" fill-opacity="0.66"/>
<rect x="571.63" y="276.82" width="0.60" height="16.10" fill="#000" fill-opacity="0.67"/>
<rect x="572.73" y="276.82" width="1.00" height="16.10" fill="#000" fill-opacity="0.54"/>
<rect x="574.90" y="276.82" width="1.00" height="16.10" fill="#000" fill-opacity="0.52"/>
<rect x="576.21" y="276.82" width="0.60" height="16.10" fill="#000" fill-opacity="0.88"/>
<rect x="578.16" y="276.82" width="0.60" height="16.10" fill="#000" fill-opacity="0.61"/>
<rect x="580.12" y="276.82" width="0.60" height="16.10" fill="#000" fill-opacity="0.55"/>
<rect x="582.09" y="276.82" width="1.00" height="16.10" fill="#000" fill-opacity="0.61"/>
<rect x="583.78" y="276.82" width="0.60" height="16.10" fill="#000" fill-opacity="0.60"/>
<rect x="585.99" y="276.82" width="0.80" height="16.10" fill="#000" fill-opacity="0.49"/>
<rect x="587.48" y="276.82" width="0.80" height="16.10" fill="#000" fill-opacity="0.55"/>
<rect x="589.10" y="276.82" width="0.80" height="16.10" fill="#000" fill-opacity="0.99"/>
<rect x="591.46" y="276.82" width="1.00" height="16.10" fill="#000" fill-opacity="0.65"/>
<rect x="593.39" y="276.82" width="0.45" height="16.10" fill="#000" fill-opacity="0.84"/>
<rect x="595.26" y="276.82" width="1.00" height="16.10" fill="#000" fill-opacity="0.64"/>
<rect x="596.95" y="276.82" width="1.00" height="16.10" fill="#000" fill-opacity="0.51"/>
<rect x="600.32" y="276.82" width="0.45" height="16.10" fill="#000" fill-opacity="0.56"/>
<rect x="601.63" y="276.82" width="0.60" height="16.10" fill="#000" fill-opacity="0.64"/>
<rect x="603.55" y="276.82" width="0.80" height="16.10" fill="#000" fill-opacity="0.83"/>
<rect x="606.62" y="276.82" width="0.45" height="16.10" fill="#000" fill-opacity="0.49"/>
<rect x="609.04" y="276.82" width="1.00" height="16.10" fill="#000" fill-opacity="0.53"/>
<rect x="611.42" y="276.82" width="1.00" height="16.10" fill="#000" fill-opacity="0.63"/>
<rect x="613.87" y="276.82" width="1.00" height="16.10" fill="#000" fill-opacity="0.51"/>
<rect x="615.64" y="276.82" width="1.00" height="16.10" fill="#000" fill-opacity="0.61"/>
<rect x="619.48" y="276.82" width="0.80" height="16.10" fill="#000" fill-opacity="0.71"/>
<rect x="620.90" y="276.82" width="0.60" height="16.10" fill="#000" fill-opacity="0.51"/>
<rect x="622.70" y="276.82" width="0.60" height="16.10" fill="#000" fill-opacity="0.79"/>
<rect x="624.15" y="276.82" width="0.45" height="16.10" fill="#000" fill-opacity="0.72"/>
<rect x="625.47" y="276.82" width="0.80" height="16.10" fill="#000" fill-opacity="0.48"/>
<rect x="627.44" y="276.82" width="0.45" height="16.10" fill="#000" fill-opacity="0.87"/>
<rect x="629.20" y="276.82" width="0.80" height="16.10" fill="#000" fill-opacity="0.98"/>
<rect x="630.68" y="276.82" width="0.45" height="16.10" fill="#000" fill-opacity="0.71"/>
<rect x="632.28" y="276.82" width="0.80" height="16.10" fill="#000" fill-opacity="0.70"/>
<rect x="635.45" y="276.82" width="0.80" height="16.10" fill="#000" fill-opacity="0.86"/>
<rect x="637.46" y="276.82" width="0.60" height="16.10" fill="#000" fill-opacity="0.93"/>
<rect x="640.47" y="276.82" width="0.60" height="16.10" fill="#000" fill-opacity="0.56"/>
<rect x="642.38" y="276.82" width="1.00" height="16.10" fill="#000" fill-opacity="0.54"/>
<rect x="645.57" y="276.82" width="0.80" height="16.10" fill="#000" fill-opacity="0.85"/>
<rect x="646.70" y="276.82" width="1.00" height="16.10" fill="#000" fill-opacity="0.79"/>
<rect x="651.82" y="276.82" width="1.00" height="16.10" fill="#000" fill-opacity="0.71"/>
<rect x="654.49" y="276.82" width="0.80" height="16.10" fill="#000" fill-opacity="0.45"/>
<rect x="656.04" y="276.82" width="1.00" height="16.10" fill="#000" fill-opacity="0.93"/>
<rect x="658.09" y="276.82" width="0.45" height="16.10" fill="#000" fill-opacity="0.75"/>
<rect x="659.17" y="276.82" width="0.80" height="16.10" fill="#000" fill-opacity="0.97"/>
<rect x="660.60" y="276.82" width="0.60" height="16.10" fill="#000" fill-opacity="0.68"/>
<rect x="663.10" y="276.82" width="1.00" height="16.10" fill="#000" fill-opacity="0.76"/>
<rect x="666.42" y="276.82" width="0.45" height="16.10" fill="#000" fill-opacity="0.66"/>
<rect x="668.42" y="276.82" width="1.00" height="16.10" fill="#000" fill-opacity="0.69"/>
<rect x="670.80" y="276.82" width="1.00" height="16.10" fill="#000" fill-opacity="0.98"/>
<linearGradient id="gs5" x1="0" y1="0" x2="1" y2="0"><stop offset="0" stop-color="#e03a48"/><stop offset="0.17" stop-color="#e07a88"/><stop offset="0.2" stop-color="#e6a6d8"/><stop offset="0.62" stop-color="#eab0de"/><stop offset="0.66" stop-color="#cfcdf6"/><stop offset="0.86" stop-color="#c4c4f6"/><stop offset="0.9" stop-color="#5a5af0"/><stop offset="1" stop-color="#2828e8"/></linearGradient>
<rect x="565.50" y="292.92" width="107.50" height="4.20" fill="url(#gs5)" />
<line x1="565.50" y1="276.50" x2="673.00" y2="276.50" stroke="#555" stroke-width="0.50" />
<rect x="565.50" y="226.50" width="108.00" height="71.00" fill="none" stroke="#444" stroke-width="0.60" />
<text x="674.80" y="240.36" font-size="7.10" text-anchor="end">NES=2.26</text>
<text x="674.80" y="248.16" font-size="7.10" text-anchor="end"><tspan font-style="italic">P</tspan> &lt; 0.0001</text>
<text x="0" y="2.70" font-size="7.50" text-anchor="middle" transform="translate(549.50 267.90) rotate(-90)">Enrichment score (ES)</text>
<text x="621.00" y="306.99" font-size="6.85" text-anchor="middle">Ranked gene list in CRISPRa <tspan font-style="italic">SNAI1e</tspan> g1</text>
<text x="621.00" y="315.89" font-size="6.85" text-anchor="middle">versus gEV in MDA-MB-231 cells</text>
<rect x="565.50" y="322.60" width="107.50" height="70.52" fill="#fff" />
<line x1="583.50" y1="322.60" x2="583.50" y2="372.52" stroke="#ececec" stroke-width="0.50" />
<line x1="601.50" y1="322.60" x2="601.50" y2="372.52" stroke="#ececec" stroke-width="0.50" />
<line x1="619.50" y1="322.60" x2="619.50" y2="372.52" stroke="#ececec" stroke-width="0.50" />
<line x1="637.50" y1="322.60" x2="637.50" y2="372.52" stroke="#ececec" stroke-width="0.50" />
<line x1="655.50" y1="322.60" x2="655.50" y2="372.52" stroke="#ececec" stroke-width="0.50" />
<line x1="565.50" y1="359.50" x2="673.00" y2="359.50" stroke="#f3f3f3" stroke-width="0.40" />
<line x1="565.50" y1="353.50" x2="673.00" y2="353.50" stroke="#f3f3f3" stroke-width="0.40" />
<line x1="565.50" y1="347.50" x2="673.00" y2="347.50" stroke="#f3f3f3" stroke-width="0.40" />
<line x1="565.50" y1="341.50" x2="673.00" y2="341.50" stroke="#f3f3f3" stroke-width="0.40" />
<line x1="565.50" y1="335.50" x2="673.00" y2="335.50" stroke="#f3f3f3" stroke-width="0.40" />
<line x1="565.50" y1="329.50" x2="673.00" y2="329.50" stroke="#f3f3f3" stroke-width="0.40" />
<line x1="565.50" y1="365.50" x2="673.00" y2="365.50" stroke="#a8a8a8" stroke-width="0.90" />
<line x1="564.00" y1="323.50" x2="565.50" y2="323.50" stroke="#333" stroke-width="0.40" />
<text x="563.20" y="325.36" font-size="4.90" text-anchor="end">0.7</text>
<line x1="564.00" y1="329.50" x2="565.50" y2="329.50" stroke="#333" stroke-width="0.40" />
<text x="563.20" y="331.29" font-size="4.90" text-anchor="end">0.6</text>
<line x1="564.00" y1="335.50" x2="565.50" y2="335.50" stroke="#333" stroke-width="0.40" />
<text x="563.20" y="337.22" font-size="4.90" text-anchor="end">0.5</text>
<line x1="564.00" y1="341.50" x2="565.50" y2="341.50" stroke="#333" stroke-width="0.40" />
<text x="563.20" y="343.15" font-size="4.90" text-anchor="end">0.4</text>
<line x1="564.00" y1="347.50" x2="565.50" y2="347.50" stroke="#333" stroke-width="0.40" />
<text x="563.20" y="349.08" font-size="4.90" text-anchor="end">0.3</text>
<line x1="564.00" y1="353.50" x2="565.50" y2="353.50" stroke="#333" stroke-width="0.40" />
<text x="563.20" y="355.01" font-size="4.90" text-anchor="end">0.2</text>
<line x1="564.00" y1="359.50" x2="565.50" y2="359.50" stroke="#333" stroke-width="0.40" />
<text x="563.20" y="360.94" font-size="4.90" text-anchor="end">0.1</text>
<line x1="564.00" y1="365.50" x2="565.50" y2="365.50" stroke="#333" stroke-width="0.40" />
<text x="563.20" y="366.87" font-size="4.90" text-anchor="end">0</text>
<line x1="564.00" y1="371.50" x2="565.50" y2="371.50" stroke="#333" stroke-width="0.40" />
<text x="563.20" y="372.80" font-size="4.90" text-anchor="end">-0.1</text>
<polyline points="565.80,365.11 566.33,355.91 566.86,347.98 567.39,341.31 567.92,335.85 568.45,331.56 568.98,328.38 569.51,326.26 570.04,325.11 570.57,324.79 571.10,324.79 571.63,324.79 572.16,324.79 572.69,325.04 573.22,325.29 573.75,325.54 574.28,325.79 574.81,326.05 575.34,326.30 575.87,326.55 576.40,326.80 576.93,327.05 577.46,327.31 577.99,327.56 578.52,327.81 579.05,328.06 579.58,328.31 580.11,328.57 580.64,328.82 581.17,329.07 581.70,329.32 582.23,329.57 582.76,329.83 583.29,330.08 583.82,330.33 584.35,330.58 584.88,330.83 585.41,331.09 585.94,331.34 586.47,331.59 587.00,331.84 587.53,332.09 588.06,332.35 588.59,332.60 589.12,332.85 589.65,333.10 590.18,333.35 590.71,333.61 591.24,333.86 591.77,334.11 592.30,334.36 592.83,334.61 593.36,334.87 593.89,335.12 594.42,335.37 594.95,335.62 595.48,335.88 596.01,336.13 596.54,336.38 597.07,336.63 597.60,336.88 598.13,337.14 598.66,337.39 599.19,337.64 599.72,337.89 600.25,338.14 600.78,338.40 601.31,338.65 601.84,338.90 602.37,339.15 602.90,339.40 603.43,339.66 603.96,339.91 604.49,340.16 605.02,340.41 605.55,340.66 606.08,340.92 606.61,341.17 607.14,341.42 607.67,341.67 608.20,341.92 608.73,342.18 609.26,342.43 609.79,342.68 610.32,342.93 610.85,343.18 611.38,343.44 611.91,343.69 612.44,343.94 612.97,344.19 613.50,344.44 614.03,344.70 614.56,344.95 615.09,345.20 615.62,345.45 616.15,345.70 616.68,345.96 617.21,346.21 617.74,346.46 618.27,346.71 618.80,346.96 619.33,347.22 619.86,347.47 620.39,347.72 620.92,347.97 621.45,348.22 621.98,348.48 622.51,348.73 623.04,348.98 623.57,349.23 624.10,349.48 624.63,349.74 625.16,349.99 625.69,350.24 626.22,350.49 626.75,350.74 627.28,351.00 627.81,351.25 628.34,351.50 628.87,351.75 629.40,352.00 629.93,352.26 630.46,352.51 630.99,352.76 631.52,353.01 632.05,353.26 632.58,353.52 633.11,353.77 633.64,354.02 634.17,354.27 634.70,354.52 635.23,354.78 635.76,355.03 636.29,355.28 636.82,355.53 637.35,355.79 637.88,356.04 638.41,356.29 638.94,356.54 639.47,356.79 640.00,357.05 640.53,357.30 641.06,357.55 641.59,357.80 642.12,358.05 642.65,358.31 643.18,358.56 643.71,358.81 644.24,359.06 644.77,359.31 645.30,359.57 645.83,359.82 646.36,360.07 646.89,360.32 647.42,360.57 647.95,360.83 648.48,361.08 649.01,361.33 649.54,361.58 650.07,361.83 650.60,362.09 651.13,362.34 651.66,362.59 652.19,362.84 652.72,363.09 653.25,363.35 653.78,363.60 654.31,363.85 654.84,364.10 655.37,364.35 655.90,364.61 656.43,364.86 656.96,365.11 657.49,365.40 658.02,365.68 658.55,365.97 659.08,366.25 659.61,366.52 660.14,366.78 660.67,367.04 661.20,367.28 661.73,367.51 662.26,367.73 662.79,367.94 663.32,368.12 663.85,368.29 664.38,368.45 664.91,368.58 665.44,368.70 665.97,368.79 666.50,368.87 667.03,368.92 667.56,368.95 668.09,368.96 668.62,368.41 669.15,367.86 669.68,367.31 670.21,366.76 670.74,366.21 671.27,365.66 671.80,365.11" fill="none" stroke="#3fdc34" stroke-width="1.00" stroke-linejoin="round" />
<rect x="566.00" y="372.82" width="0.45" height="16.10" fill="#000" fill-opacity="0.72"/>
<rect x="567.04" y="372.82" width="1.00" height="16.10" fill="#000" fill-opacity="0.98"/>
<rect x="569.15" y="372.82" width="0.45" height="16.10" fill="#000" fill-opacity="0.60"/>
<rect x="570.78" y="372.82" width="1.00" height="16.10" fill="#000" fill-opacity="0.95"/>
<rect x="572.67" y="372.82" width="0.80" height="16.10" fill="#000" fill-opacity="0.81"/>
<rect x="574.44" y="372.82" width="1.00" height="16.10" fill="#000" fill-opacity="0.63"/>
<rect x="575.84" y="372.82" width="0.80" height="16.10" fill="#000" fill-opacity="0.69"/>
<rect x="577.05" y="372.82" width="0.80" height="16.10" fill="#000" fill-opacity="0.50"/>
<rect x="580.76" y="372.82" width="0.45" height="16.10" fill="#000" fill-opacity="0.80"/>
<rect x="581.78" y="372.82" width="0.80" height="16.10" fill="#000" fill-opacity="0.77"/>
<rect x="583.85" y="372.82" width="0.80" height="16.10" fill="#000" fill-opacity="0.62"/>
<rect x="585.17" y="372.82" width="0.60" height="16.10" fill="#000" fill-opacity="0.78"/>
<rect x="587.86" y="372.82" width="0.60" height="16.10" fill="#000" fill-opacity="0.46"/>
<rect x="590.11" y="372.82" width="1.00" height="16.10" fill="#000" fill-opacity="0.74"/>
<rect x="591.73" y="372.82" width="1.00" height="16.10" fill="#000" fill-opacity="0.48"/>
<rect x="596.08" y="372.82" width="1.00" height="16.10" fill="#000" fill-opacity="0.70"/>
<rect x="599.16" y="372.82" width="1.00" height="16.10" fill="#000" fill-opacity="0.97"/>
<rect x="600.68" y="372.82" width="1.00" height="16.10" fill="#000" fill-opacity="0.72"/>
<rect x="602.84" y="372.82" width="0.45" height="16.10" fill="#000" fill-opacity="0.75"/>
<rect x="604.37" y="372.82" width="0.80" height="16.10" fill="#000" fill-opacity="0.96"/>
<rect x="605.75" y="372.82" width="1.00" height="16.10" fill="#000" fill-opacity="0.79"/>
<rect x="607.35" y="372.82" width="1.00" height="16.10" fill="#000" fill-opacity="0.72"/>
<rect x="609.44" y="372.82" width="1.00" height="16.10" fill="#000" fill-opacity="0.63"/>
<rect x="612.78" y="372.82" width="0.80" height="16.10" fill="#000" fill-opacity="0.63"/>
<rect x="614.32" y="372.82" width="0.60" height="16.10" fill="#000" fill-opacity="0.97"/>
<rect x="615.54" y="372.82" width="1.00" height="16.10" fill="#000" fill-opacity="0.98"/>
<rect x="617.04" y="372.82" width="0.45" height="16.10" fill="#000" fill-opacity="0.83"/>
<rect x="619.04" y="372.82" width="0.60" height="16.10" fill="#000" fill-opacity="0.53"/>
<rect x="620.24" y="372.82" width="1.00" height="16.10" fill="#000" fill-opacity="0.49"/>
<rect x="621.79" y="372.82" width="0.60" height="16.10" fill="#000" fill-opacity="0.82"/>
<rect x="622.96" y="372.82" width="0.45" height="16.10" fill="#000" fill-opacity="0.80"/>
<rect x="623.82" y="372.82" width="1.00" height="16.10" fill="#000" fill-opacity="0.70"/>
<rect x="627.18" y="372.82" width="0.45" height="16.10" fill="#000" fill-opacity="0.54"/>
<rect x="628.63" y="372.82" width="1.00" height="16.10" fill="#000" fill-opacity="0.72"/>
<rect x="631.15" y="372.82" width="1.00" height="16.10" fill="#000" fill-opacity="0.71"/>
<rect x="634.97" y="372.82" width="0.80" height="16.10" fill="#000" fill-opacity="0.61"/>
<rect x="637.10" y="372.82" width="0.80" height="16.10" fill="#000" fill-opacity="0.60"/>
<rect x="639.27" y="372.82" width="0.80" height="16.10" fill="#000" fill-opacity="0.47"/>
<rect x="641.46" y="372.82" width="0.45" height="16.10" fill="#000" fill-opacity="0.86"/>
<rect x="642.58" y="372.82" width="0.60" height="16.10" fill="#000" fill-opacity="0.84"/>
<rect x="643.86" y="372.82" width="0.45" height="16.10" fill="#000" fill-opacity="0.67"/>
<rect x="645.76" y="372.82" width="0.80" height="16.10" fill="#000" fill-opacity="0.74"/>
<rect x="646.90" y="372.82" width="0.60" height="16.10" fill="#000" fill-opacity="0.55"/>
<rect x="648.61" y="372.82" width="1.00" height="16.10" fill="#000" fill-opacity="0.89"/>
<rect x="652.04" y="372.82" width="0.60" height="16.10" fill="#000" fill-opacity="0.87"/>
<rect x="656.30" y="372.82" width="0.45" height="16.10" fill="#000" fill-opacity="0.67"/>
<rect x="662.27" y="372.82" width="0.60" height="16.10" fill="#000" fill-opacity="0.66"/>
<rect x="663.23" y="372.82" width="0.45" height="16.10" fill="#000" fill-opacity="0.51"/>
<rect x="664.76" y="372.82" width="0.80" height="16.10" fill="#000" fill-opacity="0.78"/>
<rect x="665.93" y="372.82" width="1.00" height="16.10" fill="#000" fill-opacity="0.57"/>
<rect x="668.48" y="372.82" width="0.45" height="16.10" fill="#000" fill-opacity="0.54"/>
<rect x="669.95" y="372.82" width="0.45" height="16.10" fill="#000" fill-opacity="0.84"/>
<rect x="670.90" y="372.82" width="0.45" height="16.10" fill="#000" fill-opacity="0.86"/>
<linearGradient id="gs6" x1="0" y1="0" x2="1" y2="0"><stop offset="0" stop-color="#e03a48"/><stop offset="0.17" stop-color="#e07a88"/><stop offset="0.2" stop-color="#e6a6d8"/><stop offset="0.62" stop-color="#eab0de"/><stop offset="0.66" stop-color="#cfcdf6"/><stop offset="0.86" stop-color="#c4c4f6"/><stop offset="0.9" stop-color="#5a5af0"/><stop offset="1" stop-color="#2828e8"/></linearGradient>
<rect x="565.50" y="388.92" width="107.50" height="4.20" fill="url(#gs6)" />
<line x1="565.50" y1="372.50" x2="673.00" y2="372.50" stroke="#555" stroke-width="0.50" />
<rect x="565.50" y="322.50" width="108.00" height="71.00" fill="none" stroke="#444" stroke-width="0.60" />
<text x="674.80" y="336.36" font-size="7.10" text-anchor="end">NES=2.14</text>
<text x="674.80" y="344.16" font-size="7.10" text-anchor="end"><tspan font-style="italic">P</tspan> &lt; 0.0001</text>
<text x="0" y="2.70" font-size="7.50" text-anchor="middle" transform="translate(549.50 363.90) rotate(-90)">Enrichment score (ES)</text>
<text x="621.00" y="402.99" font-size="6.85" text-anchor="middle">Ranked gene list in CRISPRa <tspan font-style="italic">SNAI1e</tspan> g2</text>
<text x="621.00" y="411.89" font-size="6.85" text-anchor="middle">versus gEV in MDA-MB-231 cells</text>
<text x="1.26" y="428.60" font-size="14.00" font-weight="bold">f</text>
<text x="78.00" y="431.55" font-size="8.20" text-anchor="middle">MDA-MB-231</text>
<text x="0" y="0.00" font-size="6.60" transform="translate(50.50 472.20) rotate(-45)">gEV</text>
<text x="0" y="0.00" font-size="6.60" transform="translate(72.50 465.60) rotate(-45)">CRISPRa</text>
<text x="0" y="0.00" font-size="6.60" transform="translate(77.50 472.20) rotate(-45)"><tspan font-style="italic">SNAI1e</tspan> g1</text>
<text x="0" y="0.00" font-size="6.60" transform="translate(99.80 465.60) rotate(-45)">CRISPRa</text>
<text x="0" y="0.00" font-size="6.60" transform="translate(104.80 472.20) rotate(-45)"><tspan font-style="italic">SNAI1e</tspan> g2</text>
<line x1="41.00" y1="475.60" x2="64.80" y2="475.60" stroke="#a0a0a0" stroke-width="1.20" />
<line x1="68.00" y1="475.60" x2="91.20" y2="475.60" stroke="#a0a0a0" stroke-width="1.20" />
<line x1="94.50" y1="475.60" x2="118.60" y2="475.60" stroke="#a0a0a0" stroke-width="1.20" />
<text x="33.80" y="485.13" font-size="7.30" text-anchor="end">TGF-β</text>
<text x="45.60" y="485.13" font-size="7.30" text-anchor="middle">-</text>
<text x="59.30" y="485.13" font-size="7.30" text-anchor="middle">+</text>
<text x="73.00" y="485.13" font-size="7.30" text-anchor="middle">-</text>
<text x="86.10" y="485.13" font-size="7.30" text-anchor="middle">+</text>
<text x="99.50" y="485.13" font-size="7.30" text-anchor="middle">-</text>
<text x="112.60" y="485.13" font-size="7.30" text-anchor="middle">+</text>
<text x="121.40" y="485.03" font-size="7.30">kDa</text>
<rect x="35.20" y="487.40" width="84.30" height="16.80" fill="#f6f6f6" />
<rect x="54.80" y="495.18" width="9.00" height="2.04" rx="1.02" fill="#000" fill-opacity="0.25" filter="url(#b1)"/>
<rect x="81.10" y="494.84" width="10.00" height="2.72" rx="1.36" fill="#000" fill-opacity="1.00" filter="url(#b1)"/>
<rect x="107.60" y="494.84" width="10.00" height="2.72" rx="1.36" fill="#000" fill-opacity="0.95" filter="url(#b1)"/>
<rect x="35.50" y="487.50" width="84.00" height="17.00" fill="none" stroke="#2a2a2a" stroke-width="0.75" />
<rect x="35.20" y="507.50" width="84.30" height="16.80" fill="#efefef" />
<rect x="40.10" y="514.28" width="11.00" height="3.23" rx="1.61" fill="#000" fill-opacity="0.75" filter="url(#b1)"/>
<rect x="53.80" y="514.28" width="11.00" height="3.23" rx="1.61" fill="#000" fill-opacity="0.85" filter="url(#b1)"/>
<rect x="67.50" y="514.28" width="11.00" height="3.23" rx="1.61" fill="#000" fill-opacity="0.90" filter="url(#b1)"/>
<rect x="80.60" y="514.28" width="11.00" height="3.23" rx="1.61" fill="#000" fill-opacity="0.95" filter="url(#b1)"/>
<rect x="94.00" y="514.28" width="11.00" height="3.23" rx="1.61" fill="#000" fill-opacity="0.88" filter="url(#b1)"/>
<rect x="107.10" y="514.28" width="11.00" height="3.23" rx="1.61" fill="#000" fill-opacity="0.88" filter="url(#b1)"/>
<rect x="35.50" y="507.50" width="84.00" height="17.00" fill="none" stroke="#2a2a2a" stroke-width="0.75" />
<rect x="35.20" y="527.20" width="84.30" height="15.90" fill="#efefef" />
<rect x="40.60" y="534.17" width="10.00" height="1.87" rx="0.94" fill="#000" fill-opacity="0.45" filter="url(#b1)"/>
<rect x="54.30" y="534.17" width="10.00" height="1.87" rx="0.94" fill="#000" fill-opacity="0.40" filter="url(#b1)"/>
<rect x="68.00" y="534.17" width="10.00" height="1.87" rx="0.94" fill="#000" fill-opacity="0.45" filter="url(#b1)"/>
<rect x="81.10" y="534.17" width="10.00" height="1.87" rx="0.94" fill="#000" fill-opacity="0.45" filter="url(#b1)"/>
<rect x="94.50" y="534.17" width="10.00" height="1.87" rx="0.94" fill="#000" fill-opacity="0.40" filter="url(#b1)"/>
<rect x="107.60" y="534.17" width="10.00" height="1.87" rx="0.94" fill="#000" fill-opacity="0.40" filter="url(#b1)"/>
<rect x="35.50" y="527.50" width="84.00" height="16.00" fill="none" stroke="#2a2a2a" stroke-width="0.75" />
<text x="33.00" y="498.43" font-size="7.30" text-anchor="end">p-SMAD2</text>
<text x="33.00" y="518.53" font-size="7.30" text-anchor="end">t-SMAD2</text>
<text x="33.00" y="537.73" font-size="7.30" text-anchor="end">Vinculin</text>
<line x1="119.90" y1="503.50" x2="122.10" y2="503.50" stroke="#000" stroke-width="0.60" />
<text x="122.90" y="506.28" font-size="6.90">55</text>
<line x1="119.90" y1="522.50" x2="122.10" y2="522.50" stroke="#000" stroke-width="0.60" />
<text x="122.90" y="524.68" font-size="6.90">55</text>
<line x1="119.90" y1="535.50" x2="122.10" y2="535.50" stroke="#000" stroke-width="0.60" />
<text x="122.90" y="537.48" font-size="6.90">130</text>
<line x1="161.50" y1="533.60" x2="161.50" y2="438.38" stroke="#000" stroke-width="0.70" />
<line x1="161.70" y1="533.50" x2="208.60" y2="533.50" stroke="#000" stroke-width="0.70" />
<line x1="159.10" y1="533.50" x2="161.70" y2="533.50" stroke="#000" stroke-width="0.70" />
<text x="158.10" y="536.26" font-size="7.40" text-anchor="end">0</text>
<line x1="159.10" y1="501.50" x2="161.70" y2="501.50" stroke="#000" stroke-width="0.70" />
<text x="158.10" y="504.62" font-size="7.40" text-anchor="end">2</text>
<line x1="159.10" y1="470.50" x2="161.70" y2="470.50" stroke="#000" stroke-width="0.70" />
<text x="158.10" y="472.98" font-size="7.40" text-anchor="end">4</text>
<line x1="159.10" y1="438.50" x2="161.70" y2="438.50" stroke="#000" stroke-width="0.70" />
<text x="158.10" y="441.34" font-size="7.40" text-anchor="end">6</text>
<rect x="166.40" y="516.99" width="9.50" height="16.61" fill="#9b9b9b" />
<circle cx="169.55" cy="517.78" r="1.60" fill="#fff" stroke="#000" stroke-width="0.55" />
<circle cx="172.75" cy="517.78" r="1.60" fill="#fff" stroke="#000" stroke-width="0.55" />
<rect x="181.20" y="482.19" width="8.90" height="51.41" fill="#f4a3aa" />
<line x1="185.50" y1="482.19" x2="185.50" y2="460.51" stroke="#000" stroke-width="0.60" />
<line x1="183.45" y1="460.50" x2="187.85" y2="460.50" stroke="#000" stroke-width="0.60" />
<circle cx="185.35" cy="445.01" r="1.75" fill="#fff" stroke="#000" stroke-width="0.55" />
<circle cx="181.95" cy="487.72" r="1.75" fill="#fff" stroke="#000" stroke-width="0.55" />
<circle cx="188.25" cy="484.56" r="1.75" fill="#fff" stroke="#000" stroke-width="0.55" />
<circle cx="185.35" cy="492.47" r="1.75" fill="#fff" stroke="#000" stroke-width="0.55" />
<circle cx="185.35" cy="500.38" r="1.75" fill="#fff" stroke="#000" stroke-width="0.55" />
<rect x="194.90" y="475.86" width="9.10" height="57.74" fill="#ea3440" />
<line x1="199.50" y1="475.86" x2="199.50" y2="454.50" stroke="#000" stroke-width="0.60" />
<line x1="197.25" y1="454.50" x2="201.65" y2="454.50" stroke="#000" stroke-width="0.60" />
<circle cx="199.45" cy="443.43" r="1.75" fill="#fff" stroke="#000" stroke-width="0.55" />
<circle cx="199.45" cy="467.16" r="1.75" fill="#fff" stroke="#000" stroke-width="0.55" />
<circle cx="196.45" cy="484.56" r="1.75" fill="#fff" stroke="#000" stroke-width="0.55" />
<circle cx="202.05" cy="486.14" r="1.75" fill="#fff" stroke="#000" stroke-width="0.55" />
<circle cx="199.45" cy="497.21" r="1.75" fill="#fff" stroke="#000" stroke-width="0.55" />
<line x1="171.50" y1="533.60" x2="171.50" y2="536.00" stroke="#000" stroke-width="0.60" />
<line x1="185.50" y1="533.60" x2="185.50" y2="536.00" stroke="#000" stroke-width="0.60" />
<line x1="199.50" y1="533.60" x2="199.50" y2="536.00" stroke="#000" stroke-width="0.60" />
<text x="184.50" y="424.12" font-size="5.90" text-anchor="middle"><tspan font-style="italic">P</tspan> = 0.0045</text>
<line x1="171.20" y1="426.50" x2="199.30" y2="426.50" stroke="#000" stroke-width="0.70" />
<text x="177.80" y="435.52" font-size="5.90" text-anchor="middle"><tspan font-style="italic">P</tspan> = 0.0127</text>
<line x1="171.20" y1="437.50" x2="185.40" y2="437.50" stroke="#000" stroke-width="0.70" />
<text x="0" y="2.52" font-size="7.00" text-anchor="middle" transform="translate(145.90 488.50) rotate(-90)">p-SMAD2 (+TGF-β) abundance a.u.</text>
<text x="0" y="2.59" font-size="7.20" text-anchor="middle" transform="translate(169.80 546.00) rotate(-90)">gEV</text>
<text x="0" y="2.59" font-size="7.20" text-anchor="middle" transform="translate(185.40 543.50) rotate(-90)">g1</text>
<text x="0" y="2.59" font-size="7.20" text-anchor="middle" transform="translate(199.30 543.50) rotate(-90)">g2</text>
<line x1="177.80" y1="552.50" x2="203.40" y2="552.50" stroke="#000" stroke-width="0.75" />
<text x="188.30" y="563.46" font-size="7.40" text-anchor="middle">CRISPRa</text>
<text x="188.30" y="571.36" font-size="7.40" text-anchor="middle"><tspan font-style="italic">SNAI1e</tspan> gRNA</text>
<text x="220.00" y="426.10" font-size="14.00" font-weight="bold">g</text>
<text x="295.00" y="438.95" font-size="8.20" text-anchor="middle">MDA-MB-231</text>
<text x="232.00" y="465.63" font-size="7.30">GapmeR</text>
<text x="0" y="0.00" font-size="6.60" transform="translate(279.50 467.00) rotate(-45)">Scr</text>
<text x="0" y="0.00" font-size="6.60" transform="translate(306.00 467.00) rotate(-45)"><tspan font-style="italic">SNAI1e</tspan></text>
<line x1="272.00" y1="469.50" x2="296.00" y2="469.50" stroke="#999" stroke-width="1.00" />
<line x1="299.40" y1="469.50" x2="321.00" y2="469.50" stroke="#999" stroke-width="1.00" />
<text x="263.50" y="479.63" font-size="7.30" text-anchor="end">TGF-β</text>
<text x="274.60" y="479.63" font-size="7.30" text-anchor="middle">-</text>
<text x="288.80" y="479.63" font-size="7.30" text-anchor="middle">+</text>
<text x="302.00" y="479.63" font-size="7.30" text-anchor="middle">-</text>
<text x="316.70" y="479.63" font-size="7.30" text-anchor="middle">+</text>
<text x="324.00" y="479.63" font-size="7.30">kDa</text>
<rect x="267.30" y="481.00" width="55.20" height="16.70" fill="#ebebeb" />
<rect x="283.55" y="488.06" width="10.50" height="2.89" rx="1.44" fill="#000" fill-opacity="1.00" filter="url(#b1)"/>
<rect x="312.20" y="488.56" width="9.00" height="1.87" rx="0.94" fill="#000" fill-opacity="0.30" filter="url(#b1)"/>
<rect x="267.50" y="481.50" width="55.00" height="16.00" fill="none" stroke="#2a2a2a" stroke-width="0.75" />
<rect x="267.30" y="500.40" width="55.20" height="17.00" fill="#efefef" />
<rect x="269.60" y="507.81" width="10.00" height="2.38" rx="1.19" fill="#000" fill-opacity="0.65" filter="url(#b1)"/>
<rect x="283.80" y="507.81" width="10.00" height="2.38" rx="1.19" fill="#000" fill-opacity="0.65" filter="url(#b1)"/>
<rect x="297.00" y="507.81" width="10.00" height="2.38" rx="1.19" fill="#000" fill-opacity="0.70" filter="url(#b1)"/>
<rect x="311.70" y="507.81" width="10.00" height="2.38" rx="1.19" fill="#000" fill-opacity="0.65" filter="url(#b1)"/>
<rect x="267.50" y="500.50" width="55.00" height="17.00" fill="none" stroke="#2a2a2a" stroke-width="0.75" />
<rect x="267.30" y="519.50" width="55.20" height="17.10" fill="#efefef" />
<rect x="269.85" y="527.37" width="9.50" height="1.87" rx="0.94" fill="#000" fill-opacity="0.35" filter="url(#b1)"/>
<rect x="284.05" y="527.37" width="9.50" height="1.87" rx="0.94" fill="#000" fill-opacity="0.35" filter="url(#b1)"/>
<rect x="297.25" y="527.37" width="9.50" height="1.87" rx="0.94" fill="#000" fill-opacity="0.45" filter="url(#b1)"/>
<rect x="311.95" y="527.37" width="9.50" height="1.87" rx="0.94" fill="#000" fill-opacity="0.45" filter="url(#b1)"/>
<rect x="267.50" y="519.50" width="55.00" height="17.00" fill="none" stroke="#2a2a2a" stroke-width="0.75" />
<text x="263.50" y="492.13" font-size="7.30" text-anchor="end">p-SMAD2</text>
<text x="263.50" y="511.63" font-size="7.30" text-anchor="end">t-SMAD2</text>
<text x="263.50" y="530.93" font-size="7.30" text-anchor="end">GAPDH</text>
<line x1="322.50" y1="497.50" x2="324.70" y2="497.50" stroke="#000" stroke-width="0.60" />
<text x="325.50" y="499.48" font-size="6.90">55</text>
<line x1="322.50" y1="514.50" x2="324.70" y2="514.50" stroke="#000" stroke-width="0.60" />
<text x="325.50" y="517.28" font-size="6.90">55</text>
<line x1="322.50" y1="534.50" x2="324.70" y2="534.50" stroke="#000" stroke-width="0.60" />
<text x="325.50" y="536.48" font-size="6.90">35</text>
<line x1="369.50" y1="539.30" x2="369.50" y2="429.90" stroke="#000" stroke-width="0.70" />
<line x1="369.80" y1="539.50" x2="423.00" y2="539.50" stroke="#000" stroke-width="0.70" />
<line x1="367.20" y1="539.50" x2="369.80" y2="539.50" stroke="#000" stroke-width="0.70" />
<text x="366.20" y="541.96" font-size="7.40" text-anchor="end">0</text>
<line x1="367.20" y1="502.50" x2="369.80" y2="502.50" stroke="#000" stroke-width="0.70" />
<text x="366.20" y="505.60" font-size="7.40" text-anchor="end">0.5</text>
<line x1="367.20" y1="466.50" x2="369.80" y2="466.50" stroke="#000" stroke-width="0.70" />
<text x="366.20" y="469.23" font-size="7.40" text-anchor="end">1</text>
<line x1="367.20" y1="430.50" x2="369.80" y2="430.50" stroke="#000" stroke-width="0.70" />
<text x="366.20" y="432.87" font-size="7.40" text-anchor="end">1.5</text>
<rect x="377.20" y="466.57" width="14.80" height="72.73" fill="#000" />
<circle cx="380.40" cy="466.57" r="1.75" fill="#fff" stroke="#000" stroke-width="0.55" />
<circle cx="384.60" cy="466.57" r="1.75" fill="#fff" stroke="#000" stroke-width="0.55" />
<circle cx="388.80" cy="466.57" r="1.75" fill="#fff" stroke="#000" stroke-width="0.55" />
<rect x="398.90" y="518.94" width="16.80" height="20.36" fill="#f28b2c" />
<line x1="407.50" y1="518.94" x2="407.50" y2="513.12" stroke="#000" stroke-width="0.60" />
<line x1="405.10" y1="513.50" x2="409.50" y2="513.50" stroke="#000" stroke-width="0.60" />
<circle cx="407.30" cy="515.30" r="1.75" fill="#fff" stroke="#000" stroke-width="0.55" />
<circle cx="407.30" cy="521.12" r="1.75" fill="#fff" stroke="#000" stroke-width="0.55" />
<circle cx="407.30" cy="524.03" r="1.75" fill="#fff" stroke="#000" stroke-width="0.55" />
<line x1="384.50" y1="539.30" x2="384.50" y2="541.70" stroke="#000" stroke-width="0.60" />
<line x1="407.50" y1="539.30" x2="407.50" y2="541.70" stroke="#000" stroke-width="0.60" />
<text x="396.80" y="452.82" font-size="5.90" text-anchor="middle"><tspan font-style="italic">P</tspan> = 0.0026</text>
<line x1="385.00" y1="456.50" x2="408.60" y2="456.50" stroke="#000" stroke-width="0.70" />
<text x="0" y="2.52" font-size="7.00" text-anchor="middle" transform="translate(349.30 486.00) rotate(-90)">p-SMAD2 (+TGF-β) abundance a.u.</text>
<text x="337.00" y="553.29" font-size="7.20">GapmeR</text>
<text x="0" y="0.00" font-size="7.20" transform="translate(378.80 557.20) rotate(-45)">Scr</text>
<text x="0" y="0.00" font-size="7.20" transform="translate(393.60 567.20) rotate(-45)"><tspan font-style="italic">SNAI1e</tspan></text>
<text x="424.30" y="428.70" font-size="14.00" font-weight="bold">h</text>
<text x="481.00" y="441.02" font-size="8.40" text-anchor="middle">MDA-MB-231</text>
<text x="487.00" y="457.63" font-size="7.30" text-anchor="middle">CRISPRa</text>
<text x="487.00" y="465.63" font-size="7.30" text-anchor="middle"><tspan font-style="italic">SNAI1e</tspan> gRNA</text>
<line x1="477.70" y1="471.50" x2="499.30" y2="471.50" stroke="#000" stroke-width="0.60" />
<text x="0" y="2.63" font-size="7.30" text-anchor="middle" transform="translate(468.50 477.50) rotate(-90)">gEV</text>
<text x="0" y="2.63" font-size="7.30" text-anchor="middle" transform="translate(482.70 478.50) rotate(-90)">g1</text>
<text x="0" y="2.63" font-size="7.30" text-anchor="middle" transform="translate(495.30 478.50) rotate(-90)">g2</text>
<text x="511.00" y="482.63" font-size="7.30" text-anchor="middle">kDa</text>
<rect x="460.60" y="486.70" width="42.60" height="16.60" fill="#f6f6f6" />
<rect x="463.50" y="493.58" width="10.00" height="2.04" rx="1.02" fill="#000" fill-opacity="0.55" filter="url(#b1)"/>
<rect x="476.55" y="493.16" width="11.50" height="2.89" rx="1.44" fill="#000" fill-opacity="1.00" filter="url(#b1)"/>
<rect x="489.75" y="493.16" width="11.50" height="2.89" rx="1.44" fill="#000" fill-opacity="1.00" filter="url(#b1)"/>
<rect x="460.50" y="486.50" width="43.00" height="17.00" fill="none" stroke="#2a2a2a" stroke-width="0.75" />
<rect x="460.60" y="506.40" width="42.60" height="16.60" fill="#efefef" />
<rect x="462.50" y="510.68" width="12.00" height="7.65" rx="3.82" fill="#000" fill-opacity="0.22" filter="url(#b1)"/>
<rect x="476.30" y="510.68" width="12.00" height="7.65" rx="3.82" fill="#000" fill-opacity="0.22" filter="url(#b1)"/>
<rect x="489.50" y="510.68" width="12.00" height="7.65" rx="3.82" fill="#000" fill-opacity="0.22" filter="url(#b1)"/>
<rect x="463.50" y="512.23" width="10.00" height="2.55" rx="1.27" fill="#000" fill-opacity="0.15" filter="url(#b1)"/>
<rect x="477.30" y="512.23" width="10.00" height="2.55" rx="1.27" fill="#000" fill-opacity="0.15" filter="url(#b1)"/>
<rect x="490.50" y="512.23" width="10.00" height="2.55" rx="1.27" fill="#000" fill-opacity="0.15" filter="url(#b1)"/>
<rect x="460.50" y="506.50" width="43.00" height="17.00" fill="none" stroke="#2a2a2a" stroke-width="0.75" />
<rect x="460.60" y="526.00" width="42.60" height="17.20" fill="#efefef" />
<rect x="463.50" y="533.58" width="10.00" height="2.04" rx="1.02" fill="#000" fill-opacity="0.40" filter="url(#b1)"/>
<rect x="477.30" y="533.58" width="10.00" height="2.04" rx="1.02" fill="#000" fill-opacity="0.40" filter="url(#b1)"/>
<rect x="490.50" y="533.58" width="10.00" height="2.04" rx="1.02" fill="#000" fill-opacity="0.40" filter="url(#b1)"/>
<rect x="460.50" y="526.50" width="43.00" height="17.00" fill="none" stroke="#2a2a2a" stroke-width="0.75" />
<text x="457.00" y="497.05" font-size="6.80" text-anchor="end">TβRI</text>
<text x="457.00" y="516.65" font-size="6.80" text-anchor="end">TβRII</text>
<text x="457.00" y="536.95" font-size="6.80" text-anchor="end">Vinculin</text>
<line x1="503.20" y1="493.50" x2="505.40" y2="493.50" stroke="#000" stroke-width="0.60" />
<text x="506.20" y="495.78" font-size="6.90">55</text>
<line x1="503.20" y1="519.50" x2="505.40" y2="519.50" stroke="#000" stroke-width="0.60" />
<text x="506.20" y="521.48" font-size="6.90">70</text>
<line x1="503.20" y1="533.50" x2="505.40" y2="533.50" stroke="#000" stroke-width="0.60" />
<text x="506.20" y="535.68" font-size="6.90">130</text>
<line x1="546.50" y1="534.60" x2="546.50" y2="440.70" stroke="#000" stroke-width="0.70" />
<line x1="546.50" y1="534.50" x2="593.10" y2="534.50" stroke="#000" stroke-width="0.70" />
<line x1="543.90" y1="534.50" x2="546.50" y2="534.50" stroke="#000" stroke-width="0.70" />
<text x="542.90" y="537.12" font-size="7.00" text-anchor="end">0</text>
<line x1="543.90" y1="503.50" x2="546.50" y2="503.50" stroke="#000" stroke-width="0.70" />
<text x="542.90" y="505.92" font-size="7.00" text-anchor="end">1</text>
<line x1="543.90" y1="472.50" x2="546.50" y2="472.50" stroke="#000" stroke-width="0.70" />
<text x="542.90" y="474.72" font-size="7.00" text-anchor="end">2</text>
<line x1="543.90" y1="441.50" x2="546.50" y2="441.50" stroke="#000" stroke-width="0.70" />
<text x="542.90" y="443.52" font-size="7.00" text-anchor="end">3</text>
<rect x="552.00" y="503.40" width="8.60" height="31.20" fill="#9b9b9b" />
<circle cx="553.90" cy="503.40" r="1.60" fill="#fff" stroke="#000" stroke-width="0.55" />
<circle cx="556.30" cy="503.40" r="1.60" fill="#fff" stroke="#000" stroke-width="0.55" />
<circle cx="558.70" cy="503.40" r="1.60" fill="#fff" stroke="#000" stroke-width="0.55" />
<rect x="565.50" y="468.14" width="9.20" height="66.46" fill="#f4a3aa" />
<line x1="570.50" y1="468.14" x2="570.50" y2="452.86" stroke="#000" stroke-width="0.60" />
<line x1="567.90" y1="452.50" x2="572.30" y2="452.50" stroke="#000" stroke-width="0.60" />
<circle cx="570.10" cy="452.86" r="1.75" fill="#fff" stroke="#000" stroke-width="0.55" />
<circle cx="570.10" cy="470.95" r="1.75" fill="#fff" stroke="#000" stroke-width="0.55" />
<circle cx="570.10" cy="479.06" r="1.75" fill="#fff" stroke="#000" stroke-width="0.55" />
<rect x="579.60" y="469.70" width="9.00" height="64.90" fill="#ea3440" />
<line x1="584.50" y1="469.70" x2="584.50" y2="450.98" stroke="#000" stroke-width="0.60" />
<line x1="581.90" y1="450.50" x2="586.30" y2="450.50" stroke="#000" stroke-width="0.60" />
<circle cx="584.10" cy="449.11" r="1.75" fill="#fff" stroke="#000" stroke-width="0.55" />
<circle cx="581.30" cy="479.06" r="1.75" fill="#fff" stroke="#000" stroke-width="0.55" />
<circle cx="586.90" cy="479.06" r="1.75" fill="#fff" stroke="#000" stroke-width="0.55" />
<line x1="556.50" y1="534.60" x2="556.50" y2="537.00" stroke="#000" stroke-width="0.60" />
<line x1="570.50" y1="534.60" x2="570.50" y2="537.00" stroke="#000" stroke-width="0.60" />
<line x1="583.50" y1="534.60" x2="583.50" y2="537.00" stroke="#000" stroke-width="0.60" />
<text x="569.70" y="434.72" font-size="5.90" text-anchor="middle"><tspan font-style="italic">P</tspan> = 0.0271</text>
<line x1="555.70" y1="436.50" x2="584.00" y2="436.50" stroke="#000" stroke-width="0.70" />
<text x="562.40" y="445.32" font-size="5.90" text-anchor="middle"><tspan font-style="italic">P</tspan> = 0.0281</text>
<line x1="555.70" y1="447.50" x2="569.00" y2="447.50" stroke="#000" stroke-width="0.70" />
<text x="0" y="2.52" font-size="7.00" text-anchor="middle" transform="translate(531.80 488.80) rotate(-90)">Relative TβRI abundance a.u.</text>
<text x="0" y="2.59" font-size="7.20" text-anchor="middle" transform="translate(556.50 546.50) rotate(-90)">gEV</text>
<text x="0" y="2.59" font-size="7.20" text-anchor="middle" transform="translate(570.50 544.50) rotate(-90)">g1</text>
<text x="0" y="2.59" font-size="7.20" text-anchor="middle" transform="translate(583.80 544.50) rotate(-90)">g2</text>
<line x1="563.50" y1="553.50" x2="590.40" y2="553.50" stroke="#000" stroke-width="0.75" />
<text x="577.60" y="563.66" font-size="7.40" text-anchor="middle">CRISPRa</text>
<text x="577.60" y="572.66" font-size="7.40" text-anchor="middle"><tspan font-style="italic">SNAI1e</tspan> gRNA</text>
<line x1="626.50" y1="534.70" x2="626.50" y2="440.50" stroke="#000" stroke-width="0.70" />
<line x1="626.10" y1="534.50" x2="672.60" y2="534.50" stroke="#000" stroke-width="0.70" />
<line x1="623.50" y1="534.50" x2="626.10" y2="534.50" stroke="#000" stroke-width="0.70" />
<text x="622.50" y="537.22" font-size="7.00" text-anchor="end">0</text>
<line x1="623.50" y1="503.50" x2="626.10" y2="503.50" stroke="#000" stroke-width="0.70" />
<text x="622.50" y="505.92" font-size="7.00" text-anchor="end">0.5</text>
<line x1="623.50" y1="472.50" x2="626.10" y2="472.50" stroke="#000" stroke-width="0.70" />
<text x="622.50" y="474.62" font-size="7.00" text-anchor="end">1.0</text>
<line x1="623.50" y1="440.50" x2="626.10" y2="440.50" stroke="#000" stroke-width="0.70" />
<text x="622.50" y="443.32" font-size="7.00" text-anchor="end">1.5</text>
<rect x="631.30" y="472.10" width="8.70" height="62.60" fill="#9b9b9b" />
<circle cx="633.25" cy="472.10" r="1.60" fill="#fff" stroke="#000" stroke-width="0.55" />
<circle cx="635.65" cy="472.10" r="1.60" fill="#fff" stroke="#000" stroke-width="0.55" />
<circle cx="638.05" cy="472.10" r="1.60" fill="#fff" stroke="#000" stroke-width="0.55" />
<rect x="645.30" y="485.87" width="8.70" height="48.83" fill="#f4a3aa" />
<line x1="649.50" y1="485.87" x2="649.50" y2="479.61" stroke="#000" stroke-width="0.60" />
<line x1="647.45" y1="479.50" x2="651.85" y2="479.50" stroke="#000" stroke-width="0.60" />
<circle cx="649.65" cy="479.61" r="1.75" fill="#fff" stroke="#000" stroke-width="0.55" />
<circle cx="649.65" cy="484.62" r="1.75" fill="#fff" stroke="#000" stroke-width="0.55" />
<circle cx="649.65" cy="490.88" r="1.75" fill="#fff" stroke="#000" stroke-width="0.55" />
<rect x="659.30" y="474.60" width="8.70" height="60.10" fill="#ea3440" />
<line x1="663.50" y1="474.60" x2="663.50" y2="457.70" stroke="#000" stroke-width="0.60" />
<line x1="661.45" y1="457.50" x2="665.85" y2="457.50" stroke="#000" stroke-width="0.60" />
<circle cx="663.65" cy="457.70" r="1.75" fill="#fff" stroke="#000" stroke-width="0.55" />
<circle cx="663.65" cy="477.11" r="1.75" fill="#fff" stroke="#000" stroke-width="0.55" />
<circle cx="663.65" cy="487.75" r="1.75" fill="#fff" stroke="#000" stroke-width="0.55" />
<line x1="635.50" y1="534.70" x2="635.50" y2="537.10" stroke="#000" stroke-width="0.60" />
<line x1="649.50" y1="534.70" x2="649.50" y2="537.10" stroke="#000" stroke-width="0.60" />
<line x1="663.50" y1="534.70" x2="663.50" y2="537.10" stroke="#000" stroke-width="0.60" />
<text x="649.00" y="446.52" font-size="5.90" text-anchor="middle"><tspan font-style="italic">P</tspan> = 0.9463</text>
<line x1="634.30" y1="449.50" x2="664.00" y2="449.50" stroke="#000" stroke-width="0.70" />
<text x="641.50" y="463.32" font-size="5.90" text-anchor="middle"><tspan font-style="italic">P</tspan> = 0.2486</text>
<line x1="634.30" y1="465.50" x2="647.60" y2="465.50" stroke="#000" stroke-width="0.70" />
<text x="0" y="2.52" font-size="7.00" text-anchor="middle" transform="translate(607.20 488.80) rotate(-90)">Relative TβRII abundance a.u.</text>
<text x="0" y="2.59" font-size="7.20" text-anchor="middle" transform="translate(635.60 546.50) rotate(-90)">gEV</text>
<text x="0" y="2.59" font-size="7.20" text-anchor="middle" transform="translate(649.60 544.50) rotate(-90)">g1</text>
<text x="0" y="2.59" font-size="7.20" text-anchor="middle" transform="translate(663.60 544.50) rotate(-90)">g2</text>
<line x1="641.80" y1="553.50" x2="668.70" y2="553.50" stroke="#000" stroke-width="0.75" />
<text x="654.60" y="563.66" font-size="7.40" text-anchor="middle">CRISPRa</text>
<text x="654.60" y="572.66" font-size="7.40" text-anchor="middle"><tspan font-style="italic">SNAI1e</tspan> gRNA</text>
<text x="0.50" y="593.20" font-size="14.00" font-weight="bold">i</text>
<text x="133.30" y="592.15" font-size="8.20" text-anchor="middle">MDA-MB-231</text>
<text x="80.20" y="613.90" font-size="7.50" text-anchor="middle">gEV</text>
<text x="135.80" y="605.00" font-size="7.50" text-anchor="middle">CRISPRa</text>
<text x="135.80" y="613.50" font-size="7.50" text-anchor="middle"><tspan font-style="italic">SNAI1e</tspan> g1</text>
<text x="189.50" y="605.00" font-size="7.50" text-anchor="middle">CRISPRa</text>
<text x="189.50" y="613.50" font-size="7.50" text-anchor="middle"><tspan font-style="italic">SNAI1e</tspan> g2</text>
<line x1="57.80" y1="616.50" x2="105.10" y2="616.50" stroke="#000" stroke-width="0.60" />
<line x1="111.90" y1="616.50" x2="158.90" y2="616.50" stroke="#000" stroke-width="0.60" />
<line x1="165.40" y1="616.50" x2="212.40" y2="616.50" stroke="#000" stroke-width="0.60" />
<text x="46.40" y="625.06" font-size="7.10" text-anchor="end">CHX (h)</text>
<text x="59.60" y="625.43" font-size="7.30" text-anchor="middle">0</text>
<text x="72.70" y="625.43" font-size="7.30" text-anchor="middle">8</text>
<text x="85.80" y="625.43" font-size="7.30" text-anchor="middle">14</text>
<text x="100.20" y="625.43" font-size="7.30" text-anchor="middle">24</text>
<text x="113.90" y="625.43" font-size="7.30" text-anchor="middle">0</text>
<text x="126.60" y="625.43" font-size="7.30" text-anchor="middle">8</text>
<text x="140.50" y="625.43" font-size="7.30" text-anchor="middle">14</text>
<text x="154.20" y="625.43" font-size="7.30" text-anchor="middle">24</text>
<text x="167.40" y="625.43" font-size="7.30" text-anchor="middle">0</text>
<text x="180.70" y="625.43" font-size="7.30" text-anchor="middle">8</text>
<text x="194.00" y="625.43" font-size="7.30" text-anchor="middle">14</text>
<text x="208.30" y="625.43" font-size="7.30" text-anchor="middle">24</text>
<text x="220.20" y="626.93" font-size="7.30">kDa</text>
<rect x="51.30" y="628.60" width="166.80" height="17.20" fill="#efefef" />
<rect x="54.10" y="636.95" width="11.00" height="2.89" rx="1.44" fill="#000" fill-opacity="0.55" filter="url(#b1)"/>
<rect x="67.20" y="636.95" width="11.00" height="2.89" rx="1.44" fill="#000" fill-opacity="0.25" filter="url(#b1)"/>
<rect x="80.30" y="636.95" width="11.00" height="2.89" rx="1.44" fill="#000" fill-opacity="0.18" filter="url(#b1)"/>
<rect x="94.70" y="636.95" width="11.00" height="2.89" rx="1.44" fill="#000" fill-opacity="0.08" filter="url(#b1)"/>
<rect x="108.40" y="636.95" width="11.00" height="2.89" rx="1.44" fill="#000" fill-opacity="0.98" filter="url(#b1)"/>
<rect x="121.10" y="636.95" width="11.00" height="2.89" rx="1.44" fill="#000" fill-opacity="0.95" filter="url(#b1)"/>
<rect x="135.00" y="636.95" width="11.00" height="2.89" rx="1.44" fill="#000" fill-opacity="0.70" filter="url(#b1)"/>
<rect x="148.70" y="636.95" width="11.00" height="2.89" rx="1.44" fill="#000" fill-opacity="0.60" filter="url(#b1)"/>
<rect x="161.90" y="636.95" width="11.00" height="2.89" rx="1.44" fill="#000" fill-opacity="0.98" filter="url(#b1)"/>
<rect x="175.20" y="636.95" width="11.00" height="2.89" rx="1.44" fill="#000" fill-opacity="0.98" filter="url(#b1)"/>
<rect x="188.50" y="636.95" width="11.00" height="2.89" rx="1.44" fill="#000" fill-opacity="0.85" filter="url(#b1)"/>
<rect x="202.80" y="636.95" width="11.00" height="2.89" rx="1.44" fill="#000" fill-opacity="0.45" filter="url(#b1)"/>
<rect x="51.50" y="628.50" width="167.00" height="17.00" fill="none" stroke="#2a2a2a" stroke-width="0.75" />
<rect x="51.30" y="651.40" width="166.80" height="17.50" fill="#efefef" />
<rect x="54.60" y="660.35" width="10.00" height="1.70" rx="0.85" fill="#000" fill-opacity="0.75" filter="url(#b1)"/>
<rect x="67.70" y="660.35" width="10.00" height="1.70" rx="0.85" fill="#000" fill-opacity="0.75" filter="url(#b1)"/>
<rect x="80.80" y="660.35" width="10.00" height="1.70" rx="0.85" fill="#000" fill-opacity="0.75" filter="url(#b1)"/>
<rect x="95.20" y="660.35" width="10.00" height="1.70" rx="0.85" fill="#000" fill-opacity="0.75" filter="url(#b1)"/>
<rect x="108.90" y="660.35" width="10.00" height="1.70" rx="0.85" fill="#000" fill-opacity="0.75" filter="url(#b1)"/>
<rect x="121.60" y="660.35" width="10.00" height="1.70" rx="0.85" fill="#000" fill-opacity="0.75" filter="url(#b1)"/>
<rect x="135.50" y="660.35" width="10.00" height="1.70" rx="0.85" fill="#000" fill-opacity="0.75" filter="url(#b1)"/>
<rect x="149.20" y="660.35" width="10.00" height="1.70" rx="0.85" fill="#000" fill-opacity="0.75" filter="url(#b1)"/>
<rect x="162.40" y="660.35" width="10.00" height="1.70" rx="0.85" fill="#000" fill-opacity="0.75" filter="url(#b1)"/>
<rect x="175.70" y="660.35" width="10.00" height="1.70" rx="0.85" fill="#000" fill-opacity="0.75" filter="url(#b1)"/>
<rect x="189.00" y="660.35" width="10.00" height="1.70" rx="0.85" fill="#000" fill-opacity="0.75" filter="url(#b1)"/>
<rect x="203.30" y="660.35" width="10.00" height="1.70" rx="0.85" fill="#000" fill-opacity="0.75" filter="url(#b1)"/>
<rect x="51.50" y="651.50" width="167.00" height="17.00" fill="none" stroke="#2a2a2a" stroke-width="0.75" />
<text x="48.20" y="640.93" font-size="7.30" text-anchor="end">TβRI</text>
<text x="48.20" y="662.83" font-size="7.30" text-anchor="end">GAPDH</text>
<line x1="218.10" y1="638.50" x2="220.30" y2="638.50" stroke="#000" stroke-width="0.60" />
<text x="221.10" y="640.88" font-size="6.90">55</text>
<line x1="218.10" y1="665.50" x2="220.30" y2="665.50" stroke="#000" stroke-width="0.60" />
<text x="221.10" y="668.08" font-size="6.90">35</text>
<line x1="70.50" y1="765.70" x2="70.50" y2="683.61" stroke="#000" stroke-width="0.70" />
<line x1="70.00" y1="765.50" x2="192.60" y2="765.50" stroke="#000" stroke-width="0.70" />
<line x1="67.40" y1="765.50" x2="70.00" y2="765.50" stroke="#000" stroke-width="0.70" />
<text x="66.10" y="768.15" font-size="6.80" text-anchor="end">0</text>
<line x1="67.40" y1="738.50" x2="70.00" y2="738.50" stroke="#000" stroke-width="0.70" />
<text x="66.10" y="740.88" font-size="6.80" text-anchor="end">0.5</text>
<line x1="67.40" y1="711.50" x2="70.00" y2="711.50" stroke="#000" stroke-width="0.70" />
<text x="66.10" y="713.62" font-size="6.80" text-anchor="end">1.0</text>
<line x1="67.40" y1="683.50" x2="70.00" y2="683.50" stroke="#000" stroke-width="0.70" />
<text x="66.10" y="686.35" font-size="6.80" text-anchor="end">1.5</text>
<line x1="68.50" y1="752.50" x2="70.00" y2="752.50" stroke="#000" stroke-width="0.50" />
<line x1="68.50" y1="724.50" x2="70.00" y2="724.50" stroke="#000" stroke-width="0.50" />
<line x1="68.50" y1="697.50" x2="70.00" y2="697.50" stroke="#000" stroke-width="0.50" />
<line x1="85.50" y1="765.70" x2="85.50" y2="768.30" stroke="#000" stroke-width="0.70" />
<text x="85.20" y="776.63" font-size="7.30" text-anchor="middle">0</text>
<line x1="116.50" y1="765.70" x2="116.50" y2="768.30" stroke="#000" stroke-width="0.70" />
<text x="116.30" y="776.63" font-size="7.30" text-anchor="middle">8</text>
<line x1="147.50" y1="765.70" x2="147.50" y2="768.30" stroke="#000" stroke-width="0.70" />
<text x="147.60" y="776.63" font-size="7.30" text-anchor="middle">14</text>
<line x1="177.50" y1="765.70" x2="177.50" y2="768.30" stroke="#000" stroke-width="0.70" />
<text x="177.30" y="776.63" font-size="7.30" text-anchor="middle">24</text>
<text x="132.60" y="785.30" font-size="7.50" text-anchor="middle">Time (h)</text>
<text x="0" y="2.45" font-size="6.80" text-anchor="middle" transform="translate(51.80 724.70) rotate(-90)">Relative TβRI abundance a.u.</text>
<polyline points="85.20,711.17 116.30,749.34 147.60,760.25 177.30,764.88" fill="none" stroke="#a8a8a8" stroke-width="0.80" stroke-linejoin="round" />
<line x1="116.50" y1="748.25" x2="116.50" y2="750.43" stroke="#a8a8a8" stroke-width="0.70" />
<line x1="114.50" y1="748.50" x2="118.10" y2="748.50" stroke="#a8a8a8" stroke-width="0.70" />
<line x1="114.50" y1="750.50" x2="118.10" y2="750.50" stroke="#a8a8a8" stroke-width="0.70" />
<line x1="147.50" y1="757.52" x2="147.50" y2="762.97" stroke="#a8a8a8" stroke-width="0.70" />
<line x1="145.80" y1="757.50" x2="149.40" y2="757.50" stroke="#a8a8a8" stroke-width="0.70" />
<line x1="145.80" y1="762.50" x2="149.40" y2="762.50" stroke="#a8a8a8" stroke-width="0.70" />
<line x1="177.50" y1="764.34" x2="177.50" y2="765.43" stroke="#a8a8a8" stroke-width="0.70" />
<line x1="175.50" y1="764.50" x2="179.10" y2="764.50" stroke="#a8a8a8" stroke-width="0.70" />
<line x1="175.50" y1="765.50" x2="179.10" y2="765.50" stroke="#a8a8a8" stroke-width="0.70" />
<path d="M85.20 709.06l1.97 3.40h-3.94zM116.30 747.23l1.97 3.40h-3.94zM147.60 758.14l1.97 3.40h-3.94zM177.30 762.77l1.97 3.40h-3.94z" fill="#a8a8a8"/>
<polyline points="85.20,711.17 116.30,714.99 147.60,732.44 177.30,736.80" fill="none" stroke="#f08a94" stroke-width="0.80" stroke-linejoin="round" />
<line x1="116.50" y1="711.17" x2="116.50" y2="718.80" stroke="#f08a94" stroke-width="0.70" />
<line x1="114.50" y1="711.50" x2="118.10" y2="711.50" stroke="#f08a94" stroke-width="0.70" />
<line x1="114.50" y1="718.50" x2="118.10" y2="718.50" stroke="#f08a94" stroke-width="0.70" />
<line x1="147.50" y1="728.62" x2="147.50" y2="736.25" stroke="#f08a94" stroke-width="0.70" />
<line x1="145.80" y1="728.50" x2="149.40" y2="728.50" stroke="#f08a94" stroke-width="0.70" />
<line x1="145.80" y1="736.50" x2="149.40" y2="736.50" stroke="#f08a94" stroke-width="0.70" />
<line x1="177.50" y1="732.44" x2="177.50" y2="741.16" stroke="#f08a94" stroke-width="0.70" />
<line x1="175.50" y1="732.50" x2="179.10" y2="732.50" stroke="#f08a94" stroke-width="0.70" />
<line x1="175.50" y1="741.50" x2="179.10" y2="741.50" stroke="#f08a94" stroke-width="0.70" />
<path d="M85.20 709.06l1.97 3.40h-3.94zM116.30 712.88l1.97 3.40h-3.94zM147.60 730.33l1.97 3.40h-3.94zM177.30 734.69l1.97 3.40h-3.94z" fill="#f08a94"/>
<polyline points="85.20,711.17 116.30,711.17 147.60,717.17 177.30,724.26" fill="none" stroke="#e4313c" stroke-width="0.80" stroke-linejoin="round" />
<line x1="116.50" y1="699.72" x2="116.50" y2="722.62" stroke="#e4313c" stroke-width="0.70" />
<line x1="114.50" y1="699.50" x2="118.10" y2="699.50" stroke="#e4313c" stroke-width="0.70" />
<line x1="114.50" y1="722.50" x2="118.10" y2="722.50" stroke="#e4313c" stroke-width="0.70" />
<line x1="147.50" y1="704.08" x2="147.50" y2="730.26" stroke="#e4313c" stroke-width="0.70" />
<line x1="145.80" y1="704.50" x2="149.40" y2="704.50" stroke="#e4313c" stroke-width="0.70" />
<line x1="145.80" y1="730.50" x2="149.40" y2="730.50" stroke="#e4313c" stroke-width="0.70" />
<line x1="177.50" y1="710.62" x2="177.50" y2="737.89" stroke="#e4313c" stroke-width="0.70" />
<line x1="175.50" y1="710.50" x2="179.10" y2="710.50" stroke="#e4313c" stroke-width="0.70" />
<line x1="175.50" y1="737.50" x2="179.10" y2="737.50" stroke="#e4313c" stroke-width="0.70" />
<path d="M85.20 709.06l1.97 3.40h-3.94zM116.30 709.06l1.97 3.40h-3.94zM147.60 715.06l1.97 3.40h-3.94zM177.30 722.15l1.97 3.40h-3.94z" fill="#e4313c"/>
<line x1="160.70" y1="685.50" x2="170.40" y2="685.50" stroke="#a8a8a8" stroke-width="0.80" />
<path d="M165.40 683.32l1.86 3.20h-3.71z" fill="#a8a8a8"/>
<text x="172.60" y="687.39" font-size="5.80">gEV</text>
<line x1="160.70" y1="693.50" x2="170.40" y2="693.50" stroke="#f08a94" stroke-width="0.80" />
<path d="M165.40 691.02l1.86 3.20h-3.71z" fill="#f08a94"/>
<text x="172.60" y="695.09" font-size="5.80"><tspan font-style="italic">SNAI1e</tspan> g1</text>
<line x1="160.70" y1="701.50" x2="170.40" y2="701.50" stroke="#e4313c" stroke-width="0.80" />
<path d="M165.40 699.92l1.86 3.20h-3.71z" fill="#e4313c"/>
<text x="172.60" y="703.99" font-size="5.80"><tspan font-style="italic">SNAI1e</tspan> g2</text>
<line x1="200.50" y1="685.00" x2="200.50" y2="697.00" stroke="#000" stroke-width="0.50" />
<text x="0" y="2.09" font-size="5.80" text-anchor="middle" transform="translate(205.20 692.00) rotate(90)"><tspan font-style="italic">P</tspan> &lt; 0.0001</text>
<line x1="211.50" y1="680.00" x2="211.50" y2="705.00" stroke="#000" stroke-width="0.50" />
<text x="0" y="2.09" font-size="5.80" text-anchor="middle" transform="translate(215.20 694.00) rotate(90)"><tspan font-style="italic">P</tspan> &lt; 0.0001</text>
<text x="254.30" y="592.10" font-size="14.00" font-weight="bold">j</text>
<text x="354.30" y="588.68" font-size="8.00" text-anchor="middle">MDA-MB-231</text>
<text x="285.70" y="598.38" font-size="6.60">GapmeR</text>
<text x="328.00" y="598.38" font-size="6.60" text-anchor="middle">Scr</text>
<text x="369.00" y="598.38" font-size="6.60" text-anchor="middle"><tspan font-style="italic">SNAI1e</tspan></text>
<line x1="344.00" y1="601.50" x2="385.00" y2="601.50" stroke="#000" stroke-width="0.60" />
<text x="327.40" y="623.45" font-size="6.80" text-anchor="middle">-</text>
<text x="342.60" y="623.45" font-size="6.80" text-anchor="middle">-</text>
<text x="0" y="0.00" font-size="6.80" transform="translate(355.50 624.50) rotate(-45)">MG132</text>
<text x="0" y="0.00" font-size="6.80" transform="translate(371.50 624.50) rotate(-45)">BafA1</text>
<text x="390.80" y="624.33" font-size="7.30" text-anchor="middle">kDa</text>
<rect x="317.80" y="626.00" width="63.70" height="17.60" fill="#efefef" />
<rect x="321.90" y="633.44" width="11.00" height="2.72" rx="1.36" fill="#000" fill-opacity="0.85" filter="url(#b1)"/>
<rect x="337.60" y="633.78" width="10.00" height="2.04" rx="1.02" fill="#000" fill-opacity="0.22" filter="url(#b1)"/>
<rect x="353.10" y="633.44" width="11.00" height="2.72" rx="1.36" fill="#000" fill-opacity="0.85" filter="url(#b1)"/>
<rect x="369.00" y="633.78" width="10.00" height="2.04" rx="1.02" fill="#000" fill-opacity="0.22" filter="url(#b1)"/>
<rect x="317.50" y="626.50" width="64.00" height="17.00" fill="none" stroke="#2a2a2a" stroke-width="0.75" />
<rect x="317.80" y="646.00" width="63.70" height="16.60" fill="#efefef" />
<rect x="322.15" y="653.28" width="10.50" height="2.04" rx="1.02" fill="#000" fill-opacity="0.60" filter="url(#b1)"/>
<rect x="337.35" y="653.28" width="10.50" height="2.04" rx="1.02" fill="#000" fill-opacity="0.60" filter="url(#b1)"/>
<rect x="353.35" y="653.28" width="10.50" height="2.04" rx="1.02" fill="#000" fill-opacity="0.60" filter="url(#b1)"/>
<rect x="368.75" y="653.28" width="10.50" height="2.04" rx="1.02" fill="#000" fill-opacity="0.60" filter="url(#b1)"/>
<rect x="317.50" y="646.50" width="64.00" height="16.00" fill="none" stroke="#2a2a2a" stroke-width="0.75" />
<text x="314.50" y="637.33" font-size="7.30" text-anchor="end">TβRI</text>
<text x="314.50" y="656.93" font-size="7.30" text-anchor="end">GAPDH</text>
<line x1="381.50" y1="634.50" x2="383.70" y2="634.50" stroke="#000" stroke-width="0.60" />
<text x="384.50" y="637.38" font-size="6.90">55</text>
<line x1="381.50" y1="659.50" x2="383.70" y2="659.50" stroke="#000" stroke-width="0.60" />
<text x="384.50" y="662.18" font-size="6.90">35</text>
<line x1="329.50" y1="763.20" x2="329.50" y2="678.70" stroke="#000" stroke-width="0.70" />
<line x1="329.90" y1="763.50" x2="385.40" y2="763.50" stroke="#000" stroke-width="0.70" />
<line x1="327.30" y1="763.50" x2="329.90" y2="763.50" stroke="#000" stroke-width="0.70" />
<text x="326.30" y="765.79" font-size="7.20" text-anchor="end">0</text>
<line x1="327.30" y1="742.50" x2="329.90" y2="742.50" stroke="#000" stroke-width="0.70" />
<text x="326.30" y="744.74" font-size="7.20" text-anchor="end">0.5</text>
<line x1="327.30" y1="721.50" x2="329.90" y2="721.50" stroke="#000" stroke-width="0.70" />
<text x="326.30" y="723.69" font-size="7.20" text-anchor="end">1.0</text>
<line x1="327.30" y1="700.50" x2="329.90" y2="700.50" stroke="#000" stroke-width="0.70" />
<text x="326.30" y="702.64" font-size="7.20" text-anchor="end">1.5</text>
<line x1="327.30" y1="679.50" x2="329.90" y2="679.50" stroke="#000" stroke-width="0.70" />
<text x="326.30" y="681.59" font-size="7.20" text-anchor="end">2.0</text>
<rect x="334.30" y="721.10" width="8.80" height="42.10" fill="#9b9b9b" />
<circle cx="335.80" cy="721.10" r="1.60" fill="#fff" stroke="#000" stroke-width="0.55" />
<circle cx="338.70" cy="721.10" r="1.60" fill="#fff" stroke="#000" stroke-width="0.55" />
<circle cx="341.60" cy="721.10" r="1.60" fill="#fff" stroke="#000" stroke-width="0.55" />
<rect x="347.00" y="759.41" width="8.80" height="3.79" fill="#f28b2c" />
<circle cx="348.50" cy="758.78" r="1.60" fill="#fff" stroke="#000" stroke-width="0.55" />
<circle cx="351.40" cy="756.88" r="1.60" fill="#fff" stroke="#000" stroke-width="0.55" />
<circle cx="354.00" cy="758.15" r="1.60" fill="#fff" stroke="#000" stroke-width="0.55" />
<rect x="359.90" y="711.00" width="8.70" height="52.20" fill="#f28b2c" />
<line x1="364.50" y1="711.00" x2="364.50" y2="696.26" stroke="#000" stroke-width="0.60" />
<line x1="362.05" y1="696.50" x2="366.45" y2="696.50" stroke="#000" stroke-width="0.60" />
<circle cx="363.85" cy="699.21" r="1.60" fill="#fff" stroke="#000" stroke-width="0.55" />
<circle cx="363.85" cy="705.94" r="1.60" fill="#fff" stroke="#000" stroke-width="0.55" />
<circle cx="363.85" cy="727.42" r="1.60" fill="#fff" stroke="#000" stroke-width="0.55" />
<rect x="372.70" y="753.10" width="8.80" height="10.10" fill="#f28b2c" />
<line x1="377.50" y1="753.10" x2="377.50" y2="747.62" stroke="#000" stroke-width="0.60" />
<line x1="374.90" y1="747.50" x2="379.30" y2="747.50" stroke="#000" stroke-width="0.60" />
<circle cx="377.10" cy="747.62" r="1.60" fill="#fff" stroke="#000" stroke-width="0.55" />
<circle cx="374.50" cy="756.88" r="1.60" fill="#fff" stroke="#000" stroke-width="0.55" />
<circle cx="379.60" cy="754.78" r="1.60" fill="#fff" stroke="#000" stroke-width="0.55" />
<line x1="338.50" y1="763.20" x2="338.50" y2="765.60" stroke="#000" stroke-width="0.60" />
<line x1="351.50" y1="763.20" x2="351.50" y2="765.60" stroke="#000" stroke-width="0.60" />
<line x1="364.50" y1="763.20" x2="364.50" y2="765.60" stroke="#000" stroke-width="0.60" />
<line x1="377.50" y1="763.20" x2="377.50" y2="765.60" stroke="#000" stroke-width="0.60" />
<text x="364.60" y="680.82" font-size="5.90" text-anchor="middle"><tspan font-style="italic">P</tspan> = 0.8648</text>
<line x1="350.40" y1="683.50" x2="378.00" y2="683.50" stroke="#000" stroke-width="0.70" />
<text x="357.40" y="691.32" font-size="5.90" text-anchor="middle"><tspan font-style="italic">P</tspan> = 0.004</text>
<line x1="351.10" y1="694.50" x2="363.50" y2="694.50" stroke="#000" stroke-width="0.70" />
<text x="344.90" y="712.52" font-size="5.90" text-anchor="middle"><tspan font-style="italic">P</tspan> = 0.0016</text>
<line x1="337.70" y1="714.50" x2="350.80" y2="714.50" stroke="#000" stroke-width="0.70" />
<text x="338.70" y="771.25" font-size="6.80" text-anchor="middle">-</text>
<text x="351.40" y="771.25" font-size="6.80" text-anchor="middle">-</text>
<text x="0" y="0.00" font-size="6.20" transform="translate(351.60 784.50) rotate(-45)">MG132</text>
<text x="0" y="0.00" font-size="6.20" transform="translate(367.40 782.20) rotate(-45)">BafA1</text>
<line x1="348.20" y1="786.50" x2="384.70" y2="786.50" stroke="#000" stroke-width="0.60" />
<text x="0" y="2.63" font-size="7.30" text-anchor="middle" transform="translate(309.90 722.00) rotate(-90)">Relative TβRI abundance a.u.</text>
<text x="301.50" y="795.88" font-size="6.60">GapmeR</text>
<text x="338.20" y="795.88" font-size="6.60" text-anchor="middle">Scr</text>
<text x="366.90" y="795.88" font-size="6.60" text-anchor="middle"><tspan font-style="italic">SNAI1e</tspan></text>
<text x="432.50" y="593.40" font-size="14.00" font-weight="bold">k</text>
<text x="516.00" y="607.06" font-size="7.40" text-anchor="middle">MDA-MB-231</text>
<text x="516.00" y="617.96" font-size="7.40" text-anchor="middle">+HA-Ub</text>
<text x="522.30" y="632.90" font-size="6.40" text-anchor="middle">CRISPRa <tspan font-style="italic">SNAI1e</tspan> gRNA</text>
<line x1="509.30" y1="637.50" x2="535.30" y2="637.50" stroke="#000" stroke-width="0.60" />
<text x="499.20" y="645.55" font-size="6.80" text-anchor="middle">gEV</text>
<text x="515.60" y="645.55" font-size="6.80" text-anchor="middle">g1</text>
<text x="529.60" y="645.55" font-size="6.80" text-anchor="middle">g2</text>
<text x="546.00" y="648.68" font-size="6.60">kDa</text>
<rect x="487.00" y="649.40" width="53.00" height="57.30" fill="#e9e9e9" />
<linearGradient id="smr" x1="0" y1="0" x2="0" y2="1"><stop offset="0" stop-color="#000" stop-opacity="0.85"/><stop offset="0.3" stop-color="#000" stop-opacity="0.6"/><stop offset="0.6" stop-color="#000" stop-opacity="0.3"/><stop offset="1" stop-color="#000" stop-opacity="0.1"/></linearGradient>
<linearGradient id="smr1" x1="0" y1="0" x2="0" y2="1"><stop offset="0" stop-color="#000" stop-opacity="0.1"/><stop offset="0.45" stop-color="#000" stop-opacity="0.12"/><stop offset="1" stop-color="#000" stop-opacity="0.02"/></linearGradient>
<linearGradient id="smr2" x1="0" y1="0" x2="0" y2="1"><stop offset="0" stop-color="#000" stop-opacity="0.12"/><stop offset="0.5" stop-color="#000" stop-opacity="0.22"/><stop offset="1" stop-color="#000" stop-opacity="0.03"/></linearGradient>
<rect x="492" y="651" width="13.5" height="53" fill="url(#smr)" filter="url(#b2)"/>
<rect x="508.5" y="653" width="12.5" height="40" fill="url(#smr1)" filter="url(#b2)"/>
<rect x="522.5" y="655" width="13.5" height="38" fill="url(#smr2)" filter="url(#b2)"/>
<rect x="492.80" y="652.45" width="12.00" height="5.10" rx="2.55" fill="#000" fill-opacity="0.50" filter="url(#b1)"/>
<rect x="493.21" y="659.15" width="9.58" height="0.85" rx="0.42" fill="#000" fill-opacity="0.13" filter="url(#b1)"/>
<rect x="493.13" y="662.32" width="9.61" height="0.85" rx="0.42" fill="#000" fill-opacity="0.12" filter="url(#b1)"/>
<rect x="493.87" y="666.84" width="11.06" height="0.85" rx="0.42" fill="#000" fill-opacity="0.11" filter="url(#b1)"/>
<rect x="494.32" y="669.03" width="9.11" height="0.85" rx="0.42" fill="#000" fill-opacity="0.09" filter="url(#b1)"/>
<rect x="493.58" y="672.25" width="8.86" height="0.85" rx="0.42" fill="#000" fill-opacity="0.08" filter="url(#b1)"/>
<rect x="493.84" y="676.76" width="11.23" height="0.85" rx="0.42" fill="#000" fill-opacity="0.07" filter="url(#b1)"/>
<rect x="493.57" y="679.86" width="9.24" height="0.85" rx="0.42" fill="#000" fill-opacity="0.06" filter="url(#b1)"/>
<rect x="487" y="702.5" width="53" height="4" fill="#000" fill-opacity="0.12" filter="url(#b1)"/>
<rect x="487.50" y="649.50" width="53.00" height="57.00" fill="none" stroke="#2a2a2a" stroke-width="0.75" />
<rect x="487.00" y="710.20" width="53.00" height="18.30" fill="#efefef" />
<rect x="493.70" y="718.07" width="11.00" height="3.06" rx="1.53" fill="#000" fill-opacity="0.80" filter="url(#b1)"/>
<rect x="510.10" y="718.07" width="11.00" height="3.06" rx="1.53" fill="#000" fill-opacity="0.80" filter="url(#b1)"/>
<rect x="524.10" y="718.07" width="11.00" height="3.06" rx="1.53" fill="#000" fill-opacity="0.80" filter="url(#b1)"/>
<rect x="487.50" y="710.50" width="53.00" height="18.00" fill="none" stroke="#2a2a2a" stroke-width="0.75" />
<rect x="487.00" y="733.30" width="53.00" height="18.90" fill="#efefef" />
<rect x="493.70" y="740.99" width="11.00" height="3.23" rx="1.61" fill="#000" fill-opacity="0.45" filter="url(#b1)"/>
<rect x="510.10" y="740.99" width="11.00" height="3.23" rx="1.61" fill="#000" fill-opacity="0.45" filter="url(#b1)"/>
<rect x="524.10" y="740.99" width="11.00" height="3.23" rx="1.61" fill="#000" fill-opacity="0.45" filter="url(#b1)"/>
<rect x="487.50" y="733.50" width="53.00" height="19.00" fill="none" stroke="#2a2a2a" stroke-width="0.75" />
<rect x="487.00" y="755.00" width="53.00" height="18.20" fill="#efefef" />
<rect x="493.70" y="763.78" width="11.00" height="2.04" rx="1.02" fill="#000" fill-opacity="0.60" filter="url(#b1)"/>
<rect x="510.10" y="763.78" width="11.00" height="2.04" rx="1.02" fill="#000" fill-opacity="0.60" filter="url(#b1)"/>
<rect x="524.10" y="763.78" width="11.00" height="2.04" rx="1.02" fill="#000" fill-opacity="0.60" filter="url(#b1)"/>
<rect x="487.50" y="755.50" width="53.00" height="18.00" fill="none" stroke="#2a2a2a" stroke-width="0.75" />
<text x="483.50" y="680.18" font-size="6.90" text-anchor="end">HA-Ub</text>
<text x="483.50" y="722.18" font-size="6.90" text-anchor="end">TβRI</text>
<text x="483.50" y="745.18" font-size="6.90" text-anchor="end">TβRI</text>
<text x="483.50" y="767.88" font-size="6.90" text-anchor="end">GAPDH</text>
<text x="0" y="2.38" font-size="6.60" text-anchor="middle" transform="translate(449.30 691.40) rotate(-90)">IP: TβRI</text>
<line x1="456.50" y1="650.50" x2="456.50" y2="725.60" stroke="#000" stroke-width="0.60" />
<text x="0" y="2.38" font-size="6.60" text-anchor="middle" transform="translate(449.30 757.40) rotate(-90)">Input</text>
<line x1="456.50" y1="740.60" x2="456.50" y2="771.70" stroke="#000" stroke-width="0.60" />
<line x1="540.00" y1="666.50" x2="542.20" y2="666.50" stroke="#000" stroke-width="0.60" />
<text x="543.00" y="668.65" font-size="6.80">170</text>
<line x1="540.00" y1="677.50" x2="542.20" y2="677.50" stroke="#000" stroke-width="0.60" />
<text x="543.00" y="679.75" font-size="6.80">130</text>
<line x1="540.00" y1="687.50" x2="542.20" y2="687.50" stroke="#000" stroke-width="0.60" />
<text x="543.00" y="690.25" font-size="6.80">100</text>
<line x1="540.00" y1="701.50" x2="542.20" y2="701.50" stroke="#000" stroke-width="0.60" />
<text x="543.00" y="703.85" font-size="6.80">70</text>
<line x1="540.00" y1="719.50" x2="542.20" y2="719.50" stroke="#000" stroke-width="0.60" />
<text x="543.00" y="721.75" font-size="6.80">55</text>
<line x1="540.00" y1="742.50" x2="542.20" y2="742.50" stroke="#000" stroke-width="0.60" />
<text x="543.00" y="744.55" font-size="6.80">55</text>
<line x1="540.00" y1="766.50" x2="542.20" y2="766.50" stroke="#000" stroke-width="0.60" />
<text x="543.00" y="768.65" font-size="6.80">35</text>
<line x1="603.50" y1="737.30" x2="603.50" y2="643.89" stroke="#000" stroke-width="0.70" />
<line x1="603.40" y1="737.50" x2="649.00" y2="737.50" stroke="#000" stroke-width="0.70" />
<line x1="600.80" y1="737.50" x2="603.40" y2="737.50" stroke="#000" stroke-width="0.70" />
<text x="599.80" y="739.89" font-size="7.20" text-anchor="end">0</text>
<line x1="600.80" y1="706.50" x2="603.40" y2="706.50" stroke="#000" stroke-width="0.70" />
<text x="599.80" y="708.86" font-size="7.20" text-anchor="end">0.5</text>
<line x1="600.80" y1="675.50" x2="603.40" y2="675.50" stroke="#000" stroke-width="0.70" />
<text x="599.80" y="677.82" font-size="7.20" text-anchor="end">1.0</text>
<line x1="600.80" y1="644.50" x2="603.40" y2="644.50" stroke="#000" stroke-width="0.70" />
<text x="599.80" y="646.79" font-size="7.20" text-anchor="end">1.5</text>
<rect x="607.80" y="675.23" width="9.20" height="62.07" fill="#9b9b9b" />
<circle cx="609.70" cy="675.23" r="1.60" fill="#fff" stroke="#000" stroke-width="0.55" />
<circle cx="612.40" cy="675.23" r="1.60" fill="#fff" stroke="#000" stroke-width="0.55" />
<circle cx="615.10" cy="675.23" r="1.60" fill="#fff" stroke="#000" stroke-width="0.55" />
<rect x="621.50" y="727.37" width="9.10" height="9.93" fill="#f4a3aa" />
<circle cx="623.55" cy="726.75" r="1.60" fill="#fff" stroke="#000" stroke-width="0.55" />
<circle cx="626.05" cy="726.75" r="1.60" fill="#fff" stroke="#000" stroke-width="0.55" />
<circle cx="628.55" cy="726.75" r="1.60" fill="#fff" stroke="#000" stroke-width="0.55" />
<rect x="635.20" y="726.13" width="9.10" height="11.17" fill="#ea3440" />
<line x1="639.50" y1="726.13" x2="639.50" y2="718.68" stroke="#000" stroke-width="0.60" />
<line x1="637.55" y1="718.50" x2="641.95" y2="718.50" stroke="#000" stroke-width="0.60" />
<circle cx="639.75" cy="718.68" r="1.60" fill="#fff" stroke="#000" stroke-width="0.55" />
<circle cx="637.15" cy="729.23" r="1.60" fill="#fff" stroke="#000" stroke-width="0.55" />
<circle cx="642.35" cy="727.99" r="1.60" fill="#fff" stroke="#000" stroke-width="0.55" />
<line x1="612.50" y1="737.30" x2="612.50" y2="739.70" stroke="#000" stroke-width="0.60" />
<line x1="626.50" y1="737.30" x2="626.50" y2="739.70" stroke="#000" stroke-width="0.60" />
<line x1="639.50" y1="737.30" x2="639.50" y2="739.70" stroke="#000" stroke-width="0.60" />
<text x="626.50" y="654.92" font-size="5.90" text-anchor="middle"><tspan font-style="italic">P</tspan> &lt; 0.0001</text>
<line x1="613.00" y1="656.50" x2="640.30" y2="656.50" stroke="#000" stroke-width="0.70" />
<text x="619.50" y="665.92" font-size="5.90" text-anchor="middle"><tspan font-style="italic">P</tspan> &lt; 0.0001</text>
<line x1="613.00" y1="667.50" x2="626.00" y2="667.50" stroke="#000" stroke-width="0.70" />
<text x="0" y="2.34" font-size="6.50" text-anchor="middle" transform="translate(582.00 692.00) rotate(-90)">Relative ubiquitination abundance a.u.</text>
<text x="612.40" y="751.12" font-size="7.00" text-anchor="middle">gEV</text>
<text x="626.05" y="751.12" font-size="7.00" text-anchor="middle">g1</text>
<text x="639.75" y="751.12" font-size="7.00" text-anchor="middle">g2</text>
<line x1="623.00" y1="754.50" x2="644.30" y2="754.50" stroke="#000" stroke-width="0.60" />
<text x="632.60" y="763.45" font-size="6.80" text-anchor="middle">CRISPRa <tspan font-style="italic">SNAI1e</tspan> gRNA</text>
<text x="0.50" y="808.70" font-size="14.00" font-weight="bold">l</text>
<text x="96.00" y="812.44" font-size="7.90" text-anchor="middle">MCF10A-M2</text>
<text x="0" y="0.00" font-size="5.20" transform="translate(65.20 850.00) rotate(-45)">CRISPRa <tspan font-style="italic">SNAI1e</tspan></text>
<text x="0" y="0.00" font-size="5.20" transform="translate(81.00 845.70) rotate(-45)">gRNA</text>
<text x="0" y="0.00" font-size="5.20" transform="translate(102.50 850.00) rotate(-45)">CRISPRa <tspan font-style="italic">SNAI1e</tspan></text>
<text x="0" y="0.00" font-size="5.20" transform="translate(118.50 845.70) rotate(-45)">gRNA</text>
<line x1="64.10" y1="853.50" x2="86.00" y2="853.50" stroke="#000" stroke-width="0.60" />
<line x1="103.10" y1="853.50" x2="124.70" y2="853.50" stroke="#000" stroke-width="0.60" />
<text x="56.80" y="863.45" font-size="6.80" text-anchor="middle">gEV</text>
<text x="69.20" y="863.45" font-size="6.80" text-anchor="middle">g1</text>
<text x="81.60" y="863.45" font-size="6.80" text-anchor="middle">g2</text>
<text x="95.50" y="863.45" font-size="6.80" text-anchor="middle">gEV</text>
<text x="108.90" y="863.45" font-size="6.80" text-anchor="middle">g1</text>
<text x="121.50" y="863.45" font-size="6.80" text-anchor="middle">g2</text>
<text x="43.30" y="872.68" font-size="6.90" text-anchor="end">SB</text>
<text x="56.80" y="872.58" font-size="6.60" text-anchor="middle">-</text>
<text x="69.20" y="872.58" font-size="6.60" text-anchor="middle">-</text>
<text x="81.60" y="872.58" font-size="6.60" text-anchor="middle">-</text>
<text x="95.50" y="872.58" font-size="6.60" text-anchor="middle">+</text>
<text x="108.90" y="872.58" font-size="6.60" text-anchor="middle">+</text>
<text x="121.50" y="872.58" font-size="6.60" text-anchor="middle">+</text>
<text x="133.00" y="873.85" font-size="6.80">kDa</text>
<rect x="46.60" y="874.60" width="84.20" height="16.80" fill="#f3f3f3" />
<rect x="51.55" y="881.84" width="10.50" height="2.72" rx="1.36" fill="#000" fill-opacity="0.20" filter="url(#b1)"/>
<rect x="63.95" y="881.84" width="10.50" height="2.72" rx="1.36" fill="#000" fill-opacity="0.10" filter="url(#b1)"/>
<rect x="76.35" y="881.84" width="10.50" height="2.72" rx="1.36" fill="#000" fill-opacity="0.18" filter="url(#b1)"/>
<rect x="90.25" y="881.84" width="10.50" height="2.72" rx="1.36" fill="#000" fill-opacity="1.00" filter="url(#b1)"/>
<rect x="103.65" y="881.84" width="10.50" height="2.72" rx="1.36" fill="#000" fill-opacity="0.75" filter="url(#b1)"/>
<rect x="116.25" y="881.84" width="10.50" height="2.72" rx="1.36" fill="#000" fill-opacity="0.95" filter="url(#b1)"/>
<rect x="46.50" y="874.50" width="84.00" height="17.00" fill="none" stroke="#2a2a2a" stroke-width="0.75" />
<rect x="46.60" y="894.40" width="84.20" height="16.80" fill="#f2f2f2" />
<rect x="64.20" y="900.45" width="10.00" height="5.10" rx="2.55" fill="#000" fill-opacity="0.35" filter="url(#b1)"/>
<rect x="76.60" y="900.45" width="10.00" height="5.10" rx="2.55" fill="#000" fill-opacity="0.30" filter="url(#b1)"/>
<rect x="104.90" y="901.30" width="8.00" height="3.40" rx="1.70" fill="#000" fill-opacity="0.05" filter="url(#b1)"/>
<rect x="117.50" y="901.30" width="8.00" height="3.40" rx="1.70" fill="#000" fill-opacity="0.04" filter="url(#b1)"/>
<rect x="46.50" y="894.50" width="84.00" height="17.00" fill="none" stroke="#2a2a2a" stroke-width="0.75" />
<rect x="46.60" y="915.30" width="84.20" height="17.00" fill="#efefef" />
<rect x="51.55" y="922.84" width="10.50" height="2.72" rx="1.36" fill="#000" fill-opacity="0.75" filter="url(#b1)"/>
<rect x="63.95" y="922.84" width="10.50" height="2.72" rx="1.36" fill="#000" fill-opacity="0.95" filter="url(#b1)"/>
<rect x="76.35" y="922.84" width="10.50" height="2.72" rx="1.36" fill="#000" fill-opacity="0.98" filter="url(#b1)"/>
<rect x="90.25" y="922.84" width="10.50" height="2.72" rx="1.36" fill="#000" fill-opacity="0.18" filter="url(#b1)"/>
<rect x="103.65" y="922.84" width="10.50" height="2.72" rx="1.36" fill="#000" fill-opacity="0.20" filter="url(#b1)"/>
<rect x="116.25" y="922.84" width="10.50" height="2.72" rx="1.36" fill="#000" fill-opacity="0.15" filter="url(#b1)"/>
<rect x="46.50" y="915.50" width="84.00" height="17.00" fill="none" stroke="#2a2a2a" stroke-width="0.75" />
<rect x="46.60" y="935.70" width="84.20" height="17.60" fill="#efefef" />
<rect x="51.55" y="943.77" width="10.50" height="3.06" rx="1.53" fill="#000" fill-opacity="0.55" filter="url(#b1)"/>
<rect x="63.95" y="943.77" width="10.50" height="3.06" rx="1.53" fill="#000" fill-opacity="0.98" filter="url(#b1)"/>
<rect x="76.35" y="943.77" width="10.50" height="3.06" rx="1.53" fill="#000" fill-opacity="0.98" filter="url(#b1)"/>
<rect x="90.25" y="943.77" width="10.50" height="3.06" rx="1.53" fill="#000" fill-opacity="0.00" filter="url(#b1)"/>
<rect x="103.65" y="943.77" width="10.50" height="3.06" rx="1.53" fill="#000" fill-opacity="0.60" filter="url(#b1)"/>
<rect x="116.25" y="943.77" width="10.50" height="3.06" rx="1.53" fill="#000" fill-opacity="0.02" filter="url(#b1)"/>
<rect x="46.50" y="935.50" width="84.00" height="18.00" fill="none" stroke="#2a2a2a" stroke-width="0.75" />
<rect x="46.60" y="956.80" width="84.20" height="17.40" fill="#efefef" />
<rect x="50.05" y="964.45" width="13.50" height="2.89" rx="1.44" fill="#000" fill-opacity="0.42" filter="url(#b1)"/>
<rect x="62.45" y="964.45" width="13.50" height="2.89" rx="1.44" fill="#000" fill-opacity="0.42" filter="url(#b1)"/>
<rect x="74.85" y="964.45" width="13.50" height="2.89" rx="1.44" fill="#000" fill-opacity="0.42" filter="url(#b1)"/>
<rect x="88.75" y="964.45" width="13.50" height="2.89" rx="1.44" fill="#000" fill-opacity="0.42" filter="url(#b1)"/>
<rect x="102.15" y="964.45" width="13.50" height="2.89" rx="1.44" fill="#000" fill-opacity="0.42" filter="url(#b1)"/>
<rect x="114.75" y="964.45" width="13.50" height="2.89" rx="1.44" fill="#000" fill-opacity="0.42" filter="url(#b1)"/>
<rect x="46.50" y="956.50" width="84.00" height="18.00" fill="none" stroke="#2a2a2a" stroke-width="0.75" />
<text x="43.30" y="884.34" font-size="7.05" text-anchor="end">E-cadherin</text>
<text x="43.30" y="905.14" font-size="7.05" text-anchor="end">Fibronectin</text>
<text x="43.30" y="926.24" font-size="7.05" text-anchor="end">N-cadherin</text>
<text x="43.30" y="947.04" font-size="7.05" text-anchor="end">Vimentin</text>
<text x="43.30" y="968.14" font-size="7.05" text-anchor="end">GAPDH</text>
<line x1="130.80" y1="883.50" x2="133.00" y2="883.50" stroke="#000" stroke-width="0.60" />
<text x="133.80" y="885.60" font-size="6.40">130</text>
<line x1="130.80" y1="899.50" x2="133.00" y2="899.50" stroke="#000" stroke-width="0.60" />
<text x="133.80" y="901.80" font-size="6.40">250</text>
<line x1="130.80" y1="925.50" x2="133.00" y2="925.50" stroke="#000" stroke-width="0.60" />
<text x="133.80" y="928.10" font-size="6.40">130</text>
<line x1="130.80" y1="945.50" x2="133.00" y2="945.50" stroke="#000" stroke-width="0.60" />
<text x="133.80" y="947.30" font-size="6.40">55</text>
<line x1="130.80" y1="968.50" x2="133.00" y2="968.50" stroke="#000" stroke-width="0.60" />
<text x="133.80" y="970.90" font-size="6.40">35</text>
<text x="169.30" y="808.70" font-size="14.00" font-weight="bold">m</text>
<text x="202.30" y="815.35" font-size="8.20">Transwell</text>
<text x="287.00" y="816.42" font-size="8.40" text-anchor="middle">MDA-MB-231</text>
<line x1="213.50" y1="953.50" x2="213.50" y2="821.30" stroke="#000" stroke-width="0.70" />
<line x1="213.30" y1="953.50" x2="360.70" y2="953.50" stroke="#000" stroke-width="0.70" />
<line x1="210.50" y1="953.50" x2="213.30" y2="953.50" stroke="#000" stroke-width="0.70" />
<text x="209.40" y="956.31" font-size="7.80" text-anchor="end">0</text>
<line x1="210.50" y1="927.50" x2="213.30" y2="927.50" stroke="#000" stroke-width="0.70" />
<text x="209.40" y="929.93" font-size="7.80" text-anchor="end">0.5</text>
<line x1="210.50" y1="900.50" x2="213.30" y2="900.50" stroke="#000" stroke-width="0.70" />
<text x="209.40" y="903.55" font-size="7.80" text-anchor="end">1.0</text>
<line x1="210.50" y1="874.50" x2="213.30" y2="874.50" stroke="#000" stroke-width="0.70" />
<text x="209.40" y="877.17" font-size="7.80" text-anchor="end">1.5</text>
<line x1="210.50" y1="847.50" x2="213.30" y2="847.50" stroke="#000" stroke-width="0.70" />
<text x="209.40" y="850.79" font-size="7.80" text-anchor="end">2.0</text>
<line x1="210.50" y1="821.50" x2="213.30" y2="821.50" stroke="#000" stroke-width="0.70" />
<text x="209.40" y="824.41" font-size="7.80" text-anchor="end">2.5</text>
<line x1="225.50" y1="953.50" x2="225.50" y2="956.30" stroke="#000" stroke-width="0.70" />
<text x="225.22" y="965.14" font-size="7.60" text-anchor="middle">6</text>
<line x1="238.50" y1="953.50" x2="238.50" y2="956.30" stroke="#000" stroke-width="0.70" />
<text x="238.58" y="965.14" font-size="7.60" text-anchor="middle">14</text>
<line x1="251.50" y1="953.50" x2="251.50" y2="956.30" stroke="#000" stroke-width="0.70" />
<text x="251.94" y="965.14" font-size="7.60" text-anchor="middle">22</text>
<line x1="265.50" y1="953.50" x2="265.50" y2="956.30" stroke="#000" stroke-width="0.70" />
<text x="265.30" y="965.14" font-size="7.60" text-anchor="middle">30</text>
<line x1="278.50" y1="953.50" x2="278.50" y2="956.30" stroke="#000" stroke-width="0.70" />
<text x="278.66" y="965.14" font-size="7.60" text-anchor="middle">38</text>
<line x1="292.50" y1="953.50" x2="292.50" y2="956.30" stroke="#000" stroke-width="0.70" />
<text x="292.02" y="965.14" font-size="7.60" text-anchor="middle">46</text>
<line x1="305.50" y1="953.50" x2="305.50" y2="956.30" stroke="#000" stroke-width="0.70" />
<text x="305.38" y="965.14" font-size="7.60" text-anchor="middle">54</text>
<line x1="318.50" y1="953.50" x2="318.50" y2="956.30" stroke="#000" stroke-width="0.70" />
<text x="318.74" y="965.14" font-size="7.60" text-anchor="middle">62</text>
<line x1="332.50" y1="953.50" x2="332.50" y2="956.30" stroke="#000" stroke-width="0.70" />
<text x="332.10" y="965.14" font-size="7.60" text-anchor="middle">70</text>
<line x1="345.50" y1="953.50" x2="345.50" y2="956.30" stroke="#000" stroke-width="0.70" />
<text x="345.46" y="965.14" font-size="7.60" text-anchor="middle">78</text>
<line x1="358.50" y1="953.50" x2="358.50" y2="956.30" stroke="#000" stroke-width="0.70" />
<text x="358.82" y="965.14" font-size="7.60" text-anchor="middle">86</text>
<text x="287.70" y="973.76" font-size="8.50" text-anchor="middle">Time (h)</text>
<text x="0" y="2.95" font-size="8.20" text-anchor="middle" transform="translate(179.60 887.90) rotate(-90)">Object count (bottom)</text>
<text x="0" y="2.95" font-size="8.20" text-anchor="middle" transform="translate(190.50 887.40) rotate(-90)">normalized to initial top value</text>
<polyline points="215.20,952.44 218.54,952.44 221.88,952.44 225.22,952.44 228.56,952.44 231.90,952.44 235.24,952.44 238.58,952.44 241.92,952.31 245.26,952.18 248.60,952.05 251.94,951.91 255.28,951.36 258.62,950.82 261.96,950.25 265.30,949.75 268.64,948.90 271.98,948.37 275.32,947.45 278.66,946.46 282.00,945.38 285.34,944.04 288.68,943.32 292.02,941.91 295.36,940.77 298.70,939.22 302.04,937.87 305.38,937.11 308.72,935.74 312.06,934.50 315.40,932.54 318.74,931.52 322.08,931.15 325.42,929.07 328.76,928.85 332.10,926.93 335.44,926.16 338.78,924.84 342.12,921.68 345.46,921.36 348.80,919.53 352.14,916.04 355.48,914.39 358.82,913.91" fill="none" stroke="#3a55d0" stroke-width="0.80" stroke-linejoin="round" />
<path d="M215.2 951.5V953.3M214.1 951.5h2.2M214.1 953.3h2.2M218.5 951.5V953.3M217.4 951.5h2.2M217.4 953.3h2.2M221.9 951.5V953.3M220.8 951.5h2.2M220.8 953.3h2.2M225.2 951.5V953.3M224.1 951.5h2.2M224.1 953.3h2.2M228.6 951.5V953.3M227.5 951.5h2.2M227.5 953.3h2.2M231.9 951.5V953.3M230.8 951.5h2.2M230.8 953.3h2.2M235.2 951.5V953.3M234.1 951.5h2.2M234.1 953.3h2.2M238.6 951.5V953.3M237.5 951.5h2.2M237.5 953.3h2.2M241.9 951.4V953.2M240.8 951.4h2.2M240.8 953.2h2.2M245.3 951.3V953.1M244.2 951.3h2.2M244.2 953.1h2.2M248.6 951.1V952.9M247.5 951.1h2.2M247.5 952.9h2.2M251.9 951.0V952.8M250.8 951.0h2.2M250.8 952.8h2.2M255.3 950.5V952.3M254.2 950.5h2.2M254.2 952.3h2.2M258.6 949.9V951.7M257.5 949.9h2.2M257.5 951.7h2.2M262.0 949.4V951.2M260.9 949.4h2.2M260.9 951.2h2.2M265.3 948.9V950.7M264.2 948.9h2.2M264.2 950.7h2.2M268.6 948.0V949.8M267.5 948.0h2.2M267.5 949.8h2.2M272.0 947.5V949.3M270.9 947.5h2.2M270.9 949.3h2.2M275.3 946.5V948.3M274.2 946.5h2.2M274.2 948.3h2.2M278.7 945.6V947.4M277.6 945.6h2.2M277.6 947.4h2.2M282.0 944.5V946.3M280.9 944.5h2.2M280.9 946.3h2.2M285.3 943.1V944.9M284.2 943.1h2.2M284.2 944.9h2.2M288.7 942.4V944.2M287.6 942.4h2.2M287.6 944.2h2.2M292.0 941.0V942.8M290.9 941.0h2.2M290.9 942.8h2.2M295.4 939.9V941.7M294.3 939.9h2.2M294.3 941.7h2.2M298.7 938.3V940.1M297.6 938.3h2.2M297.6 940.1h2.2M302.0 937.0V938.8M300.9 937.0h2.2M300.9 938.8h2.2M305.4 936.2V938.0M304.3 936.2h2.2M304.3 938.0h2.2M308.7 934.8V936.6M307.6 934.8h2.2M307.6 936.6h2.2M312.1 933.5V935.4M311.0 933.5h2.2M311.0 935.4h2.2M315.4 931.5V933.6M314.3 931.5h2.2M314.3 933.6h2.2M318.7 930.4V932.6M317.6 930.4h2.2M317.6 932.6h2.2M322.1 930.0V932.3M321.0 930.0h2.2M321.0 932.3h2.2M325.4 927.8V930.3M324.3 927.8h2.2M324.3 930.3h2.2M328.8 927.6V930.1M327.7 927.6h2.2M327.7 930.1h2.2M332.1 925.6V928.3M331.0 925.6h2.2M331.0 928.3h2.2M335.4 924.8V927.5M334.3 924.8h2.2M334.3 927.5h2.2M338.8 923.4V926.3M337.7 923.4h2.2M337.7 926.3h2.2M342.1 920.1V923.3M341.0 920.1h2.2M341.0 923.3h2.2M345.5 919.8V923.0M344.4 919.8h2.2M344.4 923.0h2.2M348.8 917.8V921.2M347.7 917.8h2.2M347.7 921.2h2.2M352.1 914.2V917.9M351.0 914.2h2.2M351.0 917.9h2.2M355.5 912.4V916.3M354.4 912.4h2.2M354.4 916.3h2.2M358.8 911.9V915.9M357.7 911.9h2.2M357.7 915.9h2.2" stroke="#3a55d0" stroke-width="0.5" fill="none"/>
<path d="M215.2 952.4h0M218.5 952.4h0M221.9 952.4h0M225.2 952.4h0M228.6 952.4h0M231.9 952.4h0M235.2 952.4h0M238.6 952.4h0M241.9 952.3h0M245.3 952.2h0M248.6 952.0h0M251.9 951.9h0M255.3 951.4h0M258.6 950.8h0M262.0 950.3h0M265.3 949.8h0M268.6 948.9h0M272.0 948.4h0M275.3 947.4h0M278.7 946.5h0M282.0 945.4h0M285.3 944.0h0M288.7 943.3h0M292.0 941.9h0M295.4 940.8h0M298.7 939.2h0M302.0 937.9h0M305.4 937.1h0M308.7 935.7h0M312.1 934.5h0M315.4 932.5h0M318.7 931.5h0M322.1 931.1h0M325.4 929.1h0M328.8 928.9h0M332.1 926.9h0M335.4 926.2h0M338.8 924.8h0M342.1 921.7h0M345.5 921.4h0M348.8 919.5h0M352.1 916.0h0M355.5 914.4h0M358.8 913.9h0" stroke="#3a55d0" stroke-width="2.20" stroke-linecap="round" stroke-opacity="1.00" fill="none"/>
<polyline points="215.20,952.44 218.54,952.44 221.88,952.44 225.22,952.44 228.56,952.44 231.90,952.44 235.24,952.44 238.58,952.44 241.92,952.25 245.26,952.05 248.60,951.85 251.94,951.60 255.28,951.05 258.62,950.43 261.96,949.94 265.30,949.17 268.64,948.30 271.98,947.26 275.32,946.34 278.66,945.68 282.00,944.34 285.34,943.16 288.68,941.88 292.02,940.65 295.36,939.03 298.70,937.31 302.04,936.48 305.38,934.30 308.72,933.38 312.06,932.12 315.40,930.11 318.74,929.26 322.08,928.06 325.42,926.36 328.76,924.53 332.10,924.23 335.44,920.81 338.78,920.96 342.12,917.75 345.46,915.80 348.80,915.84 352.14,912.17 355.48,911.37 358.82,908.97" fill="none" stroke="#4cc04c" stroke-width="0.80" stroke-linejoin="round" />
<path d="M215.2 951.5V953.3M214.1 951.5h2.2M214.1 953.3h2.2M218.5 951.5V953.3M217.4 951.5h2.2M217.4 953.3h2.2M221.9 951.5V953.3M220.8 951.5h2.2M220.8 953.3h2.2M225.2 951.5V953.3M224.1 951.5h2.2M224.1 953.3h2.2M228.6 951.5V953.3M227.5 951.5h2.2M227.5 953.3h2.2M231.9 951.5V953.3M230.8 951.5h2.2M230.8 953.3h2.2M235.2 951.5V953.3M234.1 951.5h2.2M234.1 953.3h2.2M238.6 951.5V953.3M237.5 951.5h2.2M237.5 953.3h2.2M241.9 951.3V953.1M240.8 951.3h2.2M240.8 953.1h2.2M245.3 951.1V952.9M244.2 951.1h2.2M244.2 952.9h2.2M248.6 951.0V952.8M247.5 951.0h2.2M247.5 952.8h2.2M251.9 950.7V952.5M250.8 950.7h2.2M250.8 952.5h2.2M255.3 950.2V952.0M254.2 950.2h2.2M254.2 952.0h2.2M258.6 949.5V951.3M257.5 949.5h2.2M257.5 951.3h2.2M262.0 949.0V950.8M260.9 949.0h2.2M260.9 950.8h2.2M265.3 948.3V950.1M264.2 948.3h2.2M264.2 950.1h2.2M268.6 947.4V949.2M267.5 947.4h2.2M267.5 949.2h2.2M272.0 946.4V948.2M270.9 946.4h2.2M270.9 948.2h2.2M275.3 945.4V947.2M274.2 945.4h2.2M274.2 947.2h2.2M278.7 944.8V946.6M277.6 944.8h2.2M277.6 946.6h2.2M282.0 943.4V945.2M280.9 943.4h2.2M280.9 945.2h2.2M285.3 942.3V944.1M284.2 942.3h2.2M284.2 944.1h2.2M288.7 941.0V942.8M287.6 941.0h2.2M287.6 942.8h2.2M292.0 939.8V941.6M290.9 939.8h2.2M290.9 941.6h2.2M295.4 938.1V939.9M294.3 938.1h2.2M294.3 939.9h2.2M298.7 936.4V938.2M297.6 936.4h2.2M297.6 938.2h2.2M302.0 935.6V937.4M300.9 935.6h2.2M300.9 937.4h2.2M305.4 933.3V935.3M304.3 933.3h2.2M304.3 935.3h2.2M308.7 932.4V934.4M307.6 932.4h2.2M307.6 934.4h2.2M312.1 931.0V933.2M311.0 931.0h2.2M311.0 933.2h2.2M315.4 928.9V931.3M314.3 928.9h2.2M314.3 931.3h2.2M318.7 928.0V930.5M317.6 928.0h2.2M317.6 930.5h2.2M322.1 926.8V929.3M321.0 926.8h2.2M321.0 929.3h2.2M325.4 925.0V927.7M324.3 925.0h2.2M324.3 927.7h2.2M328.8 923.1V926.0M327.7 923.1h2.2M327.7 926.0h2.2M332.1 922.8V925.7M331.0 922.8h2.2M331.0 925.7h2.2M335.4 919.2V922.4M334.3 919.2h2.2M334.3 922.4h2.2M338.8 919.3V922.6M337.7 919.3h2.2M337.7 922.6h2.2M342.1 916.0V919.5M341.0 916.0h2.2M341.0 919.5h2.2M345.5 913.9V917.7M344.4 913.9h2.2M344.4 917.7h2.2M348.8 914.0V917.7M347.7 914.0h2.2M347.7 917.7h2.2M352.1 910.1V914.2M351.0 910.1h2.2M351.0 914.2h2.2M355.5 909.3V913.5M354.4 909.3h2.2M354.4 913.5h2.2M358.8 906.7V911.2M357.7 906.7h2.2M357.7 911.2h2.2" stroke="#4cc04c" stroke-width="0.5" fill="none"/>
<path d="M215.2 952.4h0M218.5 952.4h0M221.9 952.4h0M225.2 952.4h0M228.6 952.4h0M231.9 952.4h0M235.2 952.4h0M238.6 952.4h0M241.9 952.2h0M245.3 952.0h0M248.6 951.9h0M251.9 951.6h0M255.3 951.1h0M258.6 950.4h0M262.0 949.9h0M265.3 949.2h0M268.6 948.3h0M272.0 947.3h0M275.3 946.3h0M278.7 945.7h0M282.0 944.3h0M285.3 943.2h0M288.7 941.9h0M292.0 940.7h0M295.4 939.0h0M298.7 937.3h0M302.0 936.5h0M305.4 934.3h0M308.7 933.4h0M312.1 932.1h0M315.4 930.1h0M318.7 929.3h0M322.1 928.1h0M325.4 926.4h0M328.8 924.5h0M332.1 924.2h0M335.4 920.8h0M338.8 921.0h0M342.1 917.8h0M345.5 915.8h0M348.8 915.8h0M352.1 912.2h0M355.5 911.4h0M358.8 909.0h0" stroke="#4cc04c" stroke-width="2.20" stroke-linecap="round" stroke-opacity="1.00" fill="none"/>
<polyline points="215.20,952.44 218.54,952.44 221.88,952.44 225.22,952.44 228.56,952.44 231.90,952.44 235.24,952.44 238.58,952.44 241.92,952.18 245.26,951.92 248.60,951.65 251.94,951.45 255.28,950.81 258.62,950.14 261.96,949.30 265.30,948.84 268.64,947.61 271.98,946.46 275.32,945.38 278.66,944.61 282.00,943.17 285.34,941.61 288.68,939.96 292.02,939.07 295.36,936.63 298.70,934.70 302.04,932.75 305.38,931.96 308.72,928.99 312.06,928.54 315.40,926.46 318.74,924.29 322.08,922.00 325.42,921.36 328.76,918.47 332.10,917.53 335.44,915.81 338.78,913.58 342.12,911.72 345.46,909.79 348.80,907.66 352.14,904.14 355.48,901.21 358.82,901.81" fill="none" stroke="#7a3ed0" stroke-width="0.80" stroke-linejoin="round" />
<path d="M215.2 951.5V953.3M214.1 951.5h2.2M214.1 953.3h2.2M218.5 951.5V953.3M217.4 951.5h2.2M217.4 953.3h2.2M221.9 951.5V953.3M220.8 951.5h2.2M220.8 953.3h2.2M225.2 951.5V953.3M224.1 951.5h2.2M224.1 953.3h2.2M228.6 951.5V953.3M227.5 951.5h2.2M227.5 953.3h2.2M231.9 951.5V953.3M230.8 951.5h2.2M230.8 953.3h2.2M235.2 951.5V953.3M234.1 951.5h2.2M234.1 953.3h2.2M238.6 951.5V953.3M237.5 951.5h2.2M237.5 953.3h2.2M241.9 951.3V953.1M240.8 951.3h2.2M240.8 953.1h2.2M245.3 951.0V952.8M244.2 951.0h2.2M244.2 952.8h2.2M248.6 950.8V952.6M247.5 950.8h2.2M247.5 952.6h2.2M251.9 950.6V952.4M250.8 950.6h2.2M250.8 952.4h2.2M255.3 949.9V951.7M254.2 949.9h2.2M254.2 951.7h2.2M258.6 949.2V951.0M257.5 949.2h2.2M257.5 951.0h2.2M262.0 948.4V950.2M260.9 948.4h2.2M260.9 950.2h2.2M265.3 947.9V949.7M264.2 947.9h2.2M264.2 949.7h2.2M268.6 946.7V948.5M267.5 946.7h2.2M267.5 948.5h2.2M272.0 945.6V947.4M270.9 945.6h2.2M270.9 947.4h2.2M275.3 944.5V946.3M274.2 944.5h2.2M274.2 946.3h2.2M278.7 943.7V945.5M277.6 943.7h2.2M277.6 945.5h2.2M282.0 942.3V944.1M280.9 942.3h2.2M280.9 944.1h2.2M285.3 940.7V942.5M284.2 940.7h2.2M284.2 942.5h2.2M288.7 939.1V940.9M287.6 939.1h2.2M287.6 940.9h2.2M292.0 938.2V940.0M290.9 938.2h2.2M290.9 940.0h2.2M295.4 935.7V937.5M294.3 935.7h2.2M294.3 937.5h2.2M298.7 933.8V935.6M297.6 933.8h2.2M297.6 935.6h2.2M302.0 931.7V933.8M300.9 931.7h2.2M300.9 933.8h2.2M305.4 930.9V933.0M304.3 930.9h2.2M304.3 933.0h2.2M308.7 927.8V930.2M307.6 927.8h2.2M307.6 930.2h2.2M312.1 927.3V929.8M311.0 927.3h2.2M311.0 929.8h2.2M315.4 925.1V927.8M314.3 925.1h2.2M314.3 927.8h2.2M318.7 922.8V925.7M317.6 922.8h2.2M317.6 925.7h2.2M322.1 920.4V923.6M321.0 920.4h2.2M321.0 923.6h2.2M325.4 919.8V923.0M324.3 919.8h2.2M324.3 923.0h2.2M328.8 916.7V920.2M327.7 916.7h2.2M327.7 920.2h2.2M332.1 915.7V919.3M331.0 915.7h2.2M331.0 919.3h2.2M335.4 913.9V917.7M334.3 913.9h2.2M334.3 917.7h2.2M338.8 911.6V915.6M337.7 911.6h2.2M337.7 915.6h2.2M342.1 909.6V913.8M341.0 909.6h2.2M341.0 913.8h2.2M345.5 907.6V912.0M344.4 907.6h2.2M344.4 912.0h2.2M348.8 905.4V910.0M347.7 905.4h2.2M347.7 910.0h2.2M352.1 901.7V906.6M351.0 901.7h2.2M351.0 906.6h2.2M355.5 898.6V903.8M354.4 898.6h2.2M354.4 903.8h2.2M358.8 899.2V904.4M357.7 899.2h2.2M357.7 904.4h2.2" stroke="#7a3ed0" stroke-width="0.5" fill="none"/>
<path d="M215.2 952.4h0M218.5 952.4h0M221.9 952.4h0M225.2 952.4h0M228.6 952.4h0M231.9 952.4h0M235.2 952.4h0M238.6 952.4h0M241.9 952.2h0M245.3 951.9h0M248.6 951.7h0M251.9 951.5h0M255.3 950.8h0M258.6 950.1h0M262.0 949.3h0M265.3 948.8h0M268.6 947.6h0M272.0 946.5h0M275.3 945.4h0M278.7 944.6h0M282.0 943.2h0M285.3 941.6h0M288.7 940.0h0M292.0 939.1h0M295.4 936.6h0M298.7 934.7h0M302.0 932.7h0M305.4 932.0h0M308.7 929.0h0M312.1 928.5h0M315.4 926.5h0M318.7 924.3h0M322.1 922.0h0M325.4 921.4h0M328.8 918.5h0M332.1 917.5h0M335.4 915.8h0M338.8 913.6h0M342.1 911.7h0M345.5 909.8h0M348.8 907.7h0M352.1 904.1h0M355.5 901.2h0M358.8 901.8h0" stroke="#7a3ed0" stroke-width="2.20" stroke-linecap="round" stroke-opacity="1.00" fill="none"/>
<polyline points="215.20,952.44 218.54,952.44 221.88,952.44 225.22,952.44 228.56,952.44 231.90,952.44 235.24,952.44 238.58,952.44 241.92,952.18 245.26,951.92 248.60,951.65 251.94,951.45 255.28,950.65 258.62,950.06 261.96,949.43 265.30,948.83 268.64,947.66 271.98,946.51 275.32,945.61 278.66,944.57 282.00,943.36 285.34,941.33 288.68,940.55 292.02,938.73 295.36,936.68 298.70,935.70 302.04,933.31 305.38,931.28 308.72,930.24 312.06,928.54 315.40,928.13 318.74,926.17 322.08,924.96 325.42,922.00 328.76,921.32 332.10,919.30 335.44,916.14 338.78,914.44 342.12,912.12 345.46,911.41 348.80,909.48 352.14,906.97 355.48,905.81 358.82,904.53" fill="none" stroke="#000" stroke-width="0.80" stroke-linejoin="round" />
<path d="M215.2 951.5V953.3M214.1 951.5h2.2M214.1 953.3h2.2M218.5 951.5V953.3M217.4 951.5h2.2M217.4 953.3h2.2M221.9 951.5V953.3M220.8 951.5h2.2M220.8 953.3h2.2M225.2 951.5V953.3M224.1 951.5h2.2M224.1 953.3h2.2M228.6 951.5V953.3M227.5 951.5h2.2M227.5 953.3h2.2M231.9 951.5V953.3M230.8 951.5h2.2M230.8 953.3h2.2M235.2 951.5V953.3M234.1 951.5h2.2M234.1 953.3h2.2M238.6 951.5V953.3M237.5 951.5h2.2M237.5 953.3h2.2M241.9 951.3V953.1M240.8 951.3h2.2M240.8 953.1h2.2M245.3 951.0V952.8M244.2 951.0h2.2M244.2 952.8h2.2M248.6 950.8V952.6M247.5 950.8h2.2M247.5 952.6h2.2M251.9 950.5V952.3M250.8 950.5h2.2M250.8 952.3h2.2M255.3 949.7V951.5M254.2 949.7h2.2M254.2 951.5h2.2M258.6 949.2V951.0M257.5 949.2h2.2M257.5 951.0h2.2M262.0 948.5V950.3M260.9 948.5h2.2M260.9 950.3h2.2M265.3 947.9V949.7M264.2 947.9h2.2M264.2 949.7h2.2M268.6 946.8V948.6M267.5 946.8h2.2M267.5 948.6h2.2M272.0 945.6V947.4M270.9 945.6h2.2M270.9 947.4h2.2M275.3 944.7V946.5M274.2 944.7h2.2M274.2 946.5h2.2M278.7 943.7V945.5M277.6 943.7h2.2M277.6 945.5h2.2M282.0 942.5V944.3M280.9 942.5h2.2M280.9 944.3h2.2M285.3 940.4V942.2M284.2 940.4h2.2M284.2 942.2h2.2M288.7 939.7V941.5M287.6 939.7h2.2M287.6 941.5h2.2M292.0 937.8V939.6M290.9 937.8h2.2M290.9 939.6h2.2M295.4 935.8V937.6M294.3 935.8h2.2M294.3 937.6h2.2M298.7 934.8V936.6M297.6 934.8h2.2M297.6 936.6h2.2M302.0 932.3V934.3M300.9 932.3h2.2M300.9 934.3h2.2M305.4 930.2V932.4M304.3 930.2h2.2M304.3 932.4h2.2M308.7 929.1V931.4M307.6 929.1h2.2M307.6 931.4h2.2M312.1 927.3V929.8M311.0 927.3h2.2M311.0 929.8h2.2M315.4 926.9V929.4M314.3 926.9h2.2M314.3 929.4h2.2M318.7 924.8V927.5M317.6 924.8h2.2M317.6 927.5h2.2M322.1 923.5V926.4M321.0 923.5h2.2M321.0 926.4h2.2M325.4 920.4V923.6M324.3 920.4h2.2M324.3 923.6h2.2M328.8 919.7V922.9M327.7 919.7h2.2M327.7 922.9h2.2M332.1 917.6V921.0M331.0 917.6h2.2M331.0 921.0h2.2M335.4 914.3V918.0M334.3 914.3h2.2M334.3 918.0h2.2M338.8 912.5V916.4M337.7 912.5h2.2M337.7 916.4h2.2M342.1 910.1V914.2M341.0 910.1h2.2M341.0 914.2h2.2M345.5 909.3V913.5M344.4 909.3h2.2M344.4 913.5h2.2M348.8 907.3V911.7M347.7 907.3h2.2M347.7 911.7h2.2M352.1 904.6V909.3M351.0 904.6h2.2M351.0 909.3h2.2M355.5 903.4V908.2M354.4 903.4h2.2M354.4 908.2h2.2M358.8 902.1V907.0M357.7 902.1h2.2M357.7 907.0h2.2" stroke="#000" stroke-width="0.5" fill="none"/>
<path d="M215.2 952.4h0M218.5 952.4h0M221.9 952.4h0M225.2 952.4h0M228.6 952.4h0M231.9 952.4h0M235.2 952.4h0M238.6 952.4h0M241.9 952.2h0M245.3 951.9h0M248.6 951.7h0M251.9 951.4h0M255.3 950.6h0M258.6 950.1h0M262.0 949.4h0M265.3 948.8h0M268.6 947.7h0M272.0 946.5h0M275.3 945.6h0M278.7 944.6h0M282.0 943.4h0M285.3 941.3h0M288.7 940.6h0M292.0 938.7h0M295.4 936.7h0M298.7 935.7h0M302.0 933.3h0M305.4 931.3h0M308.7 930.2h0M312.1 928.5h0M315.4 928.1h0M318.7 926.2h0M322.1 925.0h0M325.4 922.0h0M328.8 921.3h0M332.1 919.3h0M335.4 916.1h0M338.8 914.4h0M342.1 912.1h0M345.5 911.4h0M348.8 909.5h0M352.1 907.0h0M355.5 905.8h0M358.8 904.5h0" stroke="#000" stroke-width="2.20" stroke-linecap="round" stroke-opacity="1.00" fill="none"/>
<polyline points="215.20,952.44 218.54,952.37 221.88,952.29 225.22,952.22 228.56,952.14 231.90,952.07 235.24,951.99 238.58,951.92 241.92,951.52 245.26,951.13 248.60,950.73 251.94,950.35 255.28,949.63 258.62,948.79 261.96,947.80 265.30,946.99 268.64,945.79 271.98,944.53 275.32,943.31 278.66,942.18 282.00,940.23 285.34,937.94 288.68,935.98 292.02,934.66 295.36,932.03 298.70,929.90 302.04,927.88 305.38,925.79 308.72,923.23 312.06,921.58 315.40,918.52 318.74,917.05 322.08,913.83 325.42,910.34 328.76,907.74 332.10,906.08 335.44,900.68 338.78,898.14 342.12,894.92 345.46,893.58 348.80,887.63 352.14,884.90 355.48,879.14 358.82,876.12" fill="none" stroke="#f08c96" stroke-width="0.80" stroke-linejoin="round" />
<path d="M215.2 951.5V953.3M214.1 951.5h2.2M214.1 953.3h2.2M218.5 951.5V953.3M217.4 951.5h2.2M217.4 953.3h2.2M221.9 951.4V953.2M220.8 951.4h2.2M220.8 953.2h2.2M225.2 951.3V953.1M224.1 951.3h2.2M224.1 953.1h2.2M228.6 951.2V953.0M227.5 951.2h2.2M227.5 953.0h2.2M231.9 951.2V953.0M230.8 951.2h2.2M230.8 953.0h2.2M235.2 951.1V952.9M234.1 951.1h2.2M234.1 952.9h2.2M238.6 951.0V952.8M237.5 951.0h2.2M237.5 952.8h2.2M241.9 950.6V952.4M240.8 950.6h2.2M240.8 952.4h2.2M245.3 950.2V952.0M244.2 950.2h2.2M244.2 952.0h2.2M248.6 949.8V951.6M247.5 949.8h2.2M247.5 951.6h2.2M251.9 949.5V951.3M250.8 949.5h2.2M250.8 951.3h2.2M255.3 948.7V950.5M254.2 948.7h2.2M254.2 950.5h2.2M258.6 947.9V949.7M257.5 947.9h2.2M257.5 949.7h2.2M262.0 946.9V948.7M260.9 946.9h2.2M260.9 948.7h2.2M265.3 946.1V947.9M264.2 946.1h2.2M264.2 947.9h2.2M268.6 944.9V946.7M267.5 944.9h2.2M267.5 946.7h2.2M272.0 943.6V945.4M270.9 943.6h2.2M270.9 945.4h2.2M275.3 942.4V944.2M274.2 942.4h2.2M274.2 944.2h2.2M278.7 941.3V943.1M277.6 941.3h2.2M277.6 943.1h2.2M282.0 939.3V941.1M280.9 939.3h2.2M280.9 941.1h2.2M285.3 937.0V938.8M284.2 937.0h2.2M284.2 938.8h2.2M288.7 935.1V936.9M287.6 935.1h2.2M287.6 936.9h2.2M292.0 933.7V935.6M290.9 933.7h2.2M290.9 935.6h2.2M295.4 931.0V933.1M294.3 931.0h2.2M294.3 933.1h2.2M298.7 928.7V931.1M297.6 928.7h2.2M297.6 931.1h2.2M302.0 926.6V929.2M300.9 926.6h2.2M300.9 929.2h2.2M305.4 924.4V927.2M304.3 924.4h2.2M304.3 927.2h2.2M308.7 921.7V924.7M307.6 921.7h2.2M307.6 924.7h2.2M312.1 920.0V923.2M311.0 920.0h2.2M311.0 923.2h2.2M315.4 916.8V920.3M314.3 916.8h2.2M314.3 920.3h2.2M318.7 915.2V918.9M317.6 915.2h2.2M317.6 918.9h2.2M322.1 911.8V915.8M321.0 911.8h2.2M321.0 915.8h2.2M325.4 908.2V912.5M324.3 908.2h2.2M324.3 912.5h2.2M328.8 905.5V910.0M327.7 905.5h2.2M327.7 910.0h2.2M332.1 903.7V908.5M331.0 903.7h2.2M331.0 908.5h2.2M335.4 898.0V903.3M334.3 898.0h2.2M334.3 903.3h2.2M338.8 895.4V900.9M337.7 895.4h2.2M337.7 900.9h2.2M342.1 892.0V897.8M341.0 892.0h2.2M341.0 897.8h2.2M345.5 890.6V896.6M344.4 890.6h2.2M344.4 896.6h2.2M348.8 884.3V890.9M347.7 884.3h2.2M347.7 890.9h2.2M352.1 881.5V888.3M351.0 881.5h2.2M351.0 888.3h2.2M355.5 875.4V882.9M354.4 875.4h2.2M354.4 882.9h2.2M358.8 872.2V880.0M357.7 872.2h2.2M357.7 880.0h2.2" stroke="#f08c96" stroke-width="0.5" fill="none"/>
<path d="M215.2 952.4h0M218.5 952.4h0M221.9 952.3h0M225.2 952.2h0M228.6 952.1h0M231.9 952.1h0M235.2 952.0h0M238.6 951.9h0M241.9 951.5h0M245.3 951.1h0M248.6 950.7h0M251.9 950.4h0M255.3 949.6h0M258.6 948.8h0M262.0 947.8h0M265.3 947.0h0M268.6 945.8h0M272.0 944.5h0M275.3 943.3h0M278.7 942.2h0M282.0 940.2h0M285.3 937.9h0M288.7 936.0h0M292.0 934.7h0M295.4 932.0h0M298.7 929.9h0M302.0 927.9h0M305.4 925.8h0M308.7 923.2h0M312.1 921.6h0M315.4 918.5h0M318.7 917.1h0M322.1 913.8h0M325.4 910.3h0M328.8 907.7h0M332.1 906.1h0M335.4 900.7h0M338.8 898.1h0M342.1 894.9h0M345.5 893.6h0M348.8 887.6h0M352.1 884.9h0M355.5 879.1h0M358.8 876.1h0" stroke="#f08c96" stroke-width="2.20" stroke-linecap="round" stroke-opacity="1.00" fill="none"/>
<polyline points="215.20,952.44 218.54,952.37 221.88,952.29 225.22,952.22 228.56,952.14 231.90,952.07 235.24,951.99 238.58,951.92 241.92,951.52 245.26,951.13 248.60,950.73 251.94,950.27 255.28,949.24 258.62,948.13 261.96,947.23 265.30,946.05 268.64,944.00 271.98,941.93 275.32,940.30 278.66,937.88 282.00,935.70 285.34,933.76 288.68,931.25 292.02,929.11 295.36,927.09 298.70,924.43 302.04,922.48 305.38,918.51 308.72,914.92 312.06,912.67 315.40,908.81 318.74,905.39 322.08,901.62 325.42,899.71 328.76,893.95 332.10,890.94 335.44,886.10 338.78,882.61 342.12,877.23 345.46,871.98 348.80,867.46 352.14,861.82 355.48,860.58 358.82,854.78" fill="none" stroke="#e8323c" stroke-width="0.80" stroke-linejoin="round" />
<path d="M215.2 951.5V953.3M214.1 951.5h2.2M214.1 953.3h2.2M218.5 951.5V953.3M217.4 951.5h2.2M217.4 953.3h2.2M221.9 951.4V953.2M220.8 951.4h2.2M220.8 953.2h2.2M225.2 951.3V953.1M224.1 951.3h2.2M224.1 953.1h2.2M228.6 951.2V953.0M227.5 951.2h2.2M227.5 953.0h2.2M231.9 951.2V953.0M230.8 951.2h2.2M230.8 953.0h2.2M235.2 951.1V952.9M234.1 951.1h2.2M234.1 952.9h2.2M238.6 951.0V952.8M237.5 951.0h2.2M237.5 952.8h2.2M241.9 950.6V952.4M240.8 950.6h2.2M240.8 952.4h2.2M245.3 950.2V952.0M244.2 950.2h2.2M244.2 952.0h2.2M248.6 949.8V951.6M247.5 949.8h2.2M247.5 951.6h2.2M251.9 949.4V951.2M250.8 949.4h2.2M250.8 951.2h2.2M255.3 948.3V950.1M254.2 948.3h2.2M254.2 950.1h2.2M258.6 947.2V949.0M257.5 947.2h2.2M257.5 949.0h2.2M262.0 946.3V948.1M260.9 946.3h2.2M260.9 948.1h2.2M265.3 945.1V946.9M264.2 945.1h2.2M264.2 946.9h2.2M268.6 943.1V944.9M267.5 943.1h2.2M267.5 944.9h2.2M272.0 941.0V942.8M270.9 941.0h2.2M270.9 942.8h2.2M275.3 939.4V941.2M274.2 939.4h2.2M274.2 941.2h2.2M278.7 937.0V938.8M277.6 937.0h2.2M277.6 938.8h2.2M282.0 934.8V936.6M280.9 934.8h2.2M280.9 936.6h2.2M285.3 932.8V934.7M284.2 932.8h2.2M284.2 934.7h2.2M288.7 930.1V932.4M287.6 930.1h2.2M287.6 932.4h2.2M292.0 927.9V930.3M290.9 927.9h2.2M290.9 930.3h2.2M295.4 925.8V928.4M294.3 925.8h2.2M294.3 928.4h2.2M298.7 923.0V925.9M297.6 923.0h2.2M297.6 925.9h2.2M302.0 920.9V924.0M300.9 920.9h2.2M300.9 924.0h2.2M305.4 916.8V920.3M304.3 916.8h2.2M304.3 920.3h2.2M308.7 913.0V916.9M307.6 913.0h2.2M307.6 916.9h2.2M312.1 910.6V914.7M311.0 910.6h2.2M311.0 914.7h2.2M315.4 906.6V911.0M314.3 906.6h2.2M314.3 911.0h2.2M318.7 903.0V907.8M317.6 903.0h2.2M317.6 907.8h2.2M322.1 899.0V904.2M321.0 899.0h2.2M321.0 904.2h2.2M325.4 897.0V902.4M324.3 897.0h2.2M324.3 902.4h2.2M328.8 891.0V896.9M327.7 891.0h2.2M327.7 896.9h2.2M332.1 887.8V894.1M331.0 887.8h2.2M331.0 894.1h2.2M335.4 882.7V889.5M334.3 882.7h2.2M334.3 889.5h2.2M338.8 879.1V886.2M337.7 879.1h2.2M337.7 886.2h2.2M342.1 873.4V881.0M341.0 873.4h2.2M341.0 881.0h2.2M345.5 867.9V876.1M344.4 867.9h2.2M344.4 876.1h2.2M348.8 863.2V871.8M347.7 863.2h2.2M347.7 871.8h2.2M352.1 857.2V866.4M351.0 857.2h2.2M351.0 866.4h2.2M355.5 855.9V865.2M354.4 855.9h2.2M354.4 865.2h2.2M358.8 849.8V859.7M357.7 849.8h2.2M357.7 859.7h2.2" stroke="#e8323c" stroke-width="0.5" fill="none"/>
<path d="M215.2 952.4h0M218.5 952.4h0M221.9 952.3h0M225.2 952.2h0M228.6 952.1h0M231.9 952.1h0M235.2 952.0h0M238.6 951.9h0M241.9 951.5h0M245.3 951.1h0M248.6 950.7h0M251.9 950.3h0M255.3 949.2h0M258.6 948.1h0M262.0 947.2h0M265.3 946.0h0M268.6 944.0h0M272.0 941.9h0M275.3 940.3h0M278.7 937.9h0M282.0 935.7h0M285.3 933.8h0M288.7 931.3h0M292.0 929.1h0M295.4 927.1h0M298.7 924.4h0M302.0 922.5h0M305.4 918.5h0M308.7 914.9h0M312.1 912.7h0M315.4 908.8h0M318.7 905.4h0M322.1 901.6h0M325.4 899.7h0M328.8 894.0h0M332.1 890.9h0M335.4 886.1h0M338.8 882.6h0M342.1 877.2h0M345.5 872.0h0M348.8 867.5h0M352.1 861.8h0M355.5 860.6h0M358.8 854.8h0" stroke="#e8323c" stroke-width="2.20" stroke-linecap="round" stroke-opacity="1.00" fill="none"/>
<line x1="217.80" y1="833.50" x2="228.70" y2="833.50" stroke="#000" stroke-width="0.90" />
<line x1="223.50" y1="832.20" x2="223.50" y2="834.80" stroke="#000" stroke-width="0.50" />
<circle cx="223.25" cy="833.50" r="1.00" fill="#000" />
<text x="235.20" y="835.70" font-size="6.10">gEV</text>
<line x1="217.80" y1="842.50" x2="228.70" y2="842.50" stroke="#f08c96" stroke-width="0.90" />
<line x1="223.50" y1="840.90" x2="223.50" y2="843.50" stroke="#f08c96" stroke-width="0.50" />
<circle cx="223.25" cy="842.20" r="1.00" fill="#f08c96" />
<text x="235.20" y="844.40" font-size="6.10">CRISPRa <tspan font-style="italic">SNAI1e</tspan> g1</text>
<line x1="217.80" y1="850.50" x2="228.70" y2="850.50" stroke="#e8323c" stroke-width="0.90" />
<line x1="223.50" y1="849.50" x2="223.50" y2="852.10" stroke="#e8323c" stroke-width="0.50" />
<circle cx="223.25" cy="850.80" r="1.00" fill="#e8323c" />
<text x="235.20" y="853.00" font-size="6.10">CRISPRa <tspan font-style="italic">SNAI1e</tspan> g2</text>
<line x1="217.80" y1="859.50" x2="228.70" y2="859.50" stroke="#3a55d0" stroke-width="0.90" />
<line x1="223.50" y1="857.90" x2="223.50" y2="860.50" stroke="#3a55d0" stroke-width="0.50" />
<circle cx="223.25" cy="859.20" r="1.00" fill="#3a55d0" />
<text x="235.20" y="861.40" font-size="6.10">gEV +SB</text>
<line x1="217.80" y1="867.50" x2="228.70" y2="867.50" stroke="#7a3ed0" stroke-width="0.90" />
<line x1="223.50" y1="866.60" x2="223.50" y2="869.20" stroke="#7a3ed0" stroke-width="0.50" />
<circle cx="223.25" cy="867.90" r="1.00" fill="#7a3ed0" />
<text x="235.20" y="870.10" font-size="6.10">CRISPRa <tspan font-style="italic">SNAI1e</tspan> g1 +SB</text>
<line x1="217.80" y1="876.50" x2="228.70" y2="876.50" stroke="#4cc04c" stroke-width="0.90" />
<line x1="223.50" y1="875.20" x2="223.50" y2="877.80" stroke="#4cc04c" stroke-width="0.50" />
<circle cx="223.25" cy="876.50" r="1.00" fill="#4cc04c" />
<text x="235.20" y="878.70" font-size="6.10">CRISPRa <tspan font-style="italic">SNAI1e</tspan> g2 +SB</text>
<line x1="305.50" y1="841.00" x2="305.50" y2="869.00" stroke="#000" stroke-width="0.50" />
<text x="0" y="2.09" font-size="5.80" text-anchor="middle" transform="translate(310.20 854.50) rotate(90)"><tspan font-style="italic">P</tspan> &lt; 0.0001</text>
<line x1="314.50" y1="849.00" x2="314.50" y2="878.00" stroke="#000" stroke-width="0.50" />
<text x="0" y="2.09" font-size="5.80" text-anchor="middle" transform="translate(318.00 863.80) rotate(90)"><tspan font-style="italic">P</tspan> &lt; 0.0001</text>
<text x="376.10" y="808.90" font-size="14.00" font-weight="bold">n</text>
<text x="438.40" y="845.98" font-size="8.00" text-anchor="middle">MDA-MB-231</text>
<text x="423.80" y="856.58" font-size="6.60" text-anchor="middle">Co.vec</text>
<text x="451.40" y="856.58" font-size="6.60" text-anchor="middle">+TβRI</text>
<line x1="414.20" y1="858.50" x2="432.80" y2="858.50" stroke="#999" stroke-width="1.00" />
<line x1="442.20" y1="858.50" x2="460.50" y2="858.50" stroke="#999" stroke-width="1.00" />
<text x="406.50" y="876.76" font-size="6.00" text-anchor="end">GapmeR</text>
<text x="0" y="0.00" font-size="6.20" transform="translate(415.00 877.80) rotate(-45)">Scr</text>
<text x="0" y="0.00" font-size="6.20" transform="translate(427.50 877.80) rotate(-45)"><tspan font-style="italic">SNAI1e</tspan></text>
<text x="0" y="0.00" font-size="6.20" transform="translate(443.00 877.80) rotate(-45)">Scr</text>
<text x="0" y="0.00" font-size="6.20" transform="translate(454.80 877.80) rotate(-45)"><tspan font-style="italic">SNAI1e</tspan></text>
<text x="466.00" y="880.18" font-size="6.60">kDa</text>
<rect x="408.40" y="881.50" width="55.50" height="17.00" fill="#f3f3f3" />
<rect x="412.30" y="891.08" width="10.00" height="2.04" rx="1.02" fill="#000" fill-opacity="0.10" filter="url(#b1)"/>
<rect x="424.70" y="891.08" width="10.00" height="2.04" rx="1.02" fill="#000" fill-opacity="0.06" filter="url(#b1)"/>
<rect x="437.90" y="883.50" width="11.00" height="8.00" rx="4.00" fill="#000" fill-opacity="0.18" filter="url(#b2)"/>
<rect x="437.65" y="890.57" width="11.50" height="3.06" rx="1.53" fill="#000" fill-opacity="0.95" filter="url(#b1)"/>
<rect x="451.50" y="883.50" width="11.00" height="8.00" rx="4.00" fill="#000" fill-opacity="0.18" filter="url(#b2)"/>
<rect x="451.25" y="890.57" width="11.50" height="3.06" rx="1.53" fill="#000" fill-opacity="0.95" filter="url(#b1)"/>
<rect x="408.50" y="881.50" width="55.00" height="17.00" fill="none" stroke="#2a2a2a" stroke-width="0.75" />
<rect x="408.40" y="903.20" width="55.50" height="17.40" fill="#f0f0f0" />
<rect x="412.30" y="912.39" width="10.00" height="2.21" rx="1.10" fill="#000" fill-opacity="0.22" filter="url(#b1)"/>
<rect x="424.70" y="912.39" width="10.00" height="2.21" rx="1.10" fill="#000" fill-opacity="0.12" filter="url(#b1)"/>
<rect x="437.40" y="903.50" width="12.00" height="5.00" rx="2.50" fill="#000" fill-opacity="0.30" filter="url(#b2)"/>
<rect x="436.90" y="905.3" width="13" height="14.6" rx="4.5" fill="#000" filter="url(#b1)"/>
<rect x="451.00" y="903.50" width="12.00" height="5.00" rx="2.50" fill="#000" fill-opacity="0.30" filter="url(#b2)"/>
<rect x="450.50" y="905.3" width="13" height="14.6" rx="4.5" fill="#000" filter="url(#b1)"/>
<rect x="408.50" y="903.50" width="55.00" height="17.00" fill="none" stroke="#2a2a2a" stroke-width="0.75" />
<rect x="408.40" y="924.60" width="55.50" height="17.40" fill="#efefef" />
<rect x="412.05" y="933.28" width="10.50" height="2.04" rx="1.02" fill="#000" fill-opacity="0.40" filter="url(#b1)"/>
<rect x="424.45" y="933.28" width="10.50" height="2.04" rx="1.02" fill="#000" fill-opacity="0.40" filter="url(#b1)"/>
<rect x="438.15" y="933.28" width="10.50" height="2.04" rx="1.02" fill="#000" fill-opacity="0.40" filter="url(#b1)"/>
<rect x="451.75" y="933.28" width="10.50" height="2.04" rx="1.02" fill="#000" fill-opacity="0.40" filter="url(#b1)"/>
<rect x="408.50" y="924.50" width="55.00" height="18.00" fill="none" stroke="#2a2a2a" stroke-width="0.75" />
<text x="405.20" y="893.52" font-size="7.00" text-anchor="end">TβRI</text>
<text x="405.20" y="900.81" font-size="5.30" text-anchor="end">short exp.</text>
<text x="405.20" y="914.82" font-size="7.00" text-anchor="end">TβRI</text>
<text x="405.20" y="922.21" font-size="5.30" text-anchor="end">long exp.</text>
<text x="405.20" y="936.29" font-size="7.20" text-anchor="end">GAPDH</text>
<line x1="463.90" y1="892.50" x2="466.10" y2="892.50" stroke="#000" stroke-width="0.60" />
<text x="466.90" y="894.68" font-size="6.60">55</text>
<line x1="463.90" y1="913.50" x2="466.10" y2="913.50" stroke="#000" stroke-width="0.60" />
<text x="466.90" y="916.18" font-size="6.60">55</text>
<line x1="463.90" y1="938.50" x2="466.10" y2="938.50" stroke="#000" stroke-width="0.60" />
<text x="466.90" y="940.98" font-size="6.60">35</text>
<text x="497.05" y="808.60" font-size="14.00" font-weight="bold">o</text>
<text x="528.20" y="816.94" font-size="7.60">Transwell</text>
<text x="610.20" y="822.95" font-size="8.20" text-anchor="middle">MDA-MB-231</text>
<line x1="538.50" y1="954.70" x2="538.50" y2="824.90" stroke="#000" stroke-width="0.70" />
<line x1="538.30" y1="954.50" x2="682.80" y2="954.50" stroke="#000" stroke-width="0.70" />
<line x1="535.50" y1="954.50" x2="538.30" y2="954.50" stroke="#000" stroke-width="0.70" />
<text x="534.40" y="957.44" font-size="7.60" text-anchor="end">0</text>
<line x1="535.50" y1="928.50" x2="538.30" y2="928.50" stroke="#000" stroke-width="0.70" />
<text x="534.40" y="931.54" font-size="7.60" text-anchor="end">0.2</text>
<line x1="535.50" y1="902.50" x2="538.30" y2="902.50" stroke="#000" stroke-width="0.70" />
<text x="534.40" y="905.64" font-size="7.60" text-anchor="end">0.4</text>
<line x1="535.50" y1="877.50" x2="538.30" y2="877.50" stroke="#000" stroke-width="0.70" />
<text x="534.40" y="879.74" font-size="7.60" text-anchor="end">0.6</text>
<line x1="535.50" y1="851.50" x2="538.30" y2="851.50" stroke="#000" stroke-width="0.70" />
<text x="534.40" y="853.84" font-size="7.60" text-anchor="end">0.8</text>
<line x1="535.50" y1="825.50" x2="538.30" y2="825.50" stroke="#000" stroke-width="0.70" />
<text x="534.40" y="827.94" font-size="7.60" text-anchor="end">1.0</text>
<line x1="555.50" y1="954.70" x2="555.50" y2="957.50" stroke="#000" stroke-width="0.70" />
<text x="555.46" y="966.64" font-size="7.60" text-anchor="middle">6</text>
<line x1="575.50" y1="954.70" x2="575.50" y2="957.50" stroke="#000" stroke-width="0.70" />
<text x="575.42" y="966.64" font-size="7.60" text-anchor="middle">14</text>
<line x1="595.50" y1="954.70" x2="595.50" y2="957.50" stroke="#000" stroke-width="0.70" />
<text x="595.37" y="966.64" font-size="7.60" text-anchor="middle">22</text>
<line x1="615.50" y1="954.70" x2="615.50" y2="957.50" stroke="#000" stroke-width="0.70" />
<text x="615.32" y="966.64" font-size="7.60" text-anchor="middle">30</text>
<line x1="635.50" y1="954.70" x2="635.50" y2="957.50" stroke="#000" stroke-width="0.70" />
<text x="635.27" y="966.64" font-size="7.60" text-anchor="middle">38</text>
<line x1="655.50" y1="954.70" x2="655.50" y2="957.50" stroke="#000" stroke-width="0.70" />
<text x="655.22" y="966.64" font-size="7.60" text-anchor="middle">46</text>
<line x1="675.50" y1="954.70" x2="675.50" y2="957.50" stroke="#000" stroke-width="0.70" />
<text x="675.18" y="966.64" font-size="7.60" text-anchor="middle">54</text>
<text x="611.10" y="974.76" font-size="8.50" text-anchor="middle">Time (h)</text>
<text x="0" y="2.95" font-size="8.20" text-anchor="middle" transform="translate(505.50 891.50) rotate(-90)">Object count (bottom)</text>
<text x="0" y="2.95" font-size="8.20" text-anchor="middle" transform="translate(513.70 891.50) rotate(-90)">normalized to initial top value</text>
<polyline points="540.50,953.41 545.49,953.31 550.48,953.22 555.46,953.13 560.45,953.04 565.44,952.94 570.43,952.85 575.42,952.76 580.40,952.14 585.39,951.53 590.38,950.91 595.37,950.31 600.36,949.08 605.34,947.92 610.33,946.33 615.32,945.53 620.31,943.50 625.30,941.44 630.28,940.37 635.27,938.20 640.26,936.21 645.25,934.99 650.24,932.68 655.22,930.32 660.21,927.20 665.20,923.20 670.19,920.45 675.18,916.46 680.16,910.81" fill="none" stroke="#a8a8a8" stroke-width="0.80" stroke-linejoin="round" />
<path d="M625.3 940.8V942.1M624.2 940.8h2.2M624.2 942.1h2.2M630.3 939.7V941.1M629.2 939.7h2.2M629.2 941.1h2.2M635.3 937.4V939.0M634.2 937.4h2.2M634.2 939.0h2.2M640.3 935.3V937.1M639.2 935.3h2.2M639.2 937.1h2.2M645.2 934.0V936.0M644.1 934.0h2.2M644.1 936.0h2.2M650.2 931.6V933.8M649.1 931.6h2.2M649.1 933.8h2.2M655.2 929.1V931.5M654.1 929.1h2.2M654.1 931.5h2.2M660.2 925.8V928.6M659.1 925.8h2.2M659.1 928.6h2.2M665.2 921.6V924.8M664.1 921.6h2.2M664.1 924.8h2.2M670.2 918.7V922.2M669.1 918.7h2.2M669.1 922.2h2.2M675.2 914.5V918.4M674.1 914.5h2.2M674.1 918.4h2.2M680.2 908.6V913.0M679.1 908.6h2.2M679.1 913.0h2.2" stroke="#a8a8a8" stroke-width="0.5" fill="none"/>
<path d="M540.5 953.4h0M545.5 953.3h0M550.5 953.2h0M555.5 953.1h0M560.5 953.0h0M565.4 952.9h0M570.4 952.9h0M575.4 952.8h0M580.4 952.1h0M585.4 951.5h0M590.4 950.9h0M595.4 950.3h0M600.4 949.1h0M605.3 947.9h0M610.3 946.3h0M615.3 945.5h0M620.3 943.5h0M625.3 941.4h0M630.3 940.4h0M635.3 938.2h0M640.3 936.2h0M645.2 935.0h0M650.2 932.7h0M655.2 930.3h0M660.2 927.2h0M665.2 923.2h0M670.2 920.5h0M675.2 916.5h0M680.2 910.8h0" stroke="#a8a8a8" stroke-width="2.20" stroke-linecap="round" stroke-opacity="1.00" fill="none"/>
<polyline points="540.50,954.05 545.49,954.00 550.48,953.94 555.46,953.89 560.45,953.83 565.44,953.78 570.43,953.72 575.42,953.66 580.40,953.53 585.39,953.41 590.38,953.28 595.37,953.15 600.36,952.82 605.34,952.50 610.33,952.17 615.32,951.85 620.31,951.20 625.30,950.56 630.28,949.91 635.27,949.26 640.26,948.03 645.25,946.80 650.24,945.57 655.22,944.34 660.21,943.05 665.20,941.75 670.19,939.81 675.18,937.87 680.16,934.37" fill="none" stroke="#000" stroke-width="0.80" stroke-linejoin="round" />
<path d="M540.5 954.1h0M545.5 954.0h0M550.5 953.9h0M555.5 953.9h0M560.5 953.8h0M565.4 953.8h0M570.4 953.7h0M575.4 953.7h0M580.4 953.5h0M585.4 953.4h0M590.4 953.3h0M595.4 953.1h0M600.4 952.8h0M605.3 952.5h0M610.3 952.2h0M615.3 951.9h0M620.3 951.2h0M625.3 950.6h0M630.3 949.9h0M635.3 949.3h0M640.3 948.0h0M645.2 946.8h0M650.2 945.6h0M655.2 944.3h0M660.2 943.0h0M665.2 941.8h0M670.2 939.8h0M675.2 937.9h0M680.2 934.4h0" stroke="#000" stroke-width="2.60" stroke-linecap="round" stroke-opacity="1.00" fill="none"/>
<polyline points="540.50,952.76 545.49,952.76 550.48,952.76 555.46,952.76 560.45,952.76 565.44,952.76 570.43,951.92 575.42,951.07 580.40,949.07 585.39,947.06 590.38,945.05 595.37,943.04 600.36,938.76 605.34,935.17 610.33,931.01 615.32,927.69 620.31,923.16 625.30,920.57 630.28,916.34 635.27,911.52 640.26,905.81 645.25,901.21 650.24,896.92 655.22,890.86 660.21,891.08 665.20,878.02 670.19,871.60 675.18,870.77 680.16,861.95" fill="none" stroke="#f08a2a" stroke-width="0.80" stroke-linejoin="round" />
<path d="M600.4 938.0V939.6M599.3 938.0h2.2M599.3 939.6h2.2M605.3 934.2V936.1M604.2 934.2h2.2M604.2 936.1h2.2M610.3 929.8V932.2M609.2 929.8h2.2M609.2 932.2h2.2M615.3 926.3V929.0M614.2 926.3h2.2M614.2 929.0h2.2M620.3 921.6V924.7M619.2 921.6h2.2M619.2 924.7h2.2M625.3 918.9V922.3M624.2 918.9h2.2M624.2 922.3h2.2M630.3 914.4V918.3M629.2 914.4h2.2M629.2 918.3h2.2M635.3 909.4V913.7M634.2 909.4h2.2M634.2 913.7h2.2M640.3 903.4V908.3M639.2 903.4h2.2M639.2 908.3h2.2M645.2 898.5V903.9M644.1 898.5h2.2M644.1 903.9h2.2M650.2 894.0V899.8M649.1 894.0h2.2M649.1 899.8h2.2M655.2 887.7V894.0M654.1 887.7h2.2M654.1 894.0h2.2M660.2 887.9V894.3M659.1 887.9h2.2M659.1 894.3h2.2M665.2 874.2V881.9M664.1 874.2h2.2M664.1 881.9h2.2M670.2 867.4V875.8M669.1 867.4h2.2M669.1 875.8h2.2M675.2 866.6V875.0M674.1 866.6h2.2M674.1 875.0h2.2M680.2 857.3V866.6M679.1 857.3h2.2M679.1 866.6h2.2" stroke="#f08a2a" stroke-width="0.5" fill="none"/>
<path d="M540.5 952.8h0M545.5 952.8h0M550.5 952.8h0M555.5 952.8h0M560.5 952.8h0M565.4 952.8h0M570.4 951.9h0M575.4 951.1h0M580.4 949.1h0M585.4 947.1h0M590.4 945.1h0M595.4 943.0h0M600.4 938.8h0M605.3 935.2h0M610.3 931.0h0M615.3 927.7h0M620.3 923.2h0M625.3 920.6h0M630.3 916.3h0M635.3 911.5h0M640.3 905.8h0M645.2 901.2h0M650.2 896.9h0M655.2 890.9h0M660.2 891.1h0M665.2 878.0h0M670.2 871.6h0M675.2 870.8h0M680.2 861.9h0" stroke="#f08a2a" stroke-width="2.20" stroke-linecap="round" stroke-opacity="1.00" fill="none"/>
<polyline points="540.50,953.41 545.49,953.28 550.48,953.15 555.46,953.02 560.45,952.89 565.44,952.76 570.43,951.79 575.42,950.82 580.40,948.55 585.39,946.28 590.38,944.02 595.37,941.46 600.36,937.78 605.34,933.04 610.33,928.46 615.32,924.89 620.31,920.09 625.30,914.90 630.28,913.28 635.27,908.46 640.26,903.60 645.25,895.82 650.24,888.25 655.22,884.74 660.21,879.92 665.20,873.89 670.19,867.73 675.18,866.67 680.16,858.73" fill="none" stroke="#b347f0" stroke-width="0.80" stroke-linejoin="round" />
<path d="M595.4 940.8V942.1M594.3 940.8h2.2M594.3 942.1h2.2M600.4 936.9V938.6M599.3 936.9h2.2M599.3 938.6h2.2M605.3 932.0V934.1M604.2 932.0h2.2M604.2 934.1h2.2M610.3 927.1V929.8M609.2 927.1h2.2M609.2 929.8h2.2M615.3 923.4V926.4M614.2 923.4h2.2M614.2 926.4h2.2M620.3 918.4V921.8M619.2 918.4h2.2M619.2 921.8h2.2M625.3 912.9V916.9M624.2 912.9h2.2M624.2 916.9h2.2M630.3 911.2V915.3M629.2 911.2h2.2M629.2 915.3h2.2M635.3 906.1V910.8M634.2 906.1h2.2M634.2 910.8h2.2M640.3 901.0V906.2M639.2 901.0h2.2M639.2 906.2h2.2M645.2 892.9V898.8M644.1 892.9h2.2M644.1 898.8h2.2M650.2 884.9V891.6M649.1 884.9h2.2M649.1 891.6h2.2M655.2 881.2V888.2M654.1 881.2h2.2M654.1 888.2h2.2M660.2 876.2V883.7M659.1 876.2h2.2M659.1 883.7h2.2M665.2 869.9V877.9M664.1 869.9h2.2M664.1 877.9h2.2M670.2 863.4V872.1M669.1 863.4h2.2M669.1 872.1h2.2M675.2 862.3V871.1M674.1 862.3h2.2M674.1 871.1h2.2M680.2 853.9V863.5M679.1 853.9h2.2M679.1 863.5h2.2" stroke="#b347f0" stroke-width="0.5" fill="none"/>
<path d="M540.5 953.4h0M545.5 953.3h0M550.5 953.1h0M555.5 953.0h0M560.5 952.9h0M565.4 952.8h0M570.4 951.8h0M575.4 950.8h0M580.4 948.5h0M585.4 946.3h0M590.4 944.0h0M595.4 941.5h0M600.4 937.8h0M605.3 933.0h0M610.3 928.5h0M615.3 924.9h0M620.3 920.1h0M625.3 914.9h0M630.3 913.3h0M635.3 908.5h0M640.3 903.6h0M645.2 895.8h0M650.2 888.2h0M655.2 884.7h0M660.2 879.9h0M665.2 873.9h0M670.2 867.7h0M675.2 866.7h0M680.2 858.7h0" stroke="#b347f0" stroke-width="2.20" stroke-linecap="round" stroke-opacity="1.00" fill="none"/>
<line x1="544.60" y1="837.50" x2="554.70" y2="837.50" stroke="#a8a8a8" stroke-width="0.90" />
<circle cx="549.60" cy="837.10" r="1.10" fill="#a8a8a8" />
<text x="560.20" y="839.21" font-size="5.85">Scr GapmeR</text>
<line x1="544.60" y1="845.50" x2="554.70" y2="845.50" stroke="#000" stroke-width="0.90" />
<circle cx="549.60" cy="845.80" r="1.40" fill="#000" />
<text x="560.20" y="847.91" font-size="5.85"><tspan font-style="italic">SNAI1e</tspan> GapmeR</text>
<line x1="544.60" y1="854.50" x2="554.70" y2="854.50" stroke="#b347f0" stroke-width="0.90" />
<circle cx="549.60" cy="854.40" r="1.10" fill="#b347f0" />
<text x="560.20" y="856.51" font-size="5.85">Scr GapmeR +TβRI</text>
<line x1="544.60" y1="862.50" x2="554.70" y2="862.50" stroke="#f08a2a" stroke-width="0.90" />
<circle cx="549.60" cy="862.70" r="1.10" fill="#f08a2a" />
<text x="560.20" y="864.81" font-size="5.85"><tspan font-style="italic">SNAI1e</tspan> GapmeR +TβRI</text>
<line x1="624.50" y1="845.80" x2="624.50" y2="863.80" stroke="#000" stroke-width="0.50" />
<text x="0" y="2.09" font-size="5.80" text-anchor="middle" transform="translate(629.60 854.00) rotate(90)"><tspan font-style="italic">P</tspan> &lt; 0.0001</text>
</svg></body></html>
